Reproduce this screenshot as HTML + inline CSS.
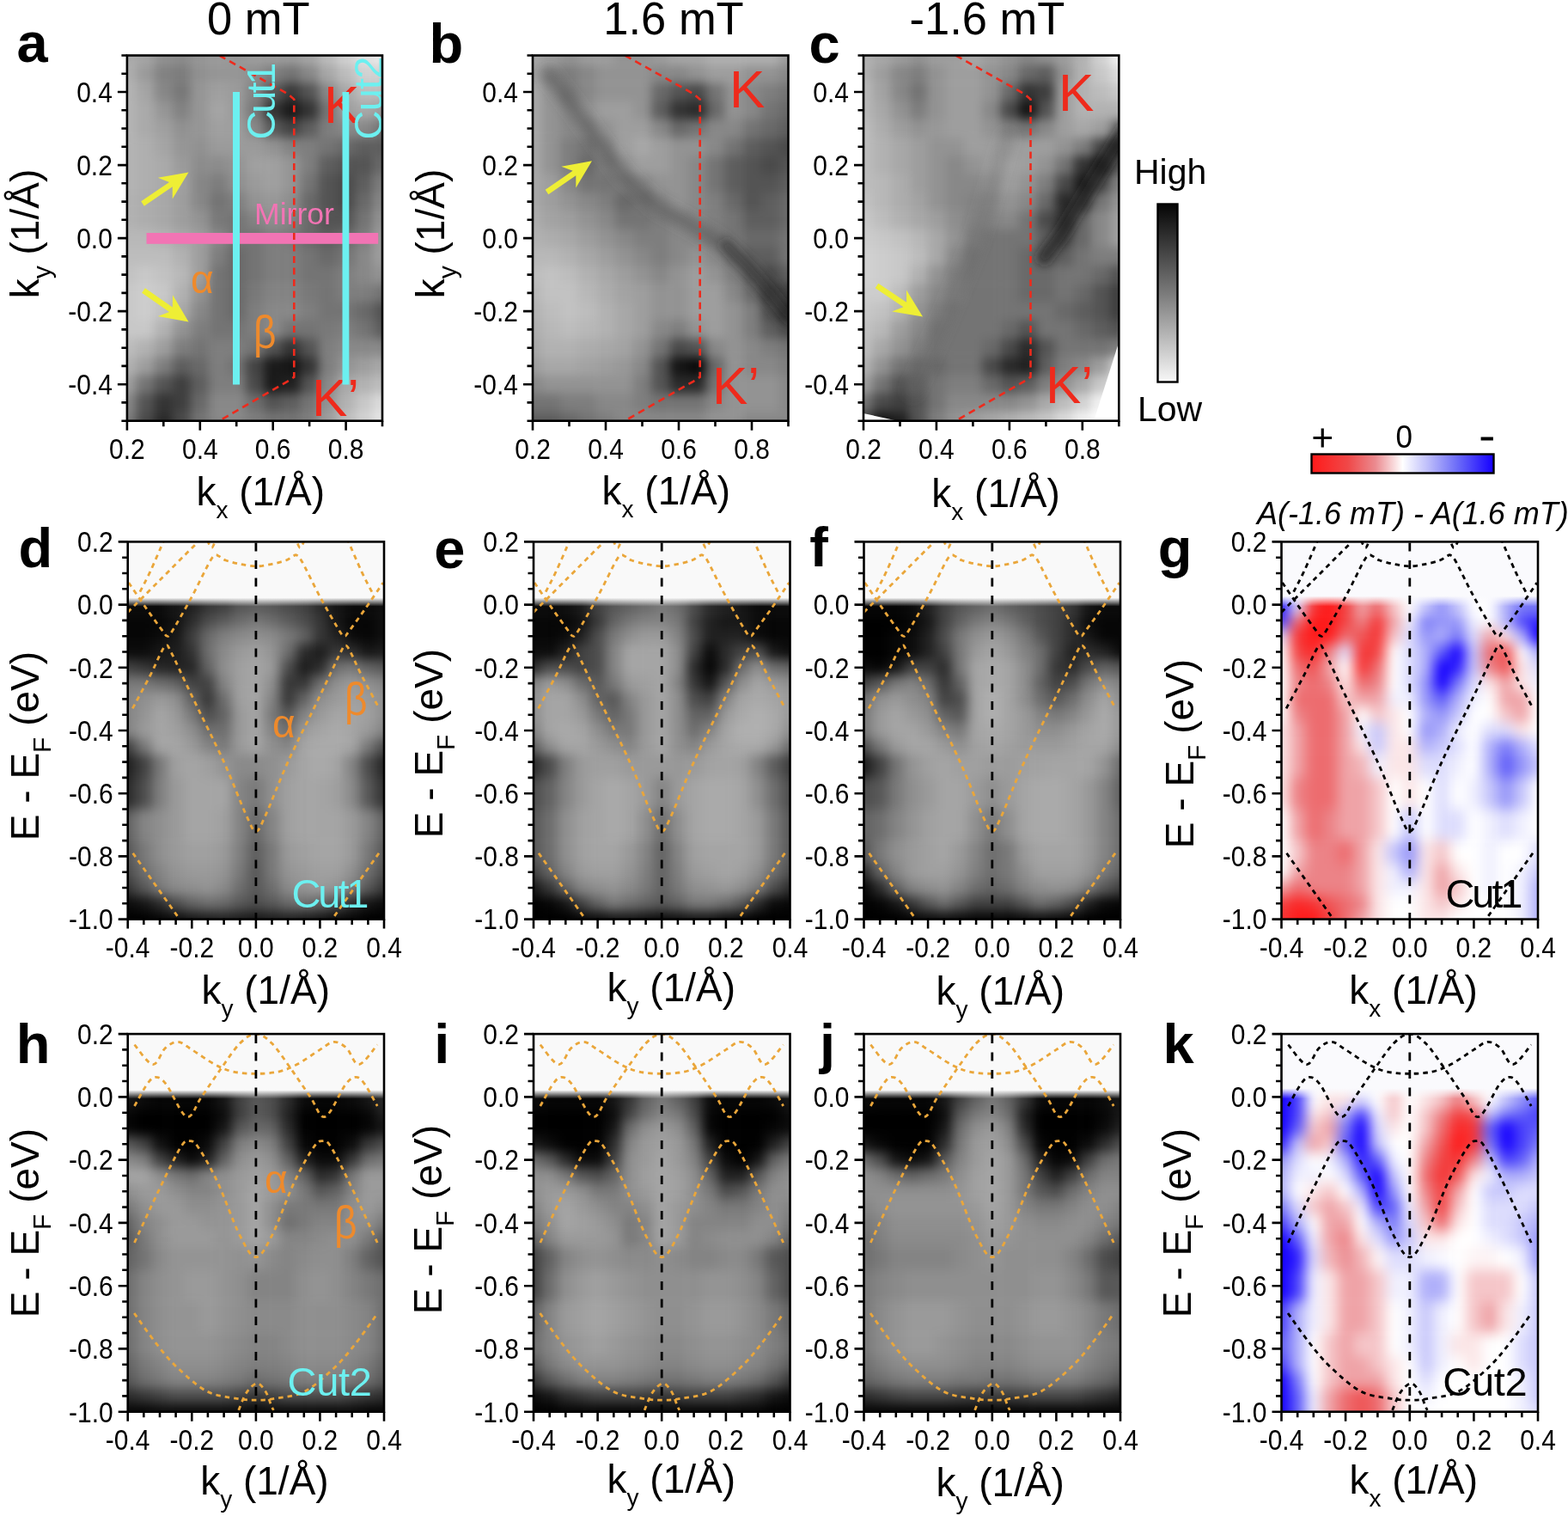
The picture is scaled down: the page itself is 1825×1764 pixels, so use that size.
<!DOCTYPE html>
<html><head><meta charset="utf-8"><style>
html,body{margin:0;padding:0;background:#fff;}
svg{display:block;}
text{font-family:'Liberation Sans', Arial, Helvetica, sans-serif;}
</style></head><body>
<svg width="1825" height="1764" viewBox="0 0 1825 1764">
<defs><clipPath id="c1"><rect x="148.7" y="630.4" width="298.3" height="439.2"/></clipPath>
<filter id="b1" x="-20%" y="-20%" width="140%" height="140%" color-interpolation-filters="sRGB"><feGaussianBlur stdDeviation="6.5"/></filter>
<linearGradient id="g2" gradientUnits="userSpaceOnUse" x1="0" y1="695.6" x2="0" y2="705.6"><stop offset="0" stop-color="#f9f9f9"/><stop offset="1" stop-color="#f9f9f9" stop-opacity="0"/></linearGradient>
<clipPath id="c3"><rect x="621" y="630.4" width="298.5" height="439.2"/></clipPath>
<filter id="b3" x="-20%" y="-20%" width="140%" height="140%" color-interpolation-filters="sRGB"><feGaussianBlur stdDeviation="6.5"/></filter>
<linearGradient id="g4" gradientUnits="userSpaceOnUse" x1="0" y1="695.6" x2="0" y2="705.6"><stop offset="0" stop-color="#f9f9f9"/><stop offset="1" stop-color="#f9f9f9" stop-opacity="0"/></linearGradient>
<clipPath id="c5"><rect x="1005.5" y="630.4" width="298.5" height="439.2"/></clipPath>
<filter id="b5" x="-20%" y="-20%" width="140%" height="140%" color-interpolation-filters="sRGB"><feGaussianBlur stdDeviation="6.5"/></filter>
<linearGradient id="g6" gradientUnits="userSpaceOnUse" x1="0" y1="695.6" x2="0" y2="705.6"><stop offset="0" stop-color="#f9f9f9"/><stop offset="1" stop-color="#f9f9f9" stop-opacity="0"/></linearGradient>
<clipPath id="c7"><rect x="148.7" y="1203.1" width="298.3" height="439.6"/></clipPath>
<filter id="b7" x="-20%" y="-20%" width="140%" height="140%" color-interpolation-filters="sRGB"><feGaussianBlur stdDeviation="6.5"/></filter>
<linearGradient id="g8" gradientUnits="userSpaceOnUse" x1="0" y1="1268.4" x2="0" y2="1278.4"><stop offset="0" stop-color="#f9f9f9"/><stop offset="1" stop-color="#f9f9f9" stop-opacity="0"/></linearGradient>
<clipPath id="c9"><rect x="621" y="1203.1" width="298.5" height="439.6"/></clipPath>
<filter id="b9" x="-20%" y="-20%" width="140%" height="140%" color-interpolation-filters="sRGB"><feGaussianBlur stdDeviation="6.5"/></filter>
<linearGradient id="g10" gradientUnits="userSpaceOnUse" x1="0" y1="1268.4" x2="0" y2="1278.4"><stop offset="0" stop-color="#f9f9f9"/><stop offset="1" stop-color="#f9f9f9" stop-opacity="0"/></linearGradient>
<clipPath id="c11"><rect x="1005.5" y="1203.1" width="298.5" height="439.6"/></clipPath>
<filter id="b11" x="-20%" y="-20%" width="140%" height="140%" color-interpolation-filters="sRGB"><feGaussianBlur stdDeviation="6.5"/></filter>
<linearGradient id="g12" gradientUnits="userSpaceOnUse" x1="0" y1="1268.4" x2="0" y2="1278.4"><stop offset="0" stop-color="#f9f9f9"/><stop offset="1" stop-color="#f9f9f9" stop-opacity="0"/></linearGradient>
<clipPath id="c13"><rect x="147.9" y="64.5" width="297.1" height="425.2"/></clipPath>
<filter id="b13" x="-20%" y="-20%" width="140%" height="140%" color-interpolation-filters="sRGB"><feGaussianBlur stdDeviation="6"/></filter>
<clipPath id="c14"><rect x="620" y="64.5" width="297.5" height="425.2"/></clipPath>
<filter id="b14" x="-20%" y="-20%" width="140%" height="140%" color-interpolation-filters="sRGB"><feGaussianBlur stdDeviation="6"/></filter>
<clipPath id="c15"><rect x="1005" y="64.5" width="297.3" height="425.2"/></clipPath>
<filter id="b15" x="-20%" y="-20%" width="140%" height="140%" color-interpolation-filters="sRGB"><feGaussianBlur stdDeviation="6"/></filter>
<filter id="bb16" x="-30%" y="-30%" width="160%" height="160%"><feGaussianBlur stdDeviation="6"/></filter>
<filter id="bb17" x="-30%" y="-30%" width="160%" height="160%"><feGaussianBlur stdDeviation="6.5"/></filter>
<filter id="bb18" x="-30%" y="-30%" width="160%" height="160%"><feGaussianBlur stdDeviation="5.5"/></filter>
<filter id="bb19" x="-30%" y="-30%" width="160%" height="160%"><feGaussianBlur stdDeviation="7"/></filter>
<clipPath id="c20"><rect x="1491.5" y="630.4" width="298.5" height="439.2"/></clipPath>
<filter id="b20" x="-20%" y="-20%" width="140%" height="140%" color-interpolation-filters="sRGB"><feGaussianBlur stdDeviation="7.5"/></filter>
<linearGradient id="g21" gradientUnits="userSpaceOnUse" x1="0" y1="693.6" x2="0" y2="705.6"><stop offset="0" stop-color="#fafafd"/><stop offset="1" stop-color="#fafafd" stop-opacity="0"/></linearGradient>
<clipPath id="c22"><rect x="1491.5" y="1203.1" width="298.5" height="439.6"/></clipPath>
<filter id="b22" x="-20%" y="-20%" width="140%" height="140%" color-interpolation-filters="sRGB"><feGaussianBlur stdDeviation="7.5"/></filter>
<linearGradient id="g23" gradientUnits="userSpaceOnUse" x1="0" y1="1266.4" x2="0" y2="1278.4"><stop offset="0" stop-color="#fafafd"/><stop offset="1" stop-color="#fafafd" stop-opacity="0"/></linearGradient>
<clipPath id="frd"><rect x="148.7" y="630.4" width="298.3" height="439.2"/></clipPath>
<clipPath id="fre"><rect x="621" y="630.4" width="298.5" height="439.2"/></clipPath>
<clipPath id="frf"><rect x="1005.5" y="630.4" width="298.5" height="439.2"/></clipPath>
<clipPath id="frg"><rect x="1491.5" y="630.4" width="298.5" height="439.2"/></clipPath>
<clipPath id="frh"><rect x="148.7" y="1203.1" width="298.3" height="439.6"/></clipPath>
<clipPath id="fri"><rect x="621" y="1203.1" width="298.5" height="439.6"/></clipPath>
<clipPath id="frj"><rect x="1005.5" y="1203.1" width="298.5" height="439.6"/></clipPath>
<clipPath id="frk"><rect x="1491.5" y="1203.1" width="298.5" height="439.6"/></clipPath>
<clipPath id="fra"><rect x="147.9" y="64.5" width="297.1" height="425.2"/></clipPath>
<clipPath id="frb"><rect x="620" y="64.5" width="297.5" height="425.2"/></clipPath>
<clipPath id="frc"><rect x="1005" y="64.5" width="297.3" height="425.2"/></clipPath>
<linearGradient id="cbg" x1="0" y1="0" x2="0" y2="1"><stop offset="0" stop-color="#050505"/><stop offset="0.5" stop-color="#7a7a7a"/><stop offset="1" stop-color="#f8f8f8"/></linearGradient>
<linearGradient id="cbrb" x1="0" y1="0" x2="1" y2="0"><stop offset="0" stop-color="#ff1a1a"/><stop offset="0.2" stop-color="#f04848"/><stop offset="0.35" stop-color="#eb8a8f"/><stop offset="0.5" stop-color="#ffffff"/><stop offset="0.65" stop-color="#b8b8fa"/><stop offset="0.8" stop-color="#6c6cf8"/><stop offset="1" stop-color="#1500ff"/></linearGradient></defs>
<rect width="1825" height="1764" fill="#fff"/>
<g clip-path="url(#c1)"><g filter="url(#b1)"><rect x="118.7" y="600.4" width="39.8" height="116.5" fill="#0b0b0b"/><rect x="158" y="600.4" width="19.1" height="116.5" fill="#0b0b0b"/><rect x="176.7" y="600.4" width="19.1" height="116.5" fill="#0b0b0b"/><rect x="195.3" y="600.4" width="19.1" height="116.5" fill="#161616"/><rect x="214" y="600.4" width="19.1" height="116.5" fill="#212121"/><rect x="232.6" y="600.4" width="19.1" height="116.5" fill="#373737"/><rect x="251.2" y="600.4" width="19.1" height="116.5" fill="#424242"/><rect x="269.9" y="600.4" width="19.1" height="116.5" fill="#585858"/><rect x="288.5" y="600.4" width="19.1" height="116.5" fill="#5e5e5e"/><rect x="307.2" y="600.4" width="19.1" height="116.5" fill="#585858"/><rect x="325.8" y="600.4" width="19.1" height="116.5" fill="#4d4d4d"/><rect x="344.5" y="600.4" width="19.1" height="116.5" fill="#424242"/><rect x="363.1" y="600.4" width="19.1" height="116.5" fill="#2c2c2c"/><rect x="381.7" y="600.4" width="19.1" height="116.5" fill="#161616"/><rect x="400.4" y="600.4" width="19.1" height="116.5" fill="#0b0b0b"/><rect x="419" y="600.4" width="19.1" height="116.5" fill="#0b0b0b"/><rect x="437.7" y="600.4" width="39.8" height="116.5" fill="#101010"/><rect x="118.7" y="716.4" width="39.8" height="15.1" fill="#060606"/><rect x="158" y="716.4" width="19.1" height="15.1" fill="#060606"/><rect x="176.7" y="716.4" width="19.1" height="15.1" fill="#060606"/><rect x="195.3" y="716.4" width="19.1" height="15.1" fill="#101010"/><rect x="214" y="716.4" width="19.1" height="15.1" fill="#2c2c2c"/><rect x="232.6" y="716.4" width="19.1" height="15.1" fill="#4d4d4d"/><rect x="251.2" y="716.4" width="19.1" height="15.1" fill="#5e5e5e"/><rect x="269.9" y="716.4" width="19.1" height="15.1" fill="#6e6e6e"/><rect x="288.5" y="716.4" width="19.1" height="15.1" fill="#797979"/><rect x="307.2" y="716.4" width="19.1" height="15.1" fill="#6e6e6e"/><rect x="325.8" y="716.4" width="19.1" height="15.1" fill="#5e5e5e"/><rect x="344.5" y="716.4" width="19.1" height="15.1" fill="#4d4d4d"/><rect x="363.1" y="716.4" width="19.1" height="15.1" fill="#373737"/><rect x="381.7" y="716.4" width="19.1" height="15.1" fill="#161616"/><rect x="400.4" y="716.4" width="19.1" height="15.1" fill="#060606"/><rect x="419" y="716.4" width="19.1" height="15.1" fill="#060606"/><rect x="437.7" y="716.4" width="39.8" height="15.1" fill="#101010"/><rect x="118.7" y="731" width="39.8" height="18.8" fill="#060606"/><rect x="158" y="731" width="19.1" height="18.8" fill="#060606"/><rect x="176.7" y="731" width="19.1" height="18.8" fill="#0b0b0b"/><rect x="195.3" y="731" width="19.1" height="18.8" fill="#161616"/><rect x="214" y="731" width="19.1" height="18.8" fill="#3d3d3d"/><rect x="232.6" y="731" width="19.1" height="18.8" fill="#696969"/><rect x="251.2" y="731" width="19.1" height="18.8" fill="#7f7f7f"/><rect x="269.9" y="731" width="19.1" height="18.8" fill="#8a8a8a"/><rect x="288.5" y="731" width="19.1" height="18.8" fill="#8f8f8f"/><rect x="307.2" y="731" width="19.1" height="18.8" fill="#8a8a8a"/><rect x="325.8" y="731" width="19.1" height="18.8" fill="#797979"/><rect x="344.5" y="731" width="19.1" height="18.8" fill="#636363"/><rect x="363.1" y="731" width="19.1" height="18.8" fill="#373737"/><rect x="381.7" y="731" width="19.1" height="18.8" fill="#212121"/><rect x="400.4" y="731" width="19.1" height="18.8" fill="#0b0b0b"/><rect x="419" y="731" width="19.1" height="18.8" fill="#060606"/><rect x="437.7" y="731" width="39.8" height="18.8" fill="#101010"/><rect x="118.7" y="749.4" width="39.8" height="18.8" fill="#0b0b0b"/><rect x="158" y="749.4" width="19.1" height="18.8" fill="#0b0b0b"/><rect x="176.7" y="749.4" width="19.1" height="18.8" fill="#161616"/><rect x="195.3" y="749.4" width="19.1" height="18.8" fill="#1c1c1c"/><rect x="214" y="749.4" width="19.1" height="18.8" fill="#323232"/><rect x="232.6" y="749.4" width="19.1" height="18.8" fill="#6e6e6e"/><rect x="251.2" y="749.4" width="19.1" height="18.8" fill="#8a8a8a"/><rect x="269.9" y="749.4" width="19.1" height="18.8" fill="#9a9a9a"/><rect x="288.5" y="749.4" width="19.1" height="18.8" fill="#a0a0a0"/><rect x="307.2" y="749.4" width="19.1" height="18.8" fill="#949494"/><rect x="325.8" y="749.4" width="19.1" height="18.8" fill="#6e6e6e"/><rect x="344.5" y="749.4" width="19.1" height="18.8" fill="#2c2c2c"/><rect x="363.1" y="749.4" width="19.1" height="18.8" fill="#1c1c1c"/><rect x="381.7" y="749.4" width="19.1" height="18.8" fill="#373737"/><rect x="400.4" y="749.4" width="19.1" height="18.8" fill="#2c2c2c"/><rect x="419" y="749.4" width="19.1" height="18.8" fill="#161616"/><rect x="437.7" y="749.4" width="39.8" height="18.8" fill="#1c1c1c"/><rect x="118.7" y="767.6" width="39.8" height="18.8" fill="#424242"/><rect x="158" y="767.6" width="19.1" height="18.8" fill="#373737"/><rect x="176.7" y="767.6" width="19.1" height="18.8" fill="#262626"/><rect x="195.3" y="767.6" width="19.1" height="18.8" fill="#212121"/><rect x="214" y="767.6" width="19.1" height="18.8" fill="#262626"/><rect x="232.6" y="767.6" width="19.1" height="18.8" fill="#636363"/><rect x="251.2" y="767.6" width="19.1" height="18.8" fill="#8f8f8f"/><rect x="269.9" y="767.6" width="19.1" height="18.8" fill="#a0a0a0"/><rect x="288.5" y="767.6" width="19.1" height="18.8" fill="#a5a5a5"/><rect x="307.2" y="767.6" width="19.1" height="18.8" fill="#9a9a9a"/><rect x="325.8" y="767.6" width="19.1" height="18.8" fill="#4d4d4d"/><rect x="344.5" y="767.6" width="19.1" height="18.8" fill="#1c1c1c"/><rect x="363.1" y="767.6" width="19.1" height="18.8" fill="#2c2c2c"/><rect x="381.7" y="767.6" width="19.1" height="18.8" fill="#6e6e6e"/><rect x="400.4" y="767.6" width="19.1" height="18.8" fill="#797979"/><rect x="419" y="767.6" width="19.1" height="18.8" fill="#636363"/><rect x="437.7" y="767.6" width="39.8" height="18.8" fill="#585858"/><rect x="118.7" y="785.9" width="39.8" height="18.8" fill="#797979"/><rect x="158" y="785.9" width="19.1" height="18.8" fill="#797979"/><rect x="176.7" y="785.9" width="19.1" height="18.8" fill="#6e6e6e"/><rect x="195.3" y="785.9" width="19.1" height="18.8" fill="#636363"/><rect x="214" y="785.9" width="19.1" height="18.8" fill="#424242"/><rect x="232.6" y="785.9" width="19.1" height="18.8" fill="#424242"/><rect x="251.2" y="785.9" width="19.1" height="18.8" fill="#848484"/><rect x="269.9" y="785.9" width="19.1" height="18.8" fill="#a0a0a0"/><rect x="288.5" y="785.9" width="19.1" height="18.8" fill="#a5a5a5"/><rect x="307.2" y="785.9" width="19.1" height="18.8" fill="#8f8f8f"/><rect x="325.8" y="785.9" width="19.1" height="18.8" fill="#373737"/><rect x="344.5" y="785.9" width="19.1" height="18.8" fill="#373737"/><rect x="363.1" y="785.9" width="19.1" height="18.8" fill="#6e6e6e"/><rect x="381.7" y="785.9" width="19.1" height="18.8" fill="#8f8f8f"/><rect x="400.4" y="785.9" width="19.1" height="18.8" fill="#9a9a9a"/><rect x="419" y="785.9" width="19.1" height="18.8" fill="#8f8f8f"/><rect x="437.7" y="785.9" width="39.8" height="18.8" fill="#848484"/><rect x="118.7" y="804.2" width="39.8" height="18.8" fill="#848484"/><rect x="158" y="804.2" width="19.1" height="18.8" fill="#8f8f8f"/><rect x="176.7" y="804.2" width="19.1" height="18.8" fill="#9a9a9a"/><rect x="195.3" y="804.2" width="19.1" height="18.8" fill="#8f8f8f"/><rect x="214" y="804.2" width="19.1" height="18.8" fill="#636363"/><rect x="232.6" y="804.2" width="19.1" height="18.8" fill="#373737"/><rect x="251.2" y="804.2" width="19.1" height="18.8" fill="#6e6e6e"/><rect x="269.9" y="804.2" width="19.1" height="18.8" fill="#a0a0a0"/><rect x="288.5" y="804.2" width="19.1" height="18.8" fill="#a5a5a5"/><rect x="307.2" y="804.2" width="19.1" height="18.8" fill="#848484"/><rect x="325.8" y="804.2" width="19.1" height="18.8" fill="#373737"/><rect x="344.5" y="804.2" width="19.1" height="18.8" fill="#636363"/><rect x="363.1" y="804.2" width="19.1" height="18.8" fill="#8f8f8f"/><rect x="381.7" y="804.2" width="19.1" height="18.8" fill="#9a9a9a"/><rect x="400.4" y="804.2" width="19.1" height="18.8" fill="#a0a0a0"/><rect x="419" y="804.2" width="19.1" height="18.8" fill="#9a9a9a"/><rect x="437.7" y="804.2" width="39.8" height="18.8" fill="#8f8f8f"/><rect x="118.7" y="822.5" width="39.8" height="18.8" fill="#848484"/><rect x="158" y="822.5" width="19.1" height="18.8" fill="#949494"/><rect x="176.7" y="822.5" width="19.1" height="18.8" fill="#a5a5a5"/><rect x="195.3" y="822.5" width="19.1" height="18.8" fill="#9a9a9a"/><rect x="214" y="822.5" width="19.1" height="18.8" fill="#797979"/><rect x="232.6" y="822.5" width="19.1" height="18.8" fill="#4d4d4d"/><rect x="251.2" y="822.5" width="19.1" height="18.8" fill="#636363"/><rect x="269.9" y="822.5" width="19.1" height="18.8" fill="#9a9a9a"/><rect x="288.5" y="822.5" width="19.1" height="18.8" fill="#a5a5a5"/><rect x="307.2" y="822.5" width="19.1" height="18.8" fill="#797979"/><rect x="325.8" y="822.5" width="19.1" height="18.8" fill="#585858"/><rect x="344.5" y="822.5" width="19.1" height="18.8" fill="#848484"/><rect x="363.1" y="822.5" width="19.1" height="18.8" fill="#9a9a9a"/><rect x="381.7" y="822.5" width="19.1" height="18.8" fill="#a5a5a5"/><rect x="400.4" y="822.5" width="19.1" height="18.8" fill="#a5a5a5"/><rect x="419" y="822.5" width="19.1" height="18.8" fill="#a0a0a0"/><rect x="437.7" y="822.5" width="39.8" height="18.8" fill="#8f8f8f"/><rect x="118.7" y="840.8" width="39.8" height="18.8" fill="#848484"/><rect x="158" y="840.8" width="19.1" height="18.8" fill="#9a9a9a"/><rect x="176.7" y="840.8" width="19.1" height="18.8" fill="#a5a5a5"/><rect x="195.3" y="840.8" width="19.1" height="18.8" fill="#a0a0a0"/><rect x="214" y="840.8" width="19.1" height="18.8" fill="#8f8f8f"/><rect x="232.6" y="840.8" width="19.1" height="18.8" fill="#6e6e6e"/><rect x="251.2" y="840.8" width="19.1" height="18.8" fill="#6e6e6e"/><rect x="269.9" y="840.8" width="19.1" height="18.8" fill="#9a9a9a"/><rect x="288.5" y="840.8" width="19.1" height="18.8" fill="#a5a5a5"/><rect x="307.2" y="840.8" width="19.1" height="18.8" fill="#848484"/><rect x="325.8" y="840.8" width="19.1" height="18.8" fill="#6e6e6e"/><rect x="344.5" y="840.8" width="19.1" height="18.8" fill="#9a9a9a"/><rect x="363.1" y="840.8" width="19.1" height="18.8" fill="#a5a5a5"/><rect x="381.7" y="840.8" width="19.1" height="18.8" fill="#aaaaaa"/><rect x="400.4" y="840.8" width="19.1" height="18.8" fill="#a5a5a5"/><rect x="419" y="840.8" width="19.1" height="18.8" fill="#9a9a9a"/><rect x="437.7" y="840.8" width="39.8" height="18.8" fill="#848484"/><rect x="118.7" y="859.1" width="39.8" height="18.8" fill="#424242"/><rect x="158" y="859.1" width="19.1" height="18.8" fill="#797979"/><rect x="176.7" y="859.1" width="19.1" height="18.8" fill="#a5a5a5"/><rect x="195.3" y="859.1" width="19.1" height="18.8" fill="#a5a5a5"/><rect x="214" y="859.1" width="19.1" height="18.8" fill="#9a9a9a"/><rect x="232.6" y="859.1" width="19.1" height="18.8" fill="#848484"/><rect x="251.2" y="859.1" width="19.1" height="18.8" fill="#797979"/><rect x="269.9" y="859.1" width="19.1" height="18.8" fill="#9a9a9a"/><rect x="288.5" y="859.1" width="19.1" height="18.8" fill="#a5a5a5"/><rect x="307.2" y="859.1" width="19.1" height="18.8" fill="#8f8f8f"/><rect x="325.8" y="859.1" width="19.1" height="18.8" fill="#848484"/><rect x="344.5" y="859.1" width="19.1" height="18.8" fill="#a5a5a5"/><rect x="363.1" y="859.1" width="19.1" height="18.8" fill="#aaaaaa"/><rect x="381.7" y="859.1" width="19.1" height="18.8" fill="#aaaaaa"/><rect x="400.4" y="859.1" width="19.1" height="18.8" fill="#a5a5a5"/><rect x="419" y="859.1" width="19.1" height="18.8" fill="#797979"/><rect x="437.7" y="859.1" width="39.8" height="18.8" fill="#4d4d4d"/><rect x="118.7" y="877.4" width="39.8" height="28" fill="#212121"/><rect x="158" y="877.4" width="19.1" height="28" fill="#424242"/><rect x="176.7" y="877.4" width="19.1" height="28" fill="#797979"/><rect x="195.3" y="877.4" width="19.1" height="28" fill="#a0a0a0"/><rect x="214" y="877.4" width="19.1" height="28" fill="#a5a5a5"/><rect x="232.6" y="877.4" width="19.1" height="28" fill="#a0a0a0"/><rect x="251.2" y="877.4" width="19.1" height="28" fill="#949494"/><rect x="269.9" y="877.4" width="19.1" height="28" fill="#8a8a8a"/><rect x="288.5" y="877.4" width="19.1" height="28" fill="#8a8a8a"/><rect x="307.2" y="877.4" width="19.1" height="28" fill="#8f8f8f"/><rect x="325.8" y="877.4" width="19.1" height="28" fill="#9a9a9a"/><rect x="344.5" y="877.4" width="19.1" height="28" fill="#a5a5a5"/><rect x="363.1" y="877.4" width="19.1" height="28" fill="#aaaaaa"/><rect x="381.7" y="877.4" width="19.1" height="28" fill="#a5a5a5"/><rect x="400.4" y="877.4" width="19.1" height="28" fill="#848484"/><rect x="419" y="877.4" width="19.1" height="28" fill="#4d4d4d"/><rect x="437.7" y="877.4" width="39.8" height="28" fill="#262626"/><rect x="118.7" y="904.9" width="39.8" height="37.1" fill="#2c2c2c"/><rect x="158" y="904.9" width="19.1" height="37.1" fill="#4d4d4d"/><rect x="176.7" y="904.9" width="19.1" height="37.1" fill="#7f7f7f"/><rect x="195.3" y="904.9" width="19.1" height="37.1" fill="#9a9a9a"/><rect x="214" y="904.9" width="19.1" height="37.1" fill="#a5a5a5"/><rect x="232.6" y="904.9" width="19.1" height="37.1" fill="#a5a5a5"/><rect x="251.2" y="904.9" width="19.1" height="37.1" fill="#a5a5a5"/><rect x="269.9" y="904.9" width="19.1" height="37.1" fill="#848484"/><rect x="288.5" y="904.9" width="19.1" height="37.1" fill="#797979"/><rect x="307.2" y="904.9" width="19.1" height="37.1" fill="#8f8f8f"/><rect x="325.8" y="904.9" width="19.1" height="37.1" fill="#a0a0a0"/><rect x="344.5" y="904.9" width="19.1" height="37.1" fill="#a5a5a5"/><rect x="363.1" y="904.9" width="19.1" height="37.1" fill="#a5a5a5"/><rect x="381.7" y="904.9" width="19.1" height="37.1" fill="#a0a0a0"/><rect x="400.4" y="904.9" width="19.1" height="37.1" fill="#8a8a8a"/><rect x="419" y="904.9" width="19.1" height="37.1" fill="#585858"/><rect x="437.7" y="904.9" width="39.8" height="37.1" fill="#323232"/><rect x="118.7" y="941.5" width="39.8" height="37.1" fill="#636363"/><rect x="158" y="941.5" width="19.1" height="37.1" fill="#848484"/><rect x="176.7" y="941.5" width="19.1" height="37.1" fill="#8f8f8f"/><rect x="195.3" y="941.5" width="19.1" height="37.1" fill="#9a9a9a"/><rect x="214" y="941.5" width="19.1" height="37.1" fill="#a5a5a5"/><rect x="232.6" y="941.5" width="19.1" height="37.1" fill="#a5a5a5"/><rect x="251.2" y="941.5" width="19.1" height="37.1" fill="#a0a0a0"/><rect x="269.9" y="941.5" width="19.1" height="37.1" fill="#848484"/><rect x="288.5" y="941.5" width="19.1" height="37.1" fill="#696969"/><rect x="307.2" y="941.5" width="19.1" height="37.1" fill="#848484"/><rect x="325.8" y="941.5" width="19.1" height="37.1" fill="#a0a0a0"/><rect x="344.5" y="941.5" width="19.1" height="37.1" fill="#a5a5a5"/><rect x="363.1" y="941.5" width="19.1" height="37.1" fill="#a5a5a5"/><rect x="381.7" y="941.5" width="19.1" height="37.1" fill="#a5a5a5"/><rect x="400.4" y="941.5" width="19.1" height="37.1" fill="#9a9a9a"/><rect x="419" y="941.5" width="19.1" height="37.1" fill="#848484"/><rect x="437.7" y="941.5" width="39.8" height="37.1" fill="#636363"/><rect x="118.7" y="978.1" width="39.8" height="28" fill="#585858"/><rect x="158" y="978.1" width="19.1" height="28" fill="#797979"/><rect x="176.7" y="978.1" width="19.1" height="28" fill="#8f8f8f"/><rect x="195.3" y="978.1" width="19.1" height="28" fill="#9a9a9a"/><rect x="214" y="978.1" width="19.1" height="28" fill="#a0a0a0"/><rect x="232.6" y="978.1" width="19.1" height="28" fill="#a0a0a0"/><rect x="251.2" y="978.1" width="19.1" height="28" fill="#9a9a9a"/><rect x="269.9" y="978.1" width="19.1" height="28" fill="#7f7f7f"/><rect x="288.5" y="978.1" width="19.1" height="28" fill="#5e5e5e"/><rect x="307.2" y="978.1" width="19.1" height="28" fill="#797979"/><rect x="325.8" y="978.1" width="19.1" height="28" fill="#9a9a9a"/><rect x="344.5" y="978.1" width="19.1" height="28" fill="#a0a0a0"/><rect x="363.1" y="978.1" width="19.1" height="28" fill="#a5a5a5"/><rect x="381.7" y="978.1" width="19.1" height="28" fill="#a5a5a5"/><rect x="400.4" y="978.1" width="19.1" height="28" fill="#9a9a9a"/><rect x="419" y="978.1" width="19.1" height="28" fill="#797979"/><rect x="437.7" y="978.1" width="39.8" height="28" fill="#585858"/><rect x="118.7" y="1005.5" width="39.8" height="18.8" fill="#4d4d4d"/><rect x="158" y="1005.5" width="19.1" height="18.8" fill="#6e6e6e"/><rect x="176.7" y="1005.5" width="19.1" height="18.8" fill="#848484"/><rect x="195.3" y="1005.5" width="19.1" height="18.8" fill="#949494"/><rect x="214" y="1005.5" width="19.1" height="18.8" fill="#9a9a9a"/><rect x="232.6" y="1005.5" width="19.1" height="18.8" fill="#9a9a9a"/><rect x="251.2" y="1005.5" width="19.1" height="18.8" fill="#949494"/><rect x="269.9" y="1005.5" width="19.1" height="18.8" fill="#797979"/><rect x="288.5" y="1005.5" width="19.1" height="18.8" fill="#585858"/><rect x="307.2" y="1005.5" width="19.1" height="18.8" fill="#797979"/><rect x="325.8" y="1005.5" width="19.1" height="18.8" fill="#949494"/><rect x="344.5" y="1005.5" width="19.1" height="18.8" fill="#9a9a9a"/><rect x="363.1" y="1005.5" width="19.1" height="18.8" fill="#a0a0a0"/><rect x="381.7" y="1005.5" width="19.1" height="18.8" fill="#a0a0a0"/><rect x="400.4" y="1005.5" width="19.1" height="18.8" fill="#8f8f8f"/><rect x="419" y="1005.5" width="19.1" height="18.8" fill="#6e6e6e"/><rect x="437.7" y="1005.5" width="39.8" height="18.8" fill="#4d4d4d"/><rect x="118.7" y="1023.9" width="39.8" height="18.8" fill="#373737"/><rect x="158" y="1023.9" width="19.1" height="18.8" fill="#585858"/><rect x="176.7" y="1023.9" width="19.1" height="18.8" fill="#797979"/><rect x="195.3" y="1023.9" width="19.1" height="18.8" fill="#8a8a8a"/><rect x="214" y="1023.9" width="19.1" height="18.8" fill="#8f8f8f"/><rect x="232.6" y="1023.9" width="19.1" height="18.8" fill="#949494"/><rect x="251.2" y="1023.9" width="19.1" height="18.8" fill="#8a8a8a"/><rect x="269.9" y="1023.9" width="19.1" height="18.8" fill="#6e6e6e"/><rect x="288.5" y="1023.9" width="19.1" height="18.8" fill="#585858"/><rect x="307.2" y="1023.9" width="19.1" height="18.8" fill="#6e6e6e"/><rect x="325.8" y="1023.9" width="19.1" height="18.8" fill="#8a8a8a"/><rect x="344.5" y="1023.9" width="19.1" height="18.8" fill="#949494"/><rect x="363.1" y="1023.9" width="19.1" height="18.8" fill="#9a9a9a"/><rect x="381.7" y="1023.9" width="19.1" height="18.8" fill="#949494"/><rect x="400.4" y="1023.9" width="19.1" height="18.8" fill="#7f7f7f"/><rect x="419" y="1023.9" width="19.1" height="18.8" fill="#585858"/><rect x="437.7" y="1023.9" width="39.8" height="18.8" fill="#373737"/><rect x="118.7" y="1042.2" width="39.8" height="18.8" fill="#0b0b0b"/><rect x="158" y="1042.2" width="19.1" height="18.8" fill="#161616"/><rect x="176.7" y="1042.2" width="19.1" height="18.8" fill="#2c2c2c"/><rect x="195.3" y="1042.2" width="19.1" height="18.8" fill="#4d4d4d"/><rect x="214" y="1042.2" width="19.1" height="18.8" fill="#636363"/><rect x="232.6" y="1042.2" width="19.1" height="18.8" fill="#6e6e6e"/><rect x="251.2" y="1042.2" width="19.1" height="18.8" fill="#696969"/><rect x="269.9" y="1042.2" width="19.1" height="18.8" fill="#585858"/><rect x="288.5" y="1042.2" width="19.1" height="18.8" fill="#4d4d4d"/><rect x="307.2" y="1042.2" width="19.1" height="18.8" fill="#585858"/><rect x="325.8" y="1042.2" width="19.1" height="18.8" fill="#696969"/><rect x="344.5" y="1042.2" width="19.1" height="18.8" fill="#6e6e6e"/><rect x="363.1" y="1042.2" width="19.1" height="18.8" fill="#636363"/><rect x="381.7" y="1042.2" width="19.1" height="18.8" fill="#4d4d4d"/><rect x="400.4" y="1042.2" width="19.1" height="18.8" fill="#2c2c2c"/><rect x="419" y="1042.2" width="19.1" height="18.8" fill="#161616"/><rect x="437.7" y="1042.2" width="39.8" height="18.8" fill="#0b0b0b"/><rect x="118.7" y="1060.4" width="39.8" height="39.7" fill="#000000"/><rect x="158" y="1060.4" width="19.1" height="39.7" fill="#000000"/><rect x="176.7" y="1060.4" width="19.1" height="39.7" fill="#060606"/><rect x="195.3" y="1060.4" width="19.1" height="39.7" fill="#0b0b0b"/><rect x="214" y="1060.4" width="19.1" height="39.7" fill="#161616"/><rect x="232.6" y="1060.4" width="19.1" height="39.7" fill="#1c1c1c"/><rect x="251.2" y="1060.4" width="19.1" height="39.7" fill="#212121"/><rect x="269.9" y="1060.4" width="19.1" height="39.7" fill="#1c1c1c"/><rect x="288.5" y="1060.4" width="19.1" height="39.7" fill="#161616"/><rect x="307.2" y="1060.4" width="19.1" height="39.7" fill="#1c1c1c"/><rect x="325.8" y="1060.4" width="19.1" height="39.7" fill="#212121"/><rect x="344.5" y="1060.4" width="19.1" height="39.7" fill="#1c1c1c"/><rect x="363.1" y="1060.4" width="19.1" height="39.7" fill="#161616"/><rect x="381.7" y="1060.4" width="19.1" height="39.7" fill="#0b0b0b"/><rect x="400.4" y="1060.4" width="19.1" height="39.7" fill="#060606"/><rect x="419" y="1060.4" width="19.1" height="39.7" fill="#000000"/><rect x="437.7" y="1060.4" width="39.8" height="39.7" fill="#000000"/></g></g>
<rect x="148.7" y="630.4" width="298.3" height="75.2" fill="url(#g2)"/>
<g clip-path="url(#c3)"><g filter="url(#b3)"><rect x="591" y="600.4" width="39.8" height="116.5" fill="#0b0b0b"/><rect x="630.3" y="600.4" width="19.2" height="116.5" fill="#0b0b0b"/><rect x="649" y="600.4" width="19.2" height="116.5" fill="#101010"/><rect x="667.6" y="600.4" width="19.2" height="116.5" fill="#1c1c1c"/><rect x="686.3" y="600.4" width="19.2" height="116.5" fill="#424242"/><rect x="705" y="600.4" width="19.2" height="116.5" fill="#585858"/><rect x="723.6" y="600.4" width="19.2" height="116.5" fill="#636363"/><rect x="742.3" y="600.4" width="19.2" height="116.5" fill="#6e6e6e"/><rect x="760.9" y="600.4" width="19.2" height="116.5" fill="#797979"/><rect x="779.6" y="600.4" width="19.2" height="116.5" fill="#6e6e6e"/><rect x="798.2" y="600.4" width="19.2" height="116.5" fill="#4d4d4d"/><rect x="816.9" y="600.4" width="19.2" height="116.5" fill="#2c2c2c"/><rect x="835.5" y="600.4" width="19.2" height="116.5" fill="#212121"/><rect x="854.2" y="600.4" width="19.2" height="116.5" fill="#161616"/><rect x="872.9" y="600.4" width="19.2" height="116.5" fill="#0b0b0b"/><rect x="891.5" y="600.4" width="19.2" height="116.5" fill="#0b0b0b"/><rect x="910.2" y="600.4" width="39.8" height="116.5" fill="#0b0b0b"/><rect x="591" y="716.4" width="39.8" height="15.1" fill="#060606"/><rect x="630.3" y="716.4" width="19.2" height="15.1" fill="#060606"/><rect x="649" y="716.4" width="19.2" height="15.1" fill="#060606"/><rect x="667.6" y="716.4" width="19.2" height="15.1" fill="#101010"/><rect x="686.3" y="716.4" width="19.2" height="15.1" fill="#373737"/><rect x="705" y="716.4" width="19.2" height="15.1" fill="#636363"/><rect x="723.6" y="716.4" width="19.2" height="15.1" fill="#797979"/><rect x="742.3" y="716.4" width="19.2" height="15.1" fill="#848484"/><rect x="760.9" y="716.4" width="19.2" height="15.1" fill="#848484"/><rect x="779.6" y="716.4" width="19.2" height="15.1" fill="#797979"/><rect x="798.2" y="716.4" width="19.2" height="15.1" fill="#424242"/><rect x="816.9" y="716.4" width="19.2" height="15.1" fill="#212121"/><rect x="835.5" y="716.4" width="19.2" height="15.1" fill="#161616"/><rect x="854.2" y="716.4" width="19.2" height="15.1" fill="#161616"/><rect x="872.9" y="716.4" width="19.2" height="15.1" fill="#0b0b0b"/><rect x="891.5" y="716.4" width="19.2" height="15.1" fill="#060606"/><rect x="910.2" y="716.4" width="39.8" height="15.1" fill="#060606"/><rect x="591" y="731" width="39.8" height="18.8" fill="#060606"/><rect x="630.3" y="731" width="19.2" height="18.8" fill="#060606"/><rect x="649" y="731" width="19.2" height="18.8" fill="#0b0b0b"/><rect x="667.6" y="731" width="19.2" height="18.8" fill="#212121"/><rect x="686.3" y="731" width="19.2" height="18.8" fill="#4d4d4d"/><rect x="705" y="731" width="19.2" height="18.8" fill="#797979"/><rect x="723.6" y="731" width="19.2" height="18.8" fill="#8f8f8f"/><rect x="742.3" y="731" width="19.2" height="18.8" fill="#9a9a9a"/><rect x="760.9" y="731" width="19.2" height="18.8" fill="#9a9a9a"/><rect x="779.6" y="731" width="19.2" height="18.8" fill="#848484"/><rect x="798.2" y="731" width="19.2" height="18.8" fill="#4d4d4d"/><rect x="816.9" y="731" width="19.2" height="18.8" fill="#212121"/><rect x="835.5" y="731" width="19.2" height="18.8" fill="#212121"/><rect x="854.2" y="731" width="19.2" height="18.8" fill="#212121"/><rect x="872.9" y="731" width="19.2" height="18.8" fill="#0b0b0b"/><rect x="891.5" y="731" width="19.2" height="18.8" fill="#060606"/><rect x="910.2" y="731" width="39.8" height="18.8" fill="#060606"/><rect x="591" y="749.4" width="39.8" height="18.8" fill="#0b0b0b"/><rect x="630.3" y="749.4" width="19.2" height="18.8" fill="#0b0b0b"/><rect x="649" y="749.4" width="19.2" height="18.8" fill="#212121"/><rect x="667.6" y="749.4" width="19.2" height="18.8" fill="#424242"/><rect x="686.3" y="749.4" width="19.2" height="18.8" fill="#4d4d4d"/><rect x="705" y="749.4" width="19.2" height="18.8" fill="#848484"/><rect x="723.6" y="749.4" width="19.2" height="18.8" fill="#a5a5a5"/><rect x="742.3" y="749.4" width="19.2" height="18.8" fill="#a5a5a5"/><rect x="760.9" y="749.4" width="19.2" height="18.8" fill="#a5a5a5"/><rect x="779.6" y="749.4" width="19.2" height="18.8" fill="#8f8f8f"/><rect x="798.2" y="749.4" width="19.2" height="18.8" fill="#424242"/><rect x="816.9" y="749.4" width="19.2" height="18.8" fill="#0b0b0b"/><rect x="835.5" y="749.4" width="19.2" height="18.8" fill="#2c2c2c"/><rect x="854.2" y="749.4" width="19.2" height="18.8" fill="#424242"/><rect x="872.9" y="749.4" width="19.2" height="18.8" fill="#4d4d4d"/><rect x="891.5" y="749.4" width="19.2" height="18.8" fill="#161616"/><rect x="910.2" y="749.4" width="39.8" height="18.8" fill="#0b0b0b"/><rect x="591" y="767.6" width="39.8" height="18.8" fill="#2c2c2c"/><rect x="630.3" y="767.6" width="19.2" height="18.8" fill="#4d4d4d"/><rect x="649" y="767.6" width="19.2" height="18.8" fill="#4d4d4d"/><rect x="667.6" y="767.6" width="19.2" height="18.8" fill="#424242"/><rect x="686.3" y="767.6" width="19.2" height="18.8" fill="#4d4d4d"/><rect x="705" y="767.6" width="19.2" height="18.8" fill="#848484"/><rect x="723.6" y="767.6" width="19.2" height="18.8" fill="#a5a5a5"/><rect x="742.3" y="767.6" width="19.2" height="18.8" fill="#a5a5a5"/><rect x="760.9" y="767.6" width="19.2" height="18.8" fill="#a5a5a5"/><rect x="779.6" y="767.6" width="19.2" height="18.8" fill="#8f8f8f"/><rect x="798.2" y="767.6" width="19.2" height="18.8" fill="#2c2c2c"/><rect x="816.9" y="767.6" width="19.2" height="18.8" fill="#060606"/><rect x="835.5" y="767.6" width="19.2" height="18.8" fill="#2c2c2c"/><rect x="854.2" y="767.6" width="19.2" height="18.8" fill="#6e6e6e"/><rect x="872.9" y="767.6" width="19.2" height="18.8" fill="#8f8f8f"/><rect x="891.5" y="767.6" width="19.2" height="18.8" fill="#6e6e6e"/><rect x="910.2" y="767.6" width="39.8" height="18.8" fill="#636363"/><rect x="591" y="785.9" width="39.8" height="18.8" fill="#848484"/><rect x="630.3" y="785.9" width="19.2" height="18.8" fill="#9a9a9a"/><rect x="649" y="785.9" width="19.2" height="18.8" fill="#8f8f8f"/><rect x="667.6" y="785.9" width="19.2" height="18.8" fill="#6e6e6e"/><rect x="686.3" y="785.9" width="19.2" height="18.8" fill="#585858"/><rect x="705" y="785.9" width="19.2" height="18.8" fill="#797979"/><rect x="723.6" y="785.9" width="19.2" height="18.8" fill="#9a9a9a"/><rect x="742.3" y="785.9" width="19.2" height="18.8" fill="#a0a0a0"/><rect x="760.9" y="785.9" width="19.2" height="18.8" fill="#a5a5a5"/><rect x="779.6" y="785.9" width="19.2" height="18.8" fill="#848484"/><rect x="798.2" y="785.9" width="19.2" height="18.8" fill="#373737"/><rect x="816.9" y="785.9" width="19.2" height="18.8" fill="#161616"/><rect x="835.5" y="785.9" width="19.2" height="18.8" fill="#585858"/><rect x="854.2" y="785.9" width="19.2" height="18.8" fill="#8f8f8f"/><rect x="872.9" y="785.9" width="19.2" height="18.8" fill="#a5a5a5"/><rect x="891.5" y="785.9" width="19.2" height="18.8" fill="#9a9a9a"/><rect x="910.2" y="785.9" width="39.8" height="18.8" fill="#8f8f8f"/><rect x="591" y="804.2" width="39.8" height="18.8" fill="#8f8f8f"/><rect x="630.3" y="804.2" width="19.2" height="18.8" fill="#a5a5a5"/><rect x="649" y="804.2" width="19.2" height="18.8" fill="#a5a5a5"/><rect x="667.6" y="804.2" width="19.2" height="18.8" fill="#8f8f8f"/><rect x="686.3" y="804.2" width="19.2" height="18.8" fill="#636363"/><rect x="705" y="804.2" width="19.2" height="18.8" fill="#585858"/><rect x="723.6" y="804.2" width="19.2" height="18.8" fill="#848484"/><rect x="742.3" y="804.2" width="19.2" height="18.8" fill="#9a9a9a"/><rect x="760.9" y="804.2" width="19.2" height="18.8" fill="#a5a5a5"/><rect x="779.6" y="804.2" width="19.2" height="18.8" fill="#8f8f8f"/><rect x="798.2" y="804.2" width="19.2" height="18.8" fill="#4d4d4d"/><rect x="816.9" y="804.2" width="19.2" height="18.8" fill="#424242"/><rect x="835.5" y="804.2" width="19.2" height="18.8" fill="#848484"/><rect x="854.2" y="804.2" width="19.2" height="18.8" fill="#a5a5a5"/><rect x="872.9" y="804.2" width="19.2" height="18.8" fill="#aaaaaa"/><rect x="891.5" y="804.2" width="19.2" height="18.8" fill="#a5a5a5"/><rect x="910.2" y="804.2" width="39.8" height="18.8" fill="#9a9a9a"/><rect x="591" y="822.5" width="39.8" height="18.8" fill="#8f8f8f"/><rect x="630.3" y="822.5" width="19.2" height="18.8" fill="#a5a5a5"/><rect x="649" y="822.5" width="19.2" height="18.8" fill="#a5a5a5"/><rect x="667.6" y="822.5" width="19.2" height="18.8" fill="#9a9a9a"/><rect x="686.3" y="822.5" width="19.2" height="18.8" fill="#797979"/><rect x="705" y="822.5" width="19.2" height="18.8" fill="#636363"/><rect x="723.6" y="822.5" width="19.2" height="18.8" fill="#797979"/><rect x="742.3" y="822.5" width="19.2" height="18.8" fill="#9a9a9a"/><rect x="760.9" y="822.5" width="19.2" height="18.8" fill="#a5a5a5"/><rect x="779.6" y="822.5" width="19.2" height="18.8" fill="#8f8f8f"/><rect x="798.2" y="822.5" width="19.2" height="18.8" fill="#636363"/><rect x="816.9" y="822.5" width="19.2" height="18.8" fill="#636363"/><rect x="835.5" y="822.5" width="19.2" height="18.8" fill="#9a9a9a"/><rect x="854.2" y="822.5" width="19.2" height="18.8" fill="#aaaaaa"/><rect x="872.9" y="822.5" width="19.2" height="18.8" fill="#b0b0b0"/><rect x="891.5" y="822.5" width="19.2" height="18.8" fill="#aaaaaa"/><rect x="910.2" y="822.5" width="39.8" height="18.8" fill="#9a9a9a"/><rect x="591" y="840.8" width="39.8" height="18.8" fill="#848484"/><rect x="630.3" y="840.8" width="19.2" height="18.8" fill="#a5a5a5"/><rect x="649" y="840.8" width="19.2" height="18.8" fill="#aaaaaa"/><rect x="667.6" y="840.8" width="19.2" height="18.8" fill="#a5a5a5"/><rect x="686.3" y="840.8" width="19.2" height="18.8" fill="#8f8f8f"/><rect x="705" y="840.8" width="19.2" height="18.8" fill="#797979"/><rect x="723.6" y="840.8" width="19.2" height="18.8" fill="#797979"/><rect x="742.3" y="840.8" width="19.2" height="18.8" fill="#9a9a9a"/><rect x="760.9" y="840.8" width="19.2" height="18.8" fill="#a5a5a5"/><rect x="779.6" y="840.8" width="19.2" height="18.8" fill="#8f8f8f"/><rect x="798.2" y="840.8" width="19.2" height="18.8" fill="#6e6e6e"/><rect x="816.9" y="840.8" width="19.2" height="18.8" fill="#848484"/><rect x="835.5" y="840.8" width="19.2" height="18.8" fill="#a5a5a5"/><rect x="854.2" y="840.8" width="19.2" height="18.8" fill="#b0b0b0"/><rect x="872.9" y="840.8" width="19.2" height="18.8" fill="#b0b0b0"/><rect x="891.5" y="840.8" width="19.2" height="18.8" fill="#aaaaaa"/><rect x="910.2" y="840.8" width="39.8" height="18.8" fill="#8f8f8f"/><rect x="591" y="859.1" width="39.8" height="18.8" fill="#636363"/><rect x="630.3" y="859.1" width="19.2" height="18.8" fill="#8f8f8f"/><rect x="649" y="859.1" width="19.2" height="18.8" fill="#a5a5a5"/><rect x="667.6" y="859.1" width="19.2" height="18.8" fill="#a5a5a5"/><rect x="686.3" y="859.1" width="19.2" height="18.8" fill="#9a9a9a"/><rect x="705" y="859.1" width="19.2" height="18.8" fill="#8f8f8f"/><rect x="723.6" y="859.1" width="19.2" height="18.8" fill="#848484"/><rect x="742.3" y="859.1" width="19.2" height="18.8" fill="#9a9a9a"/><rect x="760.9" y="859.1" width="19.2" height="18.8" fill="#a5a5a5"/><rect x="779.6" y="859.1" width="19.2" height="18.8" fill="#8f8f8f"/><rect x="798.2" y="859.1" width="19.2" height="18.8" fill="#848484"/><rect x="816.9" y="859.1" width="19.2" height="18.8" fill="#9a9a9a"/><rect x="835.5" y="859.1" width="19.2" height="18.8" fill="#a5a5a5"/><rect x="854.2" y="859.1" width="19.2" height="18.8" fill="#aaaaaa"/><rect x="872.9" y="859.1" width="19.2" height="18.8" fill="#aaaaaa"/><rect x="891.5" y="859.1" width="19.2" height="18.8" fill="#9a9a9a"/><rect x="910.2" y="859.1" width="39.8" height="18.8" fill="#6e6e6e"/><rect x="591" y="877.4" width="39.8" height="28" fill="#2c2c2c"/><rect x="630.3" y="877.4" width="19.2" height="28" fill="#4d4d4d"/><rect x="649" y="877.4" width="19.2" height="28" fill="#7f7f7f"/><rect x="667.6" y="877.4" width="19.2" height="28" fill="#9a9a9a"/><rect x="686.3" y="877.4" width="19.2" height="28" fill="#a0a0a0"/><rect x="705" y="877.4" width="19.2" height="28" fill="#a0a0a0"/><rect x="723.6" y="877.4" width="19.2" height="28" fill="#9a9a9a"/><rect x="742.3" y="877.4" width="19.2" height="28" fill="#9a9a9a"/><rect x="760.9" y="877.4" width="19.2" height="28" fill="#9a9a9a"/><rect x="779.6" y="877.4" width="19.2" height="28" fill="#989898"/><rect x="798.2" y="877.4" width="19.2" height="28" fill="#9a9a9a"/><rect x="816.9" y="877.4" width="19.2" height="28" fill="#a3a3a3"/><rect x="835.5" y="877.4" width="19.2" height="28" fill="#a5a5a5"/><rect x="854.2" y="877.4" width="19.2" height="28" fill="#a0a0a0"/><rect x="872.9" y="877.4" width="19.2" height="28" fill="#848484"/><rect x="891.5" y="877.4" width="19.2" height="28" fill="#5e5e5e"/><rect x="910.2" y="877.4" width="39.8" height="28" fill="#3d3d3d"/><rect x="591" y="904.9" width="39.8" height="37.1" fill="#4d4d4d"/><rect x="630.3" y="904.9" width="19.2" height="37.1" fill="#636363"/><rect x="649" y="904.9" width="19.2" height="37.1" fill="#848484"/><rect x="667.6" y="904.9" width="19.2" height="37.1" fill="#9a9a9a"/><rect x="686.3" y="904.9" width="19.2" height="37.1" fill="#a5a5a5"/><rect x="705" y="904.9" width="19.2" height="37.1" fill="#aaaaaa"/><rect x="723.6" y="904.9" width="19.2" height="37.1" fill="#a5a5a5"/><rect x="742.3" y="904.9" width="19.2" height="37.1" fill="#9a9a9a"/><rect x="760.9" y="904.9" width="19.2" height="37.1" fill="#848484"/><rect x="779.6" y="904.9" width="19.2" height="37.1" fill="#9a9a9a"/><rect x="798.2" y="904.9" width="19.2" height="37.1" fill="#a5a5a5"/><rect x="816.9" y="904.9" width="19.2" height="37.1" fill="#aaaaaa"/><rect x="835.5" y="904.9" width="19.2" height="37.1" fill="#aaaaaa"/><rect x="854.2" y="904.9" width="19.2" height="37.1" fill="#a5a5a5"/><rect x="872.9" y="904.9" width="19.2" height="37.1" fill="#8f8f8f"/><rect x="891.5" y="904.9" width="19.2" height="37.1" fill="#6e6e6e"/><rect x="910.2" y="904.9" width="39.8" height="37.1" fill="#4d4d4d"/><rect x="591" y="941.5" width="39.8" height="37.1" fill="#585858"/><rect x="630.3" y="941.5" width="19.2" height="37.1" fill="#6e6e6e"/><rect x="649" y="941.5" width="19.2" height="37.1" fill="#8f8f8f"/><rect x="667.6" y="941.5" width="19.2" height="37.1" fill="#a0a0a0"/><rect x="686.3" y="941.5" width="19.2" height="37.1" fill="#a5a5a5"/><rect x="705" y="941.5" width="19.2" height="37.1" fill="#aaaaaa"/><rect x="723.6" y="941.5" width="19.2" height="37.1" fill="#a5a5a5"/><rect x="742.3" y="941.5" width="19.2" height="37.1" fill="#8f8f8f"/><rect x="760.9" y="941.5" width="19.2" height="37.1" fill="#6e6e6e"/><rect x="779.6" y="941.5" width="19.2" height="37.1" fill="#8f8f8f"/><rect x="798.2" y="941.5" width="19.2" height="37.1" fill="#a5a5a5"/><rect x="816.9" y="941.5" width="19.2" height="37.1" fill="#aaaaaa"/><rect x="835.5" y="941.5" width="19.2" height="37.1" fill="#aaaaaa"/><rect x="854.2" y="941.5" width="19.2" height="37.1" fill="#a5a5a5"/><rect x="872.9" y="941.5" width="19.2" height="37.1" fill="#9a9a9a"/><rect x="891.5" y="941.5" width="19.2" height="37.1" fill="#797979"/><rect x="910.2" y="941.5" width="39.8" height="37.1" fill="#585858"/><rect x="591" y="978.1" width="39.8" height="28" fill="#585858"/><rect x="630.3" y="978.1" width="19.2" height="28" fill="#6e6e6e"/><rect x="649" y="978.1" width="19.2" height="28" fill="#8f8f8f"/><rect x="667.6" y="978.1" width="19.2" height="28" fill="#a0a0a0"/><rect x="686.3" y="978.1" width="19.2" height="28" fill="#a5a5a5"/><rect x="705" y="978.1" width="19.2" height="28" fill="#a5a5a5"/><rect x="723.6" y="978.1" width="19.2" height="28" fill="#9a9a9a"/><rect x="742.3" y="978.1" width="19.2" height="28" fill="#848484"/><rect x="760.9" y="978.1" width="19.2" height="28" fill="#636363"/><rect x="779.6" y="978.1" width="19.2" height="28" fill="#848484"/><rect x="798.2" y="978.1" width="19.2" height="28" fill="#a0a0a0"/><rect x="816.9" y="978.1" width="19.2" height="28" fill="#a5a5a5"/><rect x="835.5" y="978.1" width="19.2" height="28" fill="#a5a5a5"/><rect x="854.2" y="978.1" width="19.2" height="28" fill="#a5a5a5"/><rect x="872.9" y="978.1" width="19.2" height="28" fill="#9a9a9a"/><rect x="891.5" y="978.1" width="19.2" height="28" fill="#797979"/><rect x="910.2" y="978.1" width="39.8" height="28" fill="#585858"/><rect x="591" y="1005.5" width="39.8" height="18.8" fill="#424242"/><rect x="630.3" y="1005.5" width="19.2" height="18.8" fill="#636363"/><rect x="649" y="1005.5" width="19.2" height="18.8" fill="#848484"/><rect x="667.6" y="1005.5" width="19.2" height="18.8" fill="#9a9a9a"/><rect x="686.3" y="1005.5" width="19.2" height="18.8" fill="#a0a0a0"/><rect x="705" y="1005.5" width="19.2" height="18.8" fill="#a0a0a0"/><rect x="723.6" y="1005.5" width="19.2" height="18.8" fill="#949494"/><rect x="742.3" y="1005.5" width="19.2" height="18.8" fill="#7f7f7f"/><rect x="760.9" y="1005.5" width="19.2" height="18.8" fill="#636363"/><rect x="779.6" y="1005.5" width="19.2" height="18.8" fill="#7f7f7f"/><rect x="798.2" y="1005.5" width="19.2" height="18.8" fill="#9a9a9a"/><rect x="816.9" y="1005.5" width="19.2" height="18.8" fill="#a0a0a0"/><rect x="835.5" y="1005.5" width="19.2" height="18.8" fill="#a5a5a5"/><rect x="854.2" y="1005.5" width="19.2" height="18.8" fill="#a0a0a0"/><rect x="872.9" y="1005.5" width="19.2" height="18.8" fill="#8f8f8f"/><rect x="891.5" y="1005.5" width="19.2" height="18.8" fill="#6e6e6e"/><rect x="910.2" y="1005.5" width="39.8" height="18.8" fill="#4d4d4d"/><rect x="591" y="1023.9" width="39.8" height="18.8" fill="#161616"/><rect x="630.3" y="1023.9" width="19.2" height="18.8" fill="#373737"/><rect x="649" y="1023.9" width="19.2" height="18.8" fill="#636363"/><rect x="667.6" y="1023.9" width="19.2" height="18.8" fill="#848484"/><rect x="686.3" y="1023.9" width="19.2" height="18.8" fill="#8f8f8f"/><rect x="705" y="1023.9" width="19.2" height="18.8" fill="#949494"/><rect x="723.6" y="1023.9" width="19.2" height="18.8" fill="#8a8a8a"/><rect x="742.3" y="1023.9" width="19.2" height="18.8" fill="#797979"/><rect x="760.9" y="1023.9" width="19.2" height="18.8" fill="#636363"/><rect x="779.6" y="1023.9" width="19.2" height="18.8" fill="#797979"/><rect x="798.2" y="1023.9" width="19.2" height="18.8" fill="#8f8f8f"/><rect x="816.9" y="1023.9" width="19.2" height="18.8" fill="#949494"/><rect x="835.5" y="1023.9" width="19.2" height="18.8" fill="#9a9a9a"/><rect x="854.2" y="1023.9" width="19.2" height="18.8" fill="#8f8f8f"/><rect x="872.9" y="1023.9" width="19.2" height="18.8" fill="#797979"/><rect x="891.5" y="1023.9" width="19.2" height="18.8" fill="#4d4d4d"/><rect x="910.2" y="1023.9" width="39.8" height="18.8" fill="#2c2c2c"/><rect x="591" y="1042.2" width="39.8" height="18.8" fill="#000000"/><rect x="630.3" y="1042.2" width="19.2" height="18.8" fill="#060606"/><rect x="649" y="1042.2" width="19.2" height="18.8" fill="#161616"/><rect x="667.6" y="1042.2" width="19.2" height="18.8" fill="#424242"/><rect x="686.3" y="1042.2" width="19.2" height="18.8" fill="#636363"/><rect x="705" y="1042.2" width="19.2" height="18.8" fill="#797979"/><rect x="723.6" y="1042.2" width="19.2" height="18.8" fill="#6e6e6e"/><rect x="742.3" y="1042.2" width="19.2" height="18.8" fill="#636363"/><rect x="760.9" y="1042.2" width="19.2" height="18.8" fill="#585858"/><rect x="779.6" y="1042.2" width="19.2" height="18.8" fill="#636363"/><rect x="798.2" y="1042.2" width="19.2" height="18.8" fill="#797979"/><rect x="816.9" y="1042.2" width="19.2" height="18.8" fill="#797979"/><rect x="835.5" y="1042.2" width="19.2" height="18.8" fill="#6e6e6e"/><rect x="854.2" y="1042.2" width="19.2" height="18.8" fill="#585858"/><rect x="872.9" y="1042.2" width="19.2" height="18.8" fill="#2c2c2c"/><rect x="891.5" y="1042.2" width="19.2" height="18.8" fill="#0b0b0b"/><rect x="910.2" y="1042.2" width="39.8" height="18.8" fill="#060606"/><rect x="591" y="1060.4" width="39.8" height="39.7" fill="#000000"/><rect x="630.3" y="1060.4" width="19.2" height="39.7" fill="#000000"/><rect x="649" y="1060.4" width="19.2" height="39.7" fill="#000000"/><rect x="667.6" y="1060.4" width="19.2" height="39.7" fill="#060606"/><rect x="686.3" y="1060.4" width="19.2" height="39.7" fill="#0b0b0b"/><rect x="705" y="1060.4" width="19.2" height="39.7" fill="#161616"/><rect x="723.6" y="1060.4" width="19.2" height="39.7" fill="#161616"/><rect x="742.3" y="1060.4" width="19.2" height="39.7" fill="#101010"/><rect x="760.9" y="1060.4" width="19.2" height="39.7" fill="#0b0b0b"/><rect x="779.6" y="1060.4" width="19.2" height="39.7" fill="#101010"/><rect x="798.2" y="1060.4" width="19.2" height="39.7" fill="#161616"/><rect x="816.9" y="1060.4" width="19.2" height="39.7" fill="#161616"/><rect x="835.5" y="1060.4" width="19.2" height="39.7" fill="#0b0b0b"/><rect x="854.2" y="1060.4" width="19.2" height="39.7" fill="#060606"/><rect x="872.9" y="1060.4" width="19.2" height="39.7" fill="#000000"/><rect x="891.5" y="1060.4" width="19.2" height="39.7" fill="#000000"/><rect x="910.2" y="1060.4" width="39.8" height="39.7" fill="#000000"/></g></g>
<rect x="621" y="630.4" width="298.5" height="75.2" fill="url(#g4)"/>
<g clip-path="url(#c5)"><g filter="url(#b5)"><rect x="975.5" y="600.4" width="39.8" height="116.5" fill="#060606"/><rect x="1014.8" y="600.4" width="19.2" height="116.5" fill="#060606"/><rect x="1033.5" y="600.4" width="19.2" height="116.5" fill="#060606"/><rect x="1052.1" y="600.4" width="19.2" height="116.5" fill="#0b0b0b"/><rect x="1070.8" y="600.4" width="19.2" height="116.5" fill="#212121"/><rect x="1089.5" y="600.4" width="19.2" height="116.5" fill="#424242"/><rect x="1108.1" y="600.4" width="19.2" height="116.5" fill="#585858"/><rect x="1126.8" y="600.4" width="19.2" height="116.5" fill="#636363"/><rect x="1145.4" y="600.4" width="19.2" height="116.5" fill="#6e6e6e"/><rect x="1164.1" y="600.4" width="19.2" height="116.5" fill="#636363"/><rect x="1182.7" y="600.4" width="19.2" height="116.5" fill="#585858"/><rect x="1201.4" y="600.4" width="19.2" height="116.5" fill="#4d4d4d"/><rect x="1220" y="600.4" width="19.2" height="116.5" fill="#424242"/><rect x="1238.7" y="600.4" width="19.2" height="116.5" fill="#373737"/><rect x="1257.4" y="600.4" width="19.2" height="116.5" fill="#161616"/><rect x="1276" y="600.4" width="19.2" height="116.5" fill="#0b0b0b"/><rect x="1294.7" y="600.4" width="39.8" height="116.5" fill="#0b0b0b"/><rect x="975.5" y="716.4" width="39.8" height="15.1" fill="#000000"/><rect x="1014.8" y="716.4" width="19.2" height="15.1" fill="#000000"/><rect x="1033.5" y="716.4" width="19.2" height="15.1" fill="#000000"/><rect x="1052.1" y="716.4" width="19.2" height="15.1" fill="#060606"/><rect x="1070.8" y="716.4" width="19.2" height="15.1" fill="#161616"/><rect x="1089.5" y="716.4" width="19.2" height="15.1" fill="#424242"/><rect x="1108.1" y="716.4" width="19.2" height="15.1" fill="#636363"/><rect x="1126.8" y="716.4" width="19.2" height="15.1" fill="#797979"/><rect x="1145.4" y="716.4" width="19.2" height="15.1" fill="#848484"/><rect x="1164.1" y="716.4" width="19.2" height="15.1" fill="#797979"/><rect x="1182.7" y="716.4" width="19.2" height="15.1" fill="#636363"/><rect x="1201.4" y="716.4" width="19.2" height="15.1" fill="#4d4d4d"/><rect x="1220" y="716.4" width="19.2" height="15.1" fill="#424242"/><rect x="1238.7" y="716.4" width="19.2" height="15.1" fill="#2c2c2c"/><rect x="1257.4" y="716.4" width="19.2" height="15.1" fill="#0b0b0b"/><rect x="1276" y="716.4" width="19.2" height="15.1" fill="#060606"/><rect x="1294.7" y="716.4" width="39.8" height="15.1" fill="#060606"/><rect x="975.5" y="731" width="39.8" height="18.8" fill="#000000"/><rect x="1014.8" y="731" width="19.2" height="18.8" fill="#000000"/><rect x="1033.5" y="731" width="19.2" height="18.8" fill="#060606"/><rect x="1052.1" y="731" width="19.2" height="18.8" fill="#0b0b0b"/><rect x="1070.8" y="731" width="19.2" height="18.8" fill="#212121"/><rect x="1089.5" y="731" width="19.2" height="18.8" fill="#4d4d4d"/><rect x="1108.1" y="731" width="19.2" height="18.8" fill="#797979"/><rect x="1126.8" y="731" width="19.2" height="18.8" fill="#8f8f8f"/><rect x="1145.4" y="731" width="19.2" height="18.8" fill="#9a9a9a"/><rect x="1164.1" y="731" width="19.2" height="18.8" fill="#8f8f8f"/><rect x="1182.7" y="731" width="19.2" height="18.8" fill="#797979"/><rect x="1201.4" y="731" width="19.2" height="18.8" fill="#585858"/><rect x="1220" y="731" width="19.2" height="18.8" fill="#424242"/><rect x="1238.7" y="731" width="19.2" height="18.8" fill="#2c2c2c"/><rect x="1257.4" y="731" width="19.2" height="18.8" fill="#161616"/><rect x="1276" y="731" width="19.2" height="18.8" fill="#060606"/><rect x="1294.7" y="731" width="39.8" height="18.8" fill="#060606"/><rect x="975.5" y="749.4" width="39.8" height="18.8" fill="#000000"/><rect x="1014.8" y="749.4" width="19.2" height="18.8" fill="#000000"/><rect x="1033.5" y="749.4" width="19.2" height="18.8" fill="#060606"/><rect x="1052.1" y="749.4" width="19.2" height="18.8" fill="#0b0b0b"/><rect x="1070.8" y="749.4" width="19.2" height="18.8" fill="#212121"/><rect x="1089.5" y="749.4" width="19.2" height="18.8" fill="#424242"/><rect x="1108.1" y="749.4" width="19.2" height="18.8" fill="#797979"/><rect x="1126.8" y="749.4" width="19.2" height="18.8" fill="#9a9a9a"/><rect x="1145.4" y="749.4" width="19.2" height="18.8" fill="#a5a5a5"/><rect x="1164.1" y="749.4" width="19.2" height="18.8" fill="#9a9a9a"/><rect x="1182.7" y="749.4" width="19.2" height="18.8" fill="#848484"/><rect x="1201.4" y="749.4" width="19.2" height="18.8" fill="#6e6e6e"/><rect x="1220" y="749.4" width="19.2" height="18.8" fill="#424242"/><rect x="1238.7" y="749.4" width="19.2" height="18.8" fill="#212121"/><rect x="1257.4" y="749.4" width="19.2" height="18.8" fill="#2c2c2c"/><rect x="1276" y="749.4" width="19.2" height="18.8" fill="#212121"/><rect x="1294.7" y="749.4" width="39.8" height="18.8" fill="#0b0b0b"/><rect x="975.5" y="767.6" width="39.8" height="18.8" fill="#0b0b0b"/><rect x="1014.8" y="767.6" width="19.2" height="18.8" fill="#060606"/><rect x="1033.5" y="767.6" width="19.2" height="18.8" fill="#161616"/><rect x="1052.1" y="767.6" width="19.2" height="18.8" fill="#424242"/><rect x="1070.8" y="767.6" width="19.2" height="18.8" fill="#424242"/><rect x="1089.5" y="767.6" width="19.2" height="18.8" fill="#2c2c2c"/><rect x="1108.1" y="767.6" width="19.2" height="18.8" fill="#797979"/><rect x="1126.8" y="767.6" width="19.2" height="18.8" fill="#a5a5a5"/><rect x="1145.4" y="767.6" width="19.2" height="18.8" fill="#aaaaaa"/><rect x="1164.1" y="767.6" width="19.2" height="18.8" fill="#a5a5a5"/><rect x="1182.7" y="767.6" width="19.2" height="18.8" fill="#8f8f8f"/><rect x="1201.4" y="767.6" width="19.2" height="18.8" fill="#6e6e6e"/><rect x="1220" y="767.6" width="19.2" height="18.8" fill="#373737"/><rect x="1238.7" y="767.6" width="19.2" height="18.8" fill="#2c2c2c"/><rect x="1257.4" y="767.6" width="19.2" height="18.8" fill="#4d4d4d"/><rect x="1276" y="767.6" width="19.2" height="18.8" fill="#636363"/><rect x="1294.7" y="767.6" width="39.8" height="18.8" fill="#585858"/><rect x="975.5" y="785.9" width="39.8" height="18.8" fill="#424242"/><rect x="1014.8" y="785.9" width="19.2" height="18.8" fill="#585858"/><rect x="1033.5" y="785.9" width="19.2" height="18.8" fill="#797979"/><rect x="1052.1" y="785.9" width="19.2" height="18.8" fill="#848484"/><rect x="1070.8" y="785.9" width="19.2" height="18.8" fill="#6e6e6e"/><rect x="1089.5" y="785.9" width="19.2" height="18.8" fill="#373737"/><rect x="1108.1" y="785.9" width="19.2" height="18.8" fill="#636363"/><rect x="1126.8" y="785.9" width="19.2" height="18.8" fill="#a5a5a5"/><rect x="1145.4" y="785.9" width="19.2" height="18.8" fill="#aaaaaa"/><rect x="1164.1" y="785.9" width="19.2" height="18.8" fill="#a5a5a5"/><rect x="1182.7" y="785.9" width="19.2" height="18.8" fill="#8f8f8f"/><rect x="1201.4" y="785.9" width="19.2" height="18.8" fill="#636363"/><rect x="1220" y="785.9" width="19.2" height="18.8" fill="#424242"/><rect x="1238.7" y="785.9" width="19.2" height="18.8" fill="#4d4d4d"/><rect x="1257.4" y="785.9" width="19.2" height="18.8" fill="#797979"/><rect x="1276" y="785.9" width="19.2" height="18.8" fill="#8f8f8f"/><rect x="1294.7" y="785.9" width="39.8" height="18.8" fill="#848484"/><rect x="975.5" y="804.2" width="39.8" height="18.8" fill="#6e6e6e"/><rect x="1014.8" y="804.2" width="19.2" height="18.8" fill="#8f8f8f"/><rect x="1033.5" y="804.2" width="19.2" height="18.8" fill="#9a9a9a"/><rect x="1052.1" y="804.2" width="19.2" height="18.8" fill="#8f8f8f"/><rect x="1070.8" y="804.2" width="19.2" height="18.8" fill="#848484"/><rect x="1089.5" y="804.2" width="19.2" height="18.8" fill="#424242"/><rect x="1108.1" y="804.2" width="19.2" height="18.8" fill="#4d4d4d"/><rect x="1126.8" y="804.2" width="19.2" height="18.8" fill="#a5a5a5"/><rect x="1145.4" y="804.2" width="19.2" height="18.8" fill="#b0b0b0"/><rect x="1164.1" y="804.2" width="19.2" height="18.8" fill="#a5a5a5"/><rect x="1182.7" y="804.2" width="19.2" height="18.8" fill="#8f8f8f"/><rect x="1201.4" y="804.2" width="19.2" height="18.8" fill="#6e6e6e"/><rect x="1220" y="804.2" width="19.2" height="18.8" fill="#585858"/><rect x="1238.7" y="804.2" width="19.2" height="18.8" fill="#6e6e6e"/><rect x="1257.4" y="804.2" width="19.2" height="18.8" fill="#8f8f8f"/><rect x="1276" y="804.2" width="19.2" height="18.8" fill="#a5a5a5"/><rect x="1294.7" y="804.2" width="39.8" height="18.8" fill="#8f8f8f"/><rect x="975.5" y="822.5" width="39.8" height="18.8" fill="#797979"/><rect x="1014.8" y="822.5" width="19.2" height="18.8" fill="#9a9a9a"/><rect x="1033.5" y="822.5" width="19.2" height="18.8" fill="#a5a5a5"/><rect x="1052.1" y="822.5" width="19.2" height="18.8" fill="#9a9a9a"/><rect x="1070.8" y="822.5" width="19.2" height="18.8" fill="#8f8f8f"/><rect x="1089.5" y="822.5" width="19.2" height="18.8" fill="#636363"/><rect x="1108.1" y="822.5" width="19.2" height="18.8" fill="#585858"/><rect x="1126.8" y="822.5" width="19.2" height="18.8" fill="#a5a5a5"/><rect x="1145.4" y="822.5" width="19.2" height="18.8" fill="#b0b0b0"/><rect x="1164.1" y="822.5" width="19.2" height="18.8" fill="#a5a5a5"/><rect x="1182.7" y="822.5" width="19.2" height="18.8" fill="#9a9a9a"/><rect x="1201.4" y="822.5" width="19.2" height="18.8" fill="#848484"/><rect x="1220" y="822.5" width="19.2" height="18.8" fill="#797979"/><rect x="1238.7" y="822.5" width="19.2" height="18.8" fill="#848484"/><rect x="1257.4" y="822.5" width="19.2" height="18.8" fill="#9a9a9a"/><rect x="1276" y="822.5" width="19.2" height="18.8" fill="#aaaaaa"/><rect x="1294.7" y="822.5" width="39.8" height="18.8" fill="#9a9a9a"/><rect x="975.5" y="840.8" width="39.8" height="18.8" fill="#797979"/><rect x="1014.8" y="840.8" width="19.2" height="18.8" fill="#9a9a9a"/><rect x="1033.5" y="840.8" width="19.2" height="18.8" fill="#a5a5a5"/><rect x="1052.1" y="840.8" width="19.2" height="18.8" fill="#a5a5a5"/><rect x="1070.8" y="840.8" width="19.2" height="18.8" fill="#9a9a9a"/><rect x="1089.5" y="840.8" width="19.2" height="18.8" fill="#848484"/><rect x="1108.1" y="840.8" width="19.2" height="18.8" fill="#797979"/><rect x="1126.8" y="840.8" width="19.2" height="18.8" fill="#a5a5a5"/><rect x="1145.4" y="840.8" width="19.2" height="18.8" fill="#aaaaaa"/><rect x="1164.1" y="840.8" width="19.2" height="18.8" fill="#a5a5a5"/><rect x="1182.7" y="840.8" width="19.2" height="18.8" fill="#9a9a9a"/><rect x="1201.4" y="840.8" width="19.2" height="18.8" fill="#8f8f8f"/><rect x="1220" y="840.8" width="19.2" height="18.8" fill="#8f8f8f"/><rect x="1238.7" y="840.8" width="19.2" height="18.8" fill="#9a9a9a"/><rect x="1257.4" y="840.8" width="19.2" height="18.8" fill="#a5a5a5"/><rect x="1276" y="840.8" width="19.2" height="18.8" fill="#aaaaaa"/><rect x="1294.7" y="840.8" width="39.8" height="18.8" fill="#9a9a9a"/><rect x="975.5" y="859.1" width="39.8" height="18.8" fill="#4d4d4d"/><rect x="1014.8" y="859.1" width="19.2" height="18.8" fill="#797979"/><rect x="1033.5" y="859.1" width="19.2" height="18.8" fill="#9a9a9a"/><rect x="1052.1" y="859.1" width="19.2" height="18.8" fill="#a5a5a5"/><rect x="1070.8" y="859.1" width="19.2" height="18.8" fill="#a5a5a5"/><rect x="1089.5" y="859.1" width="19.2" height="18.8" fill="#9a9a9a"/><rect x="1108.1" y="859.1" width="19.2" height="18.8" fill="#8f8f8f"/><rect x="1126.8" y="859.1" width="19.2" height="18.8" fill="#a0a0a0"/><rect x="1145.4" y="859.1" width="19.2" height="18.8" fill="#a5a5a5"/><rect x="1164.1" y="859.1" width="19.2" height="18.8" fill="#a0a0a0"/><rect x="1182.7" y="859.1" width="19.2" height="18.8" fill="#9a9a9a"/><rect x="1201.4" y="859.1" width="19.2" height="18.8" fill="#9a9a9a"/><rect x="1220" y="859.1" width="19.2" height="18.8" fill="#9a9a9a"/><rect x="1238.7" y="859.1" width="19.2" height="18.8" fill="#a0a0a0"/><rect x="1257.4" y="859.1" width="19.2" height="18.8" fill="#a5a5a5"/><rect x="1276" y="859.1" width="19.2" height="18.8" fill="#a5a5a5"/><rect x="1294.7" y="859.1" width="39.8" height="18.8" fill="#8f8f8f"/><rect x="975.5" y="877.4" width="39.8" height="28" fill="#1c1c1c"/><rect x="1014.8" y="877.4" width="19.2" height="28" fill="#424242"/><rect x="1033.5" y="877.4" width="19.2" height="28" fill="#747474"/><rect x="1052.1" y="877.4" width="19.2" height="28" fill="#949494"/><rect x="1070.8" y="877.4" width="19.2" height="28" fill="#a0a0a0"/><rect x="1089.5" y="877.4" width="19.2" height="28" fill="#a5a5a5"/><rect x="1108.1" y="877.4" width="19.2" height="28" fill="#a0a0a0"/><rect x="1126.8" y="877.4" width="19.2" height="28" fill="#a0a0a0"/><rect x="1145.4" y="877.4" width="19.2" height="28" fill="#9c9c9c"/><rect x="1164.1" y="877.4" width="19.2" height="28" fill="#9c9c9c"/><rect x="1182.7" y="877.4" width="19.2" height="28" fill="#a0a0a0"/><rect x="1201.4" y="877.4" width="19.2" height="28" fill="#a3a3a3"/><rect x="1220" y="877.4" width="19.2" height="28" fill="#a5a5a5"/><rect x="1238.7" y="877.4" width="19.2" height="28" fill="#a5a5a5"/><rect x="1257.4" y="877.4" width="19.2" height="28" fill="#a5a5a5"/><rect x="1276" y="877.4" width="19.2" height="28" fill="#949494"/><rect x="1294.7" y="877.4" width="39.8" height="28" fill="#6e6e6e"/><rect x="975.5" y="904.9" width="39.8" height="37.1" fill="#4d4d4d"/><rect x="1014.8" y="904.9" width="19.2" height="37.1" fill="#585858"/><rect x="1033.5" y="904.9" width="19.2" height="37.1" fill="#797979"/><rect x="1052.1" y="904.9" width="19.2" height="37.1" fill="#8f8f8f"/><rect x="1070.8" y="904.9" width="19.2" height="37.1" fill="#9a9a9a"/><rect x="1089.5" y="904.9" width="19.2" height="37.1" fill="#a5a5a5"/><rect x="1108.1" y="904.9" width="19.2" height="37.1" fill="#a5a5a5"/><rect x="1126.8" y="904.9" width="19.2" height="37.1" fill="#9a9a9a"/><rect x="1145.4" y="904.9" width="19.2" height="37.1" fill="#8f8f8f"/><rect x="1164.1" y="904.9" width="19.2" height="37.1" fill="#9a9a9a"/><rect x="1182.7" y="904.9" width="19.2" height="37.1" fill="#a5a5a5"/><rect x="1201.4" y="904.9" width="19.2" height="37.1" fill="#aaaaaa"/><rect x="1220" y="904.9" width="19.2" height="37.1" fill="#aaaaaa"/><rect x="1238.7" y="904.9" width="19.2" height="37.1" fill="#a5a5a5"/><rect x="1257.4" y="904.9" width="19.2" height="37.1" fill="#9a9a9a"/><rect x="1276" y="904.9" width="19.2" height="37.1" fill="#848484"/><rect x="1294.7" y="904.9" width="39.8" height="37.1" fill="#636363"/><rect x="975.5" y="941.5" width="39.8" height="37.1" fill="#636363"/><rect x="1014.8" y="941.5" width="19.2" height="37.1" fill="#6e6e6e"/><rect x="1033.5" y="941.5" width="19.2" height="37.1" fill="#848484"/><rect x="1052.1" y="941.5" width="19.2" height="37.1" fill="#949494"/><rect x="1070.8" y="941.5" width="19.2" height="37.1" fill="#a0a0a0"/><rect x="1089.5" y="941.5" width="19.2" height="37.1" fill="#a5a5a5"/><rect x="1108.1" y="941.5" width="19.2" height="37.1" fill="#a5a5a5"/><rect x="1126.8" y="941.5" width="19.2" height="37.1" fill="#8f8f8f"/><rect x="1145.4" y="941.5" width="19.2" height="37.1" fill="#797979"/><rect x="1164.1" y="941.5" width="19.2" height="37.1" fill="#8f8f8f"/><rect x="1182.7" y="941.5" width="19.2" height="37.1" fill="#a5a5a5"/><rect x="1201.4" y="941.5" width="19.2" height="37.1" fill="#aaaaaa"/><rect x="1220" y="941.5" width="19.2" height="37.1" fill="#aaaaaa"/><rect x="1238.7" y="941.5" width="19.2" height="37.1" fill="#a5a5a5"/><rect x="1257.4" y="941.5" width="19.2" height="37.1" fill="#9a9a9a"/><rect x="1276" y="941.5" width="19.2" height="37.1" fill="#848484"/><rect x="1294.7" y="941.5" width="39.8" height="37.1" fill="#6e6e6e"/><rect x="975.5" y="978.1" width="39.8" height="28" fill="#585858"/><rect x="1014.8" y="978.1" width="19.2" height="28" fill="#797979"/><rect x="1033.5" y="978.1" width="19.2" height="28" fill="#8f8f8f"/><rect x="1052.1" y="978.1" width="19.2" height="28" fill="#9a9a9a"/><rect x="1070.8" y="978.1" width="19.2" height="28" fill="#a0a0a0"/><rect x="1089.5" y="978.1" width="19.2" height="28" fill="#a5a5a5"/><rect x="1108.1" y="978.1" width="19.2" height="28" fill="#9a9a9a"/><rect x="1126.8" y="978.1" width="19.2" height="28" fill="#848484"/><rect x="1145.4" y="978.1" width="19.2" height="28" fill="#6e6e6e"/><rect x="1164.1" y="978.1" width="19.2" height="28" fill="#797979"/><rect x="1182.7" y="978.1" width="19.2" height="28" fill="#9a9a9a"/><rect x="1201.4" y="978.1" width="19.2" height="28" fill="#a5a5a5"/><rect x="1220" y="978.1" width="19.2" height="28" fill="#a5a5a5"/><rect x="1238.7" y="978.1" width="19.2" height="28" fill="#a5a5a5"/><rect x="1257.4" y="978.1" width="19.2" height="28" fill="#9a9a9a"/><rect x="1276" y="978.1" width="19.2" height="28" fill="#848484"/><rect x="1294.7" y="978.1" width="39.8" height="28" fill="#6e6e6e"/><rect x="975.5" y="1005.5" width="39.8" height="18.8" fill="#2c2c2c"/><rect x="1014.8" y="1005.5" width="19.2" height="18.8" fill="#636363"/><rect x="1033.5" y="1005.5" width="19.2" height="18.8" fill="#848484"/><rect x="1052.1" y="1005.5" width="19.2" height="18.8" fill="#9a9a9a"/><rect x="1070.8" y="1005.5" width="19.2" height="18.8" fill="#a0a0a0"/><rect x="1089.5" y="1005.5" width="19.2" height="18.8" fill="#a0a0a0"/><rect x="1108.1" y="1005.5" width="19.2" height="18.8" fill="#949494"/><rect x="1126.8" y="1005.5" width="19.2" height="18.8" fill="#7f7f7f"/><rect x="1145.4" y="1005.5" width="19.2" height="18.8" fill="#6e6e6e"/><rect x="1164.1" y="1005.5" width="19.2" height="18.8" fill="#797979"/><rect x="1182.7" y="1005.5" width="19.2" height="18.8" fill="#8f8f8f"/><rect x="1201.4" y="1005.5" width="19.2" height="18.8" fill="#a0a0a0"/><rect x="1220" y="1005.5" width="19.2" height="18.8" fill="#a0a0a0"/><rect x="1238.7" y="1005.5" width="19.2" height="18.8" fill="#a0a0a0"/><rect x="1257.4" y="1005.5" width="19.2" height="18.8" fill="#949494"/><rect x="1276" y="1005.5" width="19.2" height="18.8" fill="#797979"/><rect x="1294.7" y="1005.5" width="39.8" height="18.8" fill="#636363"/><rect x="975.5" y="1023.9" width="39.8" height="18.8" fill="#060606"/><rect x="1014.8" y="1023.9" width="19.2" height="18.8" fill="#2c2c2c"/><rect x="1033.5" y="1023.9" width="19.2" height="18.8" fill="#636363"/><rect x="1052.1" y="1023.9" width="19.2" height="18.8" fill="#848484"/><rect x="1070.8" y="1023.9" width="19.2" height="18.8" fill="#8f8f8f"/><rect x="1089.5" y="1023.9" width="19.2" height="18.8" fill="#949494"/><rect x="1108.1" y="1023.9" width="19.2" height="18.8" fill="#848484"/><rect x="1126.8" y="1023.9" width="19.2" height="18.8" fill="#6e6e6e"/><rect x="1145.4" y="1023.9" width="19.2" height="18.8" fill="#636363"/><rect x="1164.1" y="1023.9" width="19.2" height="18.8" fill="#6e6e6e"/><rect x="1182.7" y="1023.9" width="19.2" height="18.8" fill="#848484"/><rect x="1201.4" y="1023.9" width="19.2" height="18.8" fill="#8f8f8f"/><rect x="1220" y="1023.9" width="19.2" height="18.8" fill="#949494"/><rect x="1238.7" y="1023.9" width="19.2" height="18.8" fill="#8f8f8f"/><rect x="1257.4" y="1023.9" width="19.2" height="18.8" fill="#797979"/><rect x="1276" y="1023.9" width="19.2" height="18.8" fill="#585858"/><rect x="1294.7" y="1023.9" width="39.8" height="18.8" fill="#424242"/><rect x="975.5" y="1042.2" width="39.8" height="18.8" fill="#000000"/><rect x="1014.8" y="1042.2" width="19.2" height="18.8" fill="#060606"/><rect x="1033.5" y="1042.2" width="19.2" height="18.8" fill="#161616"/><rect x="1052.1" y="1042.2" width="19.2" height="18.8" fill="#373737"/><rect x="1070.8" y="1042.2" width="19.2" height="18.8" fill="#585858"/><rect x="1089.5" y="1042.2" width="19.2" height="18.8" fill="#6e6e6e"/><rect x="1108.1" y="1042.2" width="19.2" height="18.8" fill="#585858"/><rect x="1126.8" y="1042.2" width="19.2" height="18.8" fill="#424242"/><rect x="1145.4" y="1042.2" width="19.2" height="18.8" fill="#424242"/><rect x="1164.1" y="1042.2" width="19.2" height="18.8" fill="#424242"/><rect x="1182.7" y="1042.2" width="19.2" height="18.8" fill="#585858"/><rect x="1201.4" y="1042.2" width="19.2" height="18.8" fill="#6e6e6e"/><rect x="1220" y="1042.2" width="19.2" height="18.8" fill="#636363"/><rect x="1238.7" y="1042.2" width="19.2" height="18.8" fill="#4d4d4d"/><rect x="1257.4" y="1042.2" width="19.2" height="18.8" fill="#212121"/><rect x="1276" y="1042.2" width="19.2" height="18.8" fill="#0b0b0b"/><rect x="1294.7" y="1042.2" width="39.8" height="18.8" fill="#060606"/><rect x="975.5" y="1060.4" width="39.8" height="39.7" fill="#000000"/><rect x="1014.8" y="1060.4" width="19.2" height="39.7" fill="#000000"/><rect x="1033.5" y="1060.4" width="19.2" height="39.7" fill="#000000"/><rect x="1052.1" y="1060.4" width="19.2" height="39.7" fill="#060606"/><rect x="1070.8" y="1060.4" width="19.2" height="39.7" fill="#0b0b0b"/><rect x="1089.5" y="1060.4" width="19.2" height="39.7" fill="#101010"/><rect x="1108.1" y="1060.4" width="19.2" height="39.7" fill="#0b0b0b"/><rect x="1126.8" y="1060.4" width="19.2" height="39.7" fill="#060606"/><rect x="1145.4" y="1060.4" width="19.2" height="39.7" fill="#060606"/><rect x="1164.1" y="1060.4" width="19.2" height="39.7" fill="#060606"/><rect x="1182.7" y="1060.4" width="19.2" height="39.7" fill="#0b0b0b"/><rect x="1201.4" y="1060.4" width="19.2" height="39.7" fill="#101010"/><rect x="1220" y="1060.4" width="19.2" height="39.7" fill="#0b0b0b"/><rect x="1238.7" y="1060.4" width="19.2" height="39.7" fill="#060606"/><rect x="1257.4" y="1060.4" width="19.2" height="39.7" fill="#000000"/><rect x="1276" y="1060.4" width="19.2" height="39.7" fill="#000000"/><rect x="1294.7" y="1060.4" width="39.8" height="39.7" fill="#000000"/></g></g>
<rect x="1005.5" y="630.4" width="298.5" height="75.2" fill="url(#g6)"/>
<g clip-path="url(#c7)"><g filter="url(#b7)"><rect x="118.7" y="1173.1" width="39.8" height="116.6" fill="#161616"/><rect x="158" y="1173.1" width="19.1" height="116.6" fill="#0b0b0b"/><rect x="176.7" y="1173.1" width="19.1" height="116.6" fill="#060606"/><rect x="195.3" y="1173.1" width="19.1" height="116.6" fill="#060606"/><rect x="214" y="1173.1" width="19.1" height="116.6" fill="#060606"/><rect x="232.6" y="1173.1" width="19.1" height="116.6" fill="#060606"/><rect x="251.2" y="1173.1" width="19.1" height="116.6" fill="#161616"/><rect x="269.9" y="1173.1" width="19.1" height="116.6" fill="#424242"/><rect x="288.5" y="1173.1" width="19.1" height="116.6" fill="#585858"/><rect x="307.2" y="1173.1" width="19.1" height="116.6" fill="#4d4d4d"/><rect x="325.8" y="1173.1" width="19.1" height="116.6" fill="#2c2c2c"/><rect x="344.5" y="1173.1" width="19.1" height="116.6" fill="#0b0b0b"/><rect x="363.1" y="1173.1" width="19.1" height="116.6" fill="#060606"/><rect x="381.7" y="1173.1" width="19.1" height="116.6" fill="#060606"/><rect x="400.4" y="1173.1" width="19.1" height="116.6" fill="#0b0b0b"/><rect x="419" y="1173.1" width="19.1" height="116.6" fill="#161616"/><rect x="437.7" y="1173.1" width="39.8" height="116.6" fill="#2c2c2c"/><rect x="118.7" y="1289.2" width="39.8" height="15.2" fill="#060606"/><rect x="158" y="1289.2" width="19.1" height="15.2" fill="#000000"/><rect x="176.7" y="1289.2" width="19.1" height="15.2" fill="#000000"/><rect x="195.3" y="1289.2" width="19.1" height="15.2" fill="#000000"/><rect x="214" y="1289.2" width="19.1" height="15.2" fill="#000000"/><rect x="232.6" y="1289.2" width="19.1" height="15.2" fill="#000000"/><rect x="251.2" y="1289.2" width="19.1" height="15.2" fill="#0b0b0b"/><rect x="269.9" y="1289.2" width="19.1" height="15.2" fill="#3d3d3d"/><rect x="288.5" y="1289.2" width="19.1" height="15.2" fill="#585858"/><rect x="307.2" y="1289.2" width="19.1" height="15.2" fill="#4d4d4d"/><rect x="325.8" y="1289.2" width="19.1" height="15.2" fill="#212121"/><rect x="344.5" y="1289.2" width="19.1" height="15.2" fill="#000000"/><rect x="363.1" y="1289.2" width="19.1" height="15.2" fill="#000000"/><rect x="381.7" y="1289.2" width="19.1" height="15.2" fill="#000000"/><rect x="400.4" y="1289.2" width="19.1" height="15.2" fill="#000000"/><rect x="419" y="1289.2" width="19.1" height="15.2" fill="#060606"/><rect x="437.7" y="1289.2" width="39.8" height="15.2" fill="#212121"/><rect x="118.7" y="1303.8" width="39.8" height="18.8" fill="#060606"/><rect x="158" y="1303.8" width="19.1" height="18.8" fill="#000000"/><rect x="176.7" y="1303.8" width="19.1" height="18.8" fill="#000000"/><rect x="195.3" y="1303.8" width="19.1" height="18.8" fill="#000000"/><rect x="214" y="1303.8" width="19.1" height="18.8" fill="#000000"/><rect x="232.6" y="1303.8" width="19.1" height="18.8" fill="#000000"/><rect x="251.2" y="1303.8" width="19.1" height="18.8" fill="#161616"/><rect x="269.9" y="1303.8" width="19.1" height="18.8" fill="#585858"/><rect x="288.5" y="1303.8" width="19.1" height="18.8" fill="#696969"/><rect x="307.2" y="1303.8" width="19.1" height="18.8" fill="#636363"/><rect x="325.8" y="1303.8" width="19.1" height="18.8" fill="#2c2c2c"/><rect x="344.5" y="1303.8" width="19.1" height="18.8" fill="#000000"/><rect x="363.1" y="1303.8" width="19.1" height="18.8" fill="#000000"/><rect x="381.7" y="1303.8" width="19.1" height="18.8" fill="#000000"/><rect x="400.4" y="1303.8" width="19.1" height="18.8" fill="#000000"/><rect x="419" y="1303.8" width="19.1" height="18.8" fill="#060606"/><rect x="437.7" y="1303.8" width="39.8" height="18.8" fill="#161616"/><rect x="118.7" y="1322.2" width="39.8" height="18.8" fill="#585858"/><rect x="158" y="1322.2" width="19.1" height="18.8" fill="#424242"/><rect x="176.7" y="1322.2" width="19.1" height="18.8" fill="#101010"/><rect x="195.3" y="1322.2" width="19.1" height="18.8" fill="#000000"/><rect x="214" y="1322.2" width="19.1" height="18.8" fill="#000000"/><rect x="232.6" y="1322.2" width="19.1" height="18.8" fill="#0b0b0b"/><rect x="251.2" y="1322.2" width="19.1" height="18.8" fill="#424242"/><rect x="269.9" y="1322.2" width="19.1" height="18.8" fill="#7f7f7f"/><rect x="288.5" y="1322.2" width="19.1" height="18.8" fill="#8a8a8a"/><rect x="307.2" y="1322.2" width="19.1" height="18.8" fill="#7f7f7f"/><rect x="325.8" y="1322.2" width="19.1" height="18.8" fill="#424242"/><rect x="344.5" y="1322.2" width="19.1" height="18.8" fill="#060606"/><rect x="363.1" y="1322.2" width="19.1" height="18.8" fill="#000000"/><rect x="381.7" y="1322.2" width="19.1" height="18.8" fill="#000000"/><rect x="400.4" y="1322.2" width="19.1" height="18.8" fill="#0b0b0b"/><rect x="419" y="1322.2" width="19.1" height="18.8" fill="#373737"/><rect x="437.7" y="1322.2" width="39.8" height="18.8" fill="#4d4d4d"/><rect x="118.7" y="1340.5" width="39.8" height="18.8" fill="#8a8a8a"/><rect x="158" y="1340.5" width="19.1" height="18.8" fill="#7f7f7f"/><rect x="176.7" y="1340.5" width="19.1" height="18.8" fill="#424242"/><rect x="195.3" y="1340.5" width="19.1" height="18.8" fill="#212121"/><rect x="214" y="1340.5" width="19.1" height="18.8" fill="#0b0b0b"/><rect x="232.6" y="1340.5" width="19.1" height="18.8" fill="#212121"/><rect x="251.2" y="1340.5" width="19.1" height="18.8" fill="#636363"/><rect x="269.9" y="1340.5" width="19.1" height="18.8" fill="#8f8f8f"/><rect x="288.5" y="1340.5" width="19.1" height="18.8" fill="#9a9a9a"/><rect x="307.2" y="1340.5" width="19.1" height="18.8" fill="#8f8f8f"/><rect x="325.8" y="1340.5" width="19.1" height="18.8" fill="#636363"/><rect x="344.5" y="1340.5" width="19.1" height="18.8" fill="#212121"/><rect x="363.1" y="1340.5" width="19.1" height="18.8" fill="#0b0b0b"/><rect x="381.7" y="1340.5" width="19.1" height="18.8" fill="#0b0b0b"/><rect x="400.4" y="1340.5" width="19.1" height="18.8" fill="#373737"/><rect x="419" y="1340.5" width="19.1" height="18.8" fill="#6e6e6e"/><rect x="437.7" y="1340.5" width="39.8" height="18.8" fill="#797979"/><rect x="118.7" y="1358.8" width="39.8" height="18.8" fill="#a5a5a5"/><rect x="158" y="1358.8" width="19.1" height="18.8" fill="#a5a5a5"/><rect x="176.7" y="1358.8" width="19.1" height="18.8" fill="#8f8f8f"/><rect x="195.3" y="1358.8" width="19.1" height="18.8" fill="#797979"/><rect x="214" y="1358.8" width="19.1" height="18.8" fill="#6e6e6e"/><rect x="232.6" y="1358.8" width="19.1" height="18.8" fill="#848484"/><rect x="251.2" y="1358.8" width="19.1" height="18.8" fill="#8f8f8f"/><rect x="269.9" y="1358.8" width="19.1" height="18.8" fill="#9a9a9a"/><rect x="288.5" y="1358.8" width="19.1" height="18.8" fill="#a0a0a0"/><rect x="307.2" y="1358.8" width="19.1" height="18.8" fill="#9a9a9a"/><rect x="325.8" y="1358.8" width="19.1" height="18.8" fill="#848484"/><rect x="344.5" y="1358.8" width="19.1" height="18.8" fill="#636363"/><rect x="363.1" y="1358.8" width="19.1" height="18.8" fill="#2c2c2c"/><rect x="381.7" y="1358.8" width="19.1" height="18.8" fill="#373737"/><rect x="400.4" y="1358.8" width="19.1" height="18.8" fill="#797979"/><rect x="419" y="1358.8" width="19.1" height="18.8" fill="#9a9a9a"/><rect x="437.7" y="1358.8" width="39.8" height="18.8" fill="#9a9a9a"/><rect x="118.7" y="1377.1" width="39.8" height="18.8" fill="#8f8f8f"/><rect x="158" y="1377.1" width="19.1" height="18.8" fill="#9a9a9a"/><rect x="176.7" y="1377.1" width="19.1" height="18.8" fill="#9a9a9a"/><rect x="195.3" y="1377.1" width="19.1" height="18.8" fill="#8f8f8f"/><rect x="214" y="1377.1" width="19.1" height="18.8" fill="#848484"/><rect x="232.6" y="1377.1" width="19.1" height="18.8" fill="#848484"/><rect x="251.2" y="1377.1" width="19.1" height="18.8" fill="#8f8f8f"/><rect x="269.9" y="1377.1" width="19.1" height="18.8" fill="#9a9a9a"/><rect x="288.5" y="1377.1" width="19.1" height="18.8" fill="#a5a5a5"/><rect x="307.2" y="1377.1" width="19.1" height="18.8" fill="#9a9a9a"/><rect x="325.8" y="1377.1" width="19.1" height="18.8" fill="#8f8f8f"/><rect x="344.5" y="1377.1" width="19.1" height="18.8" fill="#797979"/><rect x="363.1" y="1377.1" width="19.1" height="18.8" fill="#585858"/><rect x="381.7" y="1377.1" width="19.1" height="18.8" fill="#636363"/><rect x="400.4" y="1377.1" width="19.1" height="18.8" fill="#848484"/><rect x="419" y="1377.1" width="19.1" height="18.8" fill="#9a9a9a"/><rect x="437.7" y="1377.1" width="39.8" height="18.8" fill="#9a9a9a"/><rect x="118.7" y="1395.4" width="39.8" height="18.8" fill="#797979"/><rect x="158" y="1395.4" width="19.1" height="18.8" fill="#8f8f8f"/><rect x="176.7" y="1395.4" width="19.1" height="18.8" fill="#9a9a9a"/><rect x="195.3" y="1395.4" width="19.1" height="18.8" fill="#9a9a9a"/><rect x="214" y="1395.4" width="19.1" height="18.8" fill="#8f8f8f"/><rect x="232.6" y="1395.4" width="19.1" height="18.8" fill="#8f8f8f"/><rect x="251.2" y="1395.4" width="19.1" height="18.8" fill="#949494"/><rect x="269.9" y="1395.4" width="19.1" height="18.8" fill="#9a9a9a"/><rect x="288.5" y="1395.4" width="19.1" height="18.8" fill="#a5a5a5"/><rect x="307.2" y="1395.4" width="19.1" height="18.8" fill="#8f8f8f"/><rect x="325.8" y="1395.4" width="19.1" height="18.8" fill="#797979"/><rect x="344.5" y="1395.4" width="19.1" height="18.8" fill="#797979"/><rect x="363.1" y="1395.4" width="19.1" height="18.8" fill="#797979"/><rect x="381.7" y="1395.4" width="19.1" height="18.8" fill="#797979"/><rect x="400.4" y="1395.4" width="19.1" height="18.8" fill="#8f8f8f"/><rect x="419" y="1395.4" width="19.1" height="18.8" fill="#9a9a9a"/><rect x="437.7" y="1395.4" width="39.8" height="18.8" fill="#8f8f8f"/><rect x="118.7" y="1413.7" width="39.8" height="18.8" fill="#636363"/><rect x="158" y="1413.7" width="19.1" height="18.8" fill="#848484"/><rect x="176.7" y="1413.7" width="19.1" height="18.8" fill="#8f8f8f"/><rect x="195.3" y="1413.7" width="19.1" height="18.8" fill="#9a9a9a"/><rect x="214" y="1413.7" width="19.1" height="18.8" fill="#9a9a9a"/><rect x="232.6" y="1413.7" width="19.1" height="18.8" fill="#949494"/><rect x="251.2" y="1413.7" width="19.1" height="18.8" fill="#949494"/><rect x="269.9" y="1413.7" width="19.1" height="18.8" fill="#9a9a9a"/><rect x="288.5" y="1413.7" width="19.1" height="18.8" fill="#a5a5a5"/><rect x="307.2" y="1413.7" width="19.1" height="18.8" fill="#8f8f8f"/><rect x="325.8" y="1413.7" width="19.1" height="18.8" fill="#6e6e6e"/><rect x="344.5" y="1413.7" width="19.1" height="18.8" fill="#797979"/><rect x="363.1" y="1413.7" width="19.1" height="18.8" fill="#848484"/><rect x="381.7" y="1413.7" width="19.1" height="18.8" fill="#848484"/><rect x="400.4" y="1413.7" width="19.1" height="18.8" fill="#8f8f8f"/><rect x="419" y="1413.7" width="19.1" height="18.8" fill="#8f8f8f"/><rect x="437.7" y="1413.7" width="39.8" height="18.8" fill="#797979"/><rect x="118.7" y="1432.1" width="39.8" height="18.8" fill="#585858"/><rect x="158" y="1432.1" width="19.1" height="18.8" fill="#797979"/><rect x="176.7" y="1432.1" width="19.1" height="18.8" fill="#8f8f8f"/><rect x="195.3" y="1432.1" width="19.1" height="18.8" fill="#9a9a9a"/><rect x="214" y="1432.1" width="19.1" height="18.8" fill="#9a9a9a"/><rect x="232.6" y="1432.1" width="19.1" height="18.8" fill="#9a9a9a"/><rect x="251.2" y="1432.1" width="19.1" height="18.8" fill="#949494"/><rect x="269.9" y="1432.1" width="19.1" height="18.8" fill="#9a9a9a"/><rect x="288.5" y="1432.1" width="19.1" height="18.8" fill="#a5a5a5"/><rect x="307.2" y="1432.1" width="19.1" height="18.8" fill="#9a9a9a"/><rect x="325.8" y="1432.1" width="19.1" height="18.8" fill="#848484"/><rect x="344.5" y="1432.1" width="19.1" height="18.8" fill="#848484"/><rect x="363.1" y="1432.1" width="19.1" height="18.8" fill="#8a8a8a"/><rect x="381.7" y="1432.1" width="19.1" height="18.8" fill="#8f8f8f"/><rect x="400.4" y="1432.1" width="19.1" height="18.8" fill="#8f8f8f"/><rect x="419" y="1432.1" width="19.1" height="18.8" fill="#797979"/><rect x="437.7" y="1432.1" width="39.8" height="18.8" fill="#585858"/><rect x="118.7" y="1450.4" width="39.8" height="28" fill="#636363"/><rect x="158" y="1450.4" width="19.1" height="28" fill="#747474"/><rect x="176.7" y="1450.4" width="19.1" height="28" fill="#8a8a8a"/><rect x="195.3" y="1450.4" width="19.1" height="28" fill="#949494"/><rect x="214" y="1450.4" width="19.1" height="28" fill="#949494"/><rect x="232.6" y="1450.4" width="19.1" height="28" fill="#949494"/><rect x="251.2" y="1450.4" width="19.1" height="28" fill="#949494"/><rect x="269.9" y="1450.4" width="19.1" height="28" fill="#919191"/><rect x="288.5" y="1450.4" width="19.1" height="28" fill="#949494"/><rect x="307.2" y="1450.4" width="19.1" height="28" fill="#8a8a8a"/><rect x="325.8" y="1450.4" width="19.1" height="28" fill="#848484"/><rect x="344.5" y="1450.4" width="19.1" height="28" fill="#8a8a8a"/><rect x="363.1" y="1450.4" width="19.1" height="28" fill="#8f8f8f"/><rect x="381.7" y="1450.4" width="19.1" height="28" fill="#8f8f8f"/><rect x="400.4" y="1450.4" width="19.1" height="28" fill="#7f7f7f"/><rect x="419" y="1450.4" width="19.1" height="28" fill="#636363"/><rect x="437.7" y="1450.4" width="39.8" height="28" fill="#525252"/><rect x="118.7" y="1477.8" width="39.8" height="37.1" fill="#6e6e6e"/><rect x="158" y="1477.8" width="19.1" height="37.1" fill="#848484"/><rect x="176.7" y="1477.8" width="19.1" height="37.1" fill="#8f8f8f"/><rect x="195.3" y="1477.8" width="19.1" height="37.1" fill="#949494"/><rect x="214" y="1477.8" width="19.1" height="37.1" fill="#9a9a9a"/><rect x="232.6" y="1477.8" width="19.1" height="37.1" fill="#9a9a9a"/><rect x="251.2" y="1477.8" width="19.1" height="37.1" fill="#949494"/><rect x="269.9" y="1477.8" width="19.1" height="37.1" fill="#8f8f8f"/><rect x="288.5" y="1477.8" width="19.1" height="37.1" fill="#848484"/><rect x="307.2" y="1477.8" width="19.1" height="37.1" fill="#848484"/><rect x="325.8" y="1477.8" width="19.1" height="37.1" fill="#848484"/><rect x="344.5" y="1477.8" width="19.1" height="37.1" fill="#8f8f8f"/><rect x="363.1" y="1477.8" width="19.1" height="37.1" fill="#949494"/><rect x="381.7" y="1477.8" width="19.1" height="37.1" fill="#8f8f8f"/><rect x="400.4" y="1477.8" width="19.1" height="37.1" fill="#848484"/><rect x="419" y="1477.8" width="19.1" height="37.1" fill="#797979"/><rect x="437.7" y="1477.8" width="39.8" height="37.1" fill="#6e6e6e"/><rect x="118.7" y="1514.5" width="39.8" height="37.1" fill="#6e6e6e"/><rect x="158" y="1514.5" width="19.1" height="37.1" fill="#848484"/><rect x="176.7" y="1514.5" width="19.1" height="37.1" fill="#8f8f8f"/><rect x="195.3" y="1514.5" width="19.1" height="37.1" fill="#949494"/><rect x="214" y="1514.5" width="19.1" height="37.1" fill="#949494"/><rect x="232.6" y="1514.5" width="19.1" height="37.1" fill="#9a9a9a"/><rect x="251.2" y="1514.5" width="19.1" height="37.1" fill="#949494"/><rect x="269.9" y="1514.5" width="19.1" height="37.1" fill="#8f8f8f"/><rect x="288.5" y="1514.5" width="19.1" height="37.1" fill="#8a8a8a"/><rect x="307.2" y="1514.5" width="19.1" height="37.1" fill="#8a8a8a"/><rect x="325.8" y="1514.5" width="19.1" height="37.1" fill="#8a8a8a"/><rect x="344.5" y="1514.5" width="19.1" height="37.1" fill="#8f8f8f"/><rect x="363.1" y="1514.5" width="19.1" height="37.1" fill="#8f8f8f"/><rect x="381.7" y="1514.5" width="19.1" height="37.1" fill="#8f8f8f"/><rect x="400.4" y="1514.5" width="19.1" height="37.1" fill="#8a8a8a"/><rect x="419" y="1514.5" width="19.1" height="37.1" fill="#848484"/><rect x="437.7" y="1514.5" width="39.8" height="37.1" fill="#6e6e6e"/><rect x="118.7" y="1551.1" width="39.8" height="28" fill="#6e6e6e"/><rect x="158" y="1551.1" width="19.1" height="28" fill="#848484"/><rect x="176.7" y="1551.1" width="19.1" height="28" fill="#8f8f8f"/><rect x="195.3" y="1551.1" width="19.1" height="28" fill="#949494"/><rect x="214" y="1551.1" width="19.1" height="28" fill="#949494"/><rect x="232.6" y="1551.1" width="19.1" height="28" fill="#949494"/><rect x="251.2" y="1551.1" width="19.1" height="28" fill="#8f8f8f"/><rect x="269.9" y="1551.1" width="19.1" height="28" fill="#8a8a8a"/><rect x="288.5" y="1551.1" width="19.1" height="28" fill="#848484"/><rect x="307.2" y="1551.1" width="19.1" height="28" fill="#848484"/><rect x="325.8" y="1551.1" width="19.1" height="28" fill="#8a8a8a"/><rect x="344.5" y="1551.1" width="19.1" height="28" fill="#8f8f8f"/><rect x="363.1" y="1551.1" width="19.1" height="28" fill="#8f8f8f"/><rect x="381.7" y="1551.1" width="19.1" height="28" fill="#8f8f8f"/><rect x="400.4" y="1551.1" width="19.1" height="28" fill="#8a8a8a"/><rect x="419" y="1551.1" width="19.1" height="28" fill="#848484"/><rect x="437.7" y="1551.1" width="39.8" height="28" fill="#6e6e6e"/><rect x="118.7" y="1578.6" width="39.8" height="18.8" fill="#636363"/><rect x="158" y="1578.6" width="19.1" height="18.8" fill="#797979"/><rect x="176.7" y="1578.6" width="19.1" height="18.8" fill="#848484"/><rect x="195.3" y="1578.6" width="19.1" height="18.8" fill="#8f8f8f"/><rect x="214" y="1578.6" width="19.1" height="18.8" fill="#8f8f8f"/><rect x="232.6" y="1578.6" width="19.1" height="18.8" fill="#8f8f8f"/><rect x="251.2" y="1578.6" width="19.1" height="18.8" fill="#8a8a8a"/><rect x="269.9" y="1578.6" width="19.1" height="18.8" fill="#848484"/><rect x="288.5" y="1578.6" width="19.1" height="18.8" fill="#7f7f7f"/><rect x="307.2" y="1578.6" width="19.1" height="18.8" fill="#7f7f7f"/><rect x="325.8" y="1578.6" width="19.1" height="18.8" fill="#848484"/><rect x="344.5" y="1578.6" width="19.1" height="18.8" fill="#8a8a8a"/><rect x="363.1" y="1578.6" width="19.1" height="18.8" fill="#8a8a8a"/><rect x="381.7" y="1578.6" width="19.1" height="18.8" fill="#8a8a8a"/><rect x="400.4" y="1578.6" width="19.1" height="18.8" fill="#848484"/><rect x="419" y="1578.6" width="19.1" height="18.8" fill="#797979"/><rect x="437.7" y="1578.6" width="39.8" height="18.8" fill="#636363"/><rect x="118.7" y="1596.9" width="39.8" height="18.8" fill="#585858"/><rect x="158" y="1596.9" width="19.1" height="18.8" fill="#6e6e6e"/><rect x="176.7" y="1596.9" width="19.1" height="18.8" fill="#797979"/><rect x="195.3" y="1596.9" width="19.1" height="18.8" fill="#848484"/><rect x="214" y="1596.9" width="19.1" height="18.8" fill="#848484"/><rect x="232.6" y="1596.9" width="19.1" height="18.8" fill="#848484"/><rect x="251.2" y="1596.9" width="19.1" height="18.8" fill="#7f7f7f"/><rect x="269.9" y="1596.9" width="19.1" height="18.8" fill="#797979"/><rect x="288.5" y="1596.9" width="19.1" height="18.8" fill="#6e6e6e"/><rect x="307.2" y="1596.9" width="19.1" height="18.8" fill="#747474"/><rect x="325.8" y="1596.9" width="19.1" height="18.8" fill="#797979"/><rect x="344.5" y="1596.9" width="19.1" height="18.8" fill="#7f7f7f"/><rect x="363.1" y="1596.9" width="19.1" height="18.8" fill="#7f7f7f"/><rect x="381.7" y="1596.9" width="19.1" height="18.8" fill="#7f7f7f"/><rect x="400.4" y="1596.9" width="19.1" height="18.8" fill="#797979"/><rect x="419" y="1596.9" width="19.1" height="18.8" fill="#6e6e6e"/><rect x="437.7" y="1596.9" width="39.8" height="18.8" fill="#585858"/><rect x="118.7" y="1615.2" width="39.8" height="18.8" fill="#2c2c2c"/><rect x="158" y="1615.2" width="19.1" height="18.8" fill="#373737"/><rect x="176.7" y="1615.2" width="19.1" height="18.8" fill="#424242"/><rect x="195.3" y="1615.2" width="19.1" height="18.8" fill="#4d4d4d"/><rect x="214" y="1615.2" width="19.1" height="18.8" fill="#4d4d4d"/><rect x="232.6" y="1615.2" width="19.1" height="18.8" fill="#4d4d4d"/><rect x="251.2" y="1615.2" width="19.1" height="18.8" fill="#4d4d4d"/><rect x="269.9" y="1615.2" width="19.1" height="18.8" fill="#424242"/><rect x="288.5" y="1615.2" width="19.1" height="18.8" fill="#373737"/><rect x="307.2" y="1615.2" width="19.1" height="18.8" fill="#424242"/><rect x="325.8" y="1615.2" width="19.1" height="18.8" fill="#4d4d4d"/><rect x="344.5" y="1615.2" width="19.1" height="18.8" fill="#4d4d4d"/><rect x="363.1" y="1615.2" width="19.1" height="18.8" fill="#4d4d4d"/><rect x="381.7" y="1615.2" width="19.1" height="18.8" fill="#4d4d4d"/><rect x="400.4" y="1615.2" width="19.1" height="18.8" fill="#424242"/><rect x="419" y="1615.2" width="19.1" height="18.8" fill="#373737"/><rect x="437.7" y="1615.2" width="39.8" height="18.8" fill="#2c2c2c"/><rect x="118.7" y="1633.5" width="39.8" height="39.7" fill="#060606"/><rect x="158" y="1633.5" width="19.1" height="39.7" fill="#060606"/><rect x="176.7" y="1633.5" width="19.1" height="39.7" fill="#0b0b0b"/><rect x="195.3" y="1633.5" width="19.1" height="39.7" fill="#0b0b0b"/><rect x="214" y="1633.5" width="19.1" height="39.7" fill="#0b0b0b"/><rect x="232.6" y="1633.5" width="19.1" height="39.7" fill="#0b0b0b"/><rect x="251.2" y="1633.5" width="19.1" height="39.7" fill="#0b0b0b"/><rect x="269.9" y="1633.5" width="19.1" height="39.7" fill="#0b0b0b"/><rect x="288.5" y="1633.5" width="19.1" height="39.7" fill="#060606"/><rect x="307.2" y="1633.5" width="19.1" height="39.7" fill="#0b0b0b"/><rect x="325.8" y="1633.5" width="19.1" height="39.7" fill="#0b0b0b"/><rect x="344.5" y="1633.5" width="19.1" height="39.7" fill="#0b0b0b"/><rect x="363.1" y="1633.5" width="19.1" height="39.7" fill="#0b0b0b"/><rect x="381.7" y="1633.5" width="19.1" height="39.7" fill="#0b0b0b"/><rect x="400.4" y="1633.5" width="19.1" height="39.7" fill="#0b0b0b"/><rect x="419" y="1633.5" width="19.1" height="39.7" fill="#060606"/><rect x="437.7" y="1633.5" width="39.8" height="39.7" fill="#060606"/></g></g>
<rect x="148.7" y="1203.1" width="298.3" height="75.3" fill="url(#g8)"/>
<g clip-path="url(#c9)"><g filter="url(#b9)"><rect x="591" y="1173.1" width="39.8" height="116.6" fill="#0b0b0b"/><rect x="630.3" y="1173.1" width="19.2" height="116.6" fill="#060606"/><rect x="649" y="1173.1" width="19.2" height="116.6" fill="#060606"/><rect x="667.6" y="1173.1" width="19.2" height="116.6" fill="#060606"/><rect x="686.3" y="1173.1" width="19.2" height="116.6" fill="#060606"/><rect x="705" y="1173.1" width="19.2" height="116.6" fill="#161616"/><rect x="723.6" y="1173.1" width="19.2" height="116.6" fill="#373737"/><rect x="742.3" y="1173.1" width="19.2" height="116.6" fill="#636363"/><rect x="760.9" y="1173.1" width="19.2" height="116.6" fill="#797979"/><rect x="779.6" y="1173.1" width="19.2" height="116.6" fill="#636363"/><rect x="798.2" y="1173.1" width="19.2" height="116.6" fill="#424242"/><rect x="816.9" y="1173.1" width="19.2" height="116.6" fill="#0b0b0b"/><rect x="835.5" y="1173.1" width="19.2" height="116.6" fill="#060606"/><rect x="854.2" y="1173.1" width="19.2" height="116.6" fill="#060606"/><rect x="872.9" y="1173.1" width="19.2" height="116.6" fill="#060606"/><rect x="891.5" y="1173.1" width="19.2" height="116.6" fill="#0b0b0b"/><rect x="910.2" y="1173.1" width="39.8" height="116.6" fill="#161616"/><rect x="591" y="1289.2" width="39.8" height="15.2" fill="#000000"/><rect x="630.3" y="1289.2" width="19.2" height="15.2" fill="#000000"/><rect x="649" y="1289.2" width="19.2" height="15.2" fill="#000000"/><rect x="667.6" y="1289.2" width="19.2" height="15.2" fill="#000000"/><rect x="686.3" y="1289.2" width="19.2" height="15.2" fill="#000000"/><rect x="705" y="1289.2" width="19.2" height="15.2" fill="#0b0b0b"/><rect x="723.6" y="1289.2" width="19.2" height="15.2" fill="#424242"/><rect x="742.3" y="1289.2" width="19.2" height="15.2" fill="#6e6e6e"/><rect x="760.9" y="1289.2" width="19.2" height="15.2" fill="#848484"/><rect x="779.6" y="1289.2" width="19.2" height="15.2" fill="#797979"/><rect x="798.2" y="1289.2" width="19.2" height="15.2" fill="#4d4d4d"/><rect x="816.9" y="1289.2" width="19.2" height="15.2" fill="#060606"/><rect x="835.5" y="1289.2" width="19.2" height="15.2" fill="#000000"/><rect x="854.2" y="1289.2" width="19.2" height="15.2" fill="#000000"/><rect x="872.9" y="1289.2" width="19.2" height="15.2" fill="#000000"/><rect x="891.5" y="1289.2" width="19.2" height="15.2" fill="#000000"/><rect x="910.2" y="1289.2" width="39.8" height="15.2" fill="#0b0b0b"/><rect x="591" y="1303.8" width="39.8" height="18.8" fill="#000000"/><rect x="630.3" y="1303.8" width="19.2" height="18.8" fill="#000000"/><rect x="649" y="1303.8" width="19.2" height="18.8" fill="#000000"/><rect x="667.6" y="1303.8" width="19.2" height="18.8" fill="#000000"/><rect x="686.3" y="1303.8" width="19.2" height="18.8" fill="#000000"/><rect x="705" y="1303.8" width="19.2" height="18.8" fill="#161616"/><rect x="723.6" y="1303.8" width="19.2" height="18.8" fill="#6e6e6e"/><rect x="742.3" y="1303.8" width="19.2" height="18.8" fill="#8f8f8f"/><rect x="760.9" y="1303.8" width="19.2" height="18.8" fill="#9a9a9a"/><rect x="779.6" y="1303.8" width="19.2" height="18.8" fill="#8f8f8f"/><rect x="798.2" y="1303.8" width="19.2" height="18.8" fill="#636363"/><rect x="816.9" y="1303.8" width="19.2" height="18.8" fill="#060606"/><rect x="835.5" y="1303.8" width="19.2" height="18.8" fill="#000000"/><rect x="854.2" y="1303.8" width="19.2" height="18.8" fill="#000000"/><rect x="872.9" y="1303.8" width="19.2" height="18.8" fill="#000000"/><rect x="891.5" y="1303.8" width="19.2" height="18.8" fill="#060606"/><rect x="910.2" y="1303.8" width="39.8" height="18.8" fill="#0b0b0b"/><rect x="591" y="1322.2" width="39.8" height="18.8" fill="#161616"/><rect x="630.3" y="1322.2" width="19.2" height="18.8" fill="#0b0b0b"/><rect x="649" y="1322.2" width="19.2" height="18.8" fill="#000000"/><rect x="667.6" y="1322.2" width="19.2" height="18.8" fill="#000000"/><rect x="686.3" y="1322.2" width="19.2" height="18.8" fill="#000000"/><rect x="705" y="1322.2" width="19.2" height="18.8" fill="#2c2c2c"/><rect x="723.6" y="1322.2" width="19.2" height="18.8" fill="#848484"/><rect x="742.3" y="1322.2" width="19.2" height="18.8" fill="#9a9a9a"/><rect x="760.9" y="1322.2" width="19.2" height="18.8" fill="#a0a0a0"/><rect x="779.6" y="1322.2" width="19.2" height="18.8" fill="#9a9a9a"/><rect x="798.2" y="1322.2" width="19.2" height="18.8" fill="#797979"/><rect x="816.9" y="1322.2" width="19.2" height="18.8" fill="#212121"/><rect x="835.5" y="1322.2" width="19.2" height="18.8" fill="#000000"/><rect x="854.2" y="1322.2" width="19.2" height="18.8" fill="#000000"/><rect x="872.9" y="1322.2" width="19.2" height="18.8" fill="#000000"/><rect x="891.5" y="1322.2" width="19.2" height="18.8" fill="#212121"/><rect x="910.2" y="1322.2" width="39.8" height="18.8" fill="#424242"/><rect x="591" y="1340.5" width="39.8" height="18.8" fill="#6e6e6e"/><rect x="630.3" y="1340.5" width="19.2" height="18.8" fill="#585858"/><rect x="649" y="1340.5" width="19.2" height="18.8" fill="#2c2c2c"/><rect x="667.6" y="1340.5" width="19.2" height="18.8" fill="#0b0b0b"/><rect x="686.3" y="1340.5" width="19.2" height="18.8" fill="#0b0b0b"/><rect x="705" y="1340.5" width="19.2" height="18.8" fill="#424242"/><rect x="723.6" y="1340.5" width="19.2" height="18.8" fill="#8f8f8f"/><rect x="742.3" y="1340.5" width="19.2" height="18.8" fill="#9a9a9a"/><rect x="760.9" y="1340.5" width="19.2" height="18.8" fill="#a5a5a5"/><rect x="779.6" y="1340.5" width="19.2" height="18.8" fill="#9a9a9a"/><rect x="798.2" y="1340.5" width="19.2" height="18.8" fill="#848484"/><rect x="816.9" y="1340.5" width="19.2" height="18.8" fill="#424242"/><rect x="835.5" y="1340.5" width="19.2" height="18.8" fill="#0b0b0b"/><rect x="854.2" y="1340.5" width="19.2" height="18.8" fill="#000000"/><rect x="872.9" y="1340.5" width="19.2" height="18.8" fill="#161616"/><rect x="891.5" y="1340.5" width="19.2" height="18.8" fill="#636363"/><rect x="910.2" y="1340.5" width="39.8" height="18.8" fill="#797979"/><rect x="591" y="1358.8" width="39.8" height="18.8" fill="#8f8f8f"/><rect x="630.3" y="1358.8" width="19.2" height="18.8" fill="#8f8f8f"/><rect x="649" y="1358.8" width="19.2" height="18.8" fill="#797979"/><rect x="667.6" y="1358.8" width="19.2" height="18.8" fill="#585858"/><rect x="686.3" y="1358.8" width="19.2" height="18.8" fill="#4d4d4d"/><rect x="705" y="1358.8" width="19.2" height="18.8" fill="#636363"/><rect x="723.6" y="1358.8" width="19.2" height="18.8" fill="#8f8f8f"/><rect x="742.3" y="1358.8" width="19.2" height="18.8" fill="#a0a0a0"/><rect x="760.9" y="1358.8" width="19.2" height="18.8" fill="#a5a5a5"/><rect x="779.6" y="1358.8" width="19.2" height="18.8" fill="#a0a0a0"/><rect x="798.2" y="1358.8" width="19.2" height="18.8" fill="#8f8f8f"/><rect x="816.9" y="1358.8" width="19.2" height="18.8" fill="#636363"/><rect x="835.5" y="1358.8" width="19.2" height="18.8" fill="#212121"/><rect x="854.2" y="1358.8" width="19.2" height="18.8" fill="#212121"/><rect x="872.9" y="1358.8" width="19.2" height="18.8" fill="#585858"/><rect x="891.5" y="1358.8" width="19.2" height="18.8" fill="#848484"/><rect x="910.2" y="1358.8" width="39.8" height="18.8" fill="#8f8f8f"/><rect x="591" y="1377.1" width="39.8" height="18.8" fill="#8f8f8f"/><rect x="630.3" y="1377.1" width="19.2" height="18.8" fill="#9a9a9a"/><rect x="649" y="1377.1" width="19.2" height="18.8" fill="#9a9a9a"/><rect x="667.6" y="1377.1" width="19.2" height="18.8" fill="#8f8f8f"/><rect x="686.3" y="1377.1" width="19.2" height="18.8" fill="#797979"/><rect x="705" y="1377.1" width="19.2" height="18.8" fill="#797979"/><rect x="723.6" y="1377.1" width="19.2" height="18.8" fill="#8f8f8f"/><rect x="742.3" y="1377.1" width="19.2" height="18.8" fill="#9a9a9a"/><rect x="760.9" y="1377.1" width="19.2" height="18.8" fill="#a5a5a5"/><rect x="779.6" y="1377.1" width="19.2" height="18.8" fill="#a0a0a0"/><rect x="798.2" y="1377.1" width="19.2" height="18.8" fill="#8f8f8f"/><rect x="816.9" y="1377.1" width="19.2" height="18.8" fill="#797979"/><rect x="835.5" y="1377.1" width="19.2" height="18.8" fill="#4d4d4d"/><rect x="854.2" y="1377.1" width="19.2" height="18.8" fill="#585858"/><rect x="872.9" y="1377.1" width="19.2" height="18.8" fill="#797979"/><rect x="891.5" y="1377.1" width="19.2" height="18.8" fill="#8f8f8f"/><rect x="910.2" y="1377.1" width="39.8" height="18.8" fill="#8f8f8f"/><rect x="591" y="1395.4" width="39.8" height="18.8" fill="#848484"/><rect x="630.3" y="1395.4" width="19.2" height="18.8" fill="#9a9a9a"/><rect x="649" y="1395.4" width="19.2" height="18.8" fill="#a5a5a5"/><rect x="667.6" y="1395.4" width="19.2" height="18.8" fill="#9a9a9a"/><rect x="686.3" y="1395.4" width="19.2" height="18.8" fill="#8f8f8f"/><rect x="705" y="1395.4" width="19.2" height="18.8" fill="#848484"/><rect x="723.6" y="1395.4" width="19.2" height="18.8" fill="#848484"/><rect x="742.3" y="1395.4" width="19.2" height="18.8" fill="#8f8f8f"/><rect x="760.9" y="1395.4" width="19.2" height="18.8" fill="#a5a5a5"/><rect x="779.6" y="1395.4" width="19.2" height="18.8" fill="#9a9a9a"/><rect x="798.2" y="1395.4" width="19.2" height="18.8" fill="#8f8f8f"/><rect x="816.9" y="1395.4" width="19.2" height="18.8" fill="#848484"/><rect x="835.5" y="1395.4" width="19.2" height="18.8" fill="#797979"/><rect x="854.2" y="1395.4" width="19.2" height="18.8" fill="#797979"/><rect x="872.9" y="1395.4" width="19.2" height="18.8" fill="#848484"/><rect x="891.5" y="1395.4" width="19.2" height="18.8" fill="#8f8f8f"/><rect x="910.2" y="1395.4" width="39.8" height="18.8" fill="#848484"/><rect x="591" y="1413.7" width="39.8" height="18.8" fill="#797979"/><rect x="630.3" y="1413.7" width="19.2" height="18.8" fill="#8f8f8f"/><rect x="649" y="1413.7" width="19.2" height="18.8" fill="#a5a5a5"/><rect x="667.6" y="1413.7" width="19.2" height="18.8" fill="#a0a0a0"/><rect x="686.3" y="1413.7" width="19.2" height="18.8" fill="#9a9a9a"/><rect x="705" y="1413.7" width="19.2" height="18.8" fill="#8f8f8f"/><rect x="723.6" y="1413.7" width="19.2" height="18.8" fill="#797979"/><rect x="742.3" y="1413.7" width="19.2" height="18.8" fill="#848484"/><rect x="760.9" y="1413.7" width="19.2" height="18.8" fill="#a5a5a5"/><rect x="779.6" y="1413.7" width="19.2" height="18.8" fill="#9a9a9a"/><rect x="798.2" y="1413.7" width="19.2" height="18.8" fill="#848484"/><rect x="816.9" y="1413.7" width="19.2" height="18.8" fill="#848484"/><rect x="835.5" y="1413.7" width="19.2" height="18.8" fill="#848484"/><rect x="854.2" y="1413.7" width="19.2" height="18.8" fill="#848484"/><rect x="872.9" y="1413.7" width="19.2" height="18.8" fill="#8f8f8f"/><rect x="891.5" y="1413.7" width="19.2" height="18.8" fill="#8f8f8f"/><rect x="910.2" y="1413.7" width="39.8" height="18.8" fill="#797979"/><rect x="591" y="1432.1" width="39.8" height="18.8" fill="#636363"/><rect x="630.3" y="1432.1" width="19.2" height="18.8" fill="#848484"/><rect x="649" y="1432.1" width="19.2" height="18.8" fill="#9a9a9a"/><rect x="667.6" y="1432.1" width="19.2" height="18.8" fill="#9a9a9a"/><rect x="686.3" y="1432.1" width="19.2" height="18.8" fill="#9a9a9a"/><rect x="705" y="1432.1" width="19.2" height="18.8" fill="#949494"/><rect x="723.6" y="1432.1" width="19.2" height="18.8" fill="#797979"/><rect x="742.3" y="1432.1" width="19.2" height="18.8" fill="#848484"/><rect x="760.9" y="1432.1" width="19.2" height="18.8" fill="#a5a5a5"/><rect x="779.6" y="1432.1" width="19.2" height="18.8" fill="#9a9a9a"/><rect x="798.2" y="1432.1" width="19.2" height="18.8" fill="#848484"/><rect x="816.9" y="1432.1" width="19.2" height="18.8" fill="#8a8a8a"/><rect x="835.5" y="1432.1" width="19.2" height="18.8" fill="#8f8f8f"/><rect x="854.2" y="1432.1" width="19.2" height="18.8" fill="#8f8f8f"/><rect x="872.9" y="1432.1" width="19.2" height="18.8" fill="#8f8f8f"/><rect x="891.5" y="1432.1" width="19.2" height="18.8" fill="#848484"/><rect x="910.2" y="1432.1" width="39.8" height="18.8" fill="#636363"/><rect x="591" y="1450.4" width="39.8" height="28" fill="#424242"/><rect x="630.3" y="1450.4" width="19.2" height="28" fill="#636363"/><rect x="649" y="1450.4" width="19.2" height="28" fill="#848484"/><rect x="667.6" y="1450.4" width="19.2" height="28" fill="#8f8f8f"/><rect x="686.3" y="1450.4" width="19.2" height="28" fill="#949494"/><rect x="705" y="1450.4" width="19.2" height="28" fill="#8f8f8f"/><rect x="723.6" y="1450.4" width="19.2" height="28" fill="#8a8a8a"/><rect x="742.3" y="1450.4" width="19.2" height="28" fill="#8a8a8a"/><rect x="760.9" y="1450.4" width="19.2" height="28" fill="#8f8f8f"/><rect x="779.6" y="1450.4" width="19.2" height="28" fill="#8a8a8a"/><rect x="798.2" y="1450.4" width="19.2" height="28" fill="#848484"/><rect x="816.9" y="1450.4" width="19.2" height="28" fill="#848484"/><rect x="835.5" y="1450.4" width="19.2" height="28" fill="#8a8a8a"/><rect x="854.2" y="1450.4" width="19.2" height="28" fill="#8a8a8a"/><rect x="872.9" y="1450.4" width="19.2" height="28" fill="#797979"/><rect x="891.5" y="1450.4" width="19.2" height="28" fill="#585858"/><rect x="910.2" y="1450.4" width="39.8" height="28" fill="#4d4d4d"/><rect x="591" y="1477.8" width="39.8" height="37.1" fill="#424242"/><rect x="630.3" y="1477.8" width="19.2" height="37.1" fill="#6e6e6e"/><rect x="649" y="1477.8" width="19.2" height="37.1" fill="#8f8f8f"/><rect x="667.6" y="1477.8" width="19.2" height="37.1" fill="#9a9a9a"/><rect x="686.3" y="1477.8" width="19.2" height="37.1" fill="#a0a0a0"/><rect x="705" y="1477.8" width="19.2" height="37.1" fill="#9a9a9a"/><rect x="723.6" y="1477.8" width="19.2" height="37.1" fill="#949494"/><rect x="742.3" y="1477.8" width="19.2" height="37.1" fill="#8f8f8f"/><rect x="760.9" y="1477.8" width="19.2" height="37.1" fill="#8f8f8f"/><rect x="779.6" y="1477.8" width="19.2" height="37.1" fill="#8f8f8f"/><rect x="798.2" y="1477.8" width="19.2" height="37.1" fill="#8f8f8f"/><rect x="816.9" y="1477.8" width="19.2" height="37.1" fill="#949494"/><rect x="835.5" y="1477.8" width="19.2" height="37.1" fill="#949494"/><rect x="854.2" y="1477.8" width="19.2" height="37.1" fill="#8f8f8f"/><rect x="872.9" y="1477.8" width="19.2" height="37.1" fill="#848484"/><rect x="891.5" y="1477.8" width="19.2" height="37.1" fill="#636363"/><rect x="910.2" y="1477.8" width="39.8" height="37.1" fill="#4d4d4d"/><rect x="591" y="1514.5" width="39.8" height="37.1" fill="#636363"/><rect x="630.3" y="1514.5" width="19.2" height="37.1" fill="#848484"/><rect x="649" y="1514.5" width="19.2" height="37.1" fill="#9a9a9a"/><rect x="667.6" y="1514.5" width="19.2" height="37.1" fill="#a0a0a0"/><rect x="686.3" y="1514.5" width="19.2" height="37.1" fill="#a5a5a5"/><rect x="705" y="1514.5" width="19.2" height="37.1" fill="#a0a0a0"/><rect x="723.6" y="1514.5" width="19.2" height="37.1" fill="#9a9a9a"/><rect x="742.3" y="1514.5" width="19.2" height="37.1" fill="#949494"/><rect x="760.9" y="1514.5" width="19.2" height="37.1" fill="#8f8f8f"/><rect x="779.6" y="1514.5" width="19.2" height="37.1" fill="#8f8f8f"/><rect x="798.2" y="1514.5" width="19.2" height="37.1" fill="#949494"/><rect x="816.9" y="1514.5" width="19.2" height="37.1" fill="#9a9a9a"/><rect x="835.5" y="1514.5" width="19.2" height="37.1" fill="#9a9a9a"/><rect x="854.2" y="1514.5" width="19.2" height="37.1" fill="#949494"/><rect x="872.9" y="1514.5" width="19.2" height="37.1" fill="#8a8a8a"/><rect x="891.5" y="1514.5" width="19.2" height="37.1" fill="#797979"/><rect x="910.2" y="1514.5" width="39.8" height="37.1" fill="#636363"/><rect x="591" y="1551.1" width="39.8" height="28" fill="#6e6e6e"/><rect x="630.3" y="1551.1" width="19.2" height="28" fill="#848484"/><rect x="649" y="1551.1" width="19.2" height="28" fill="#949494"/><rect x="667.6" y="1551.1" width="19.2" height="28" fill="#9a9a9a"/><rect x="686.3" y="1551.1" width="19.2" height="28" fill="#a0a0a0"/><rect x="705" y="1551.1" width="19.2" height="28" fill="#9a9a9a"/><rect x="723.6" y="1551.1" width="19.2" height="28" fill="#949494"/><rect x="742.3" y="1551.1" width="19.2" height="28" fill="#8f8f8f"/><rect x="760.9" y="1551.1" width="19.2" height="28" fill="#8a8a8a"/><rect x="779.6" y="1551.1" width="19.2" height="28" fill="#8a8a8a"/><rect x="798.2" y="1551.1" width="19.2" height="28" fill="#8f8f8f"/><rect x="816.9" y="1551.1" width="19.2" height="28" fill="#949494"/><rect x="835.5" y="1551.1" width="19.2" height="28" fill="#949494"/><rect x="854.2" y="1551.1" width="19.2" height="28" fill="#8f8f8f"/><rect x="872.9" y="1551.1" width="19.2" height="28" fill="#8a8a8a"/><rect x="891.5" y="1551.1" width="19.2" height="28" fill="#7f7f7f"/><rect x="910.2" y="1551.1" width="39.8" height="28" fill="#6e6e6e"/><rect x="591" y="1578.6" width="39.8" height="18.8" fill="#585858"/><rect x="630.3" y="1578.6" width="19.2" height="18.8" fill="#797979"/><rect x="649" y="1578.6" width="19.2" height="18.8" fill="#8a8a8a"/><rect x="667.6" y="1578.6" width="19.2" height="18.8" fill="#949494"/><rect x="686.3" y="1578.6" width="19.2" height="18.8" fill="#949494"/><rect x="705" y="1578.6" width="19.2" height="18.8" fill="#949494"/><rect x="723.6" y="1578.6" width="19.2" height="18.8" fill="#8f8f8f"/><rect x="742.3" y="1578.6" width="19.2" height="18.8" fill="#8a8a8a"/><rect x="760.9" y="1578.6" width="19.2" height="18.8" fill="#848484"/><rect x="779.6" y="1578.6" width="19.2" height="18.8" fill="#848484"/><rect x="798.2" y="1578.6" width="19.2" height="18.8" fill="#8a8a8a"/><rect x="816.9" y="1578.6" width="19.2" height="18.8" fill="#8f8f8f"/><rect x="835.5" y="1578.6" width="19.2" height="18.8" fill="#8f8f8f"/><rect x="854.2" y="1578.6" width="19.2" height="18.8" fill="#8a8a8a"/><rect x="872.9" y="1578.6" width="19.2" height="18.8" fill="#848484"/><rect x="891.5" y="1578.6" width="19.2" height="18.8" fill="#747474"/><rect x="910.2" y="1578.6" width="39.8" height="18.8" fill="#5e5e5e"/><rect x="591" y="1596.9" width="39.8" height="18.8" fill="#373737"/><rect x="630.3" y="1596.9" width="19.2" height="18.8" fill="#585858"/><rect x="649" y="1596.9" width="19.2" height="18.8" fill="#6e6e6e"/><rect x="667.6" y="1596.9" width="19.2" height="18.8" fill="#7f7f7f"/><rect x="686.3" y="1596.9" width="19.2" height="18.8" fill="#848484"/><rect x="705" y="1596.9" width="19.2" height="18.8" fill="#848484"/><rect x="723.6" y="1596.9" width="19.2" height="18.8" fill="#7f7f7f"/><rect x="742.3" y="1596.9" width="19.2" height="18.8" fill="#797979"/><rect x="760.9" y="1596.9" width="19.2" height="18.8" fill="#747474"/><rect x="779.6" y="1596.9" width="19.2" height="18.8" fill="#747474"/><rect x="798.2" y="1596.9" width="19.2" height="18.8" fill="#797979"/><rect x="816.9" y="1596.9" width="19.2" height="18.8" fill="#7f7f7f"/><rect x="835.5" y="1596.9" width="19.2" height="18.8" fill="#7f7f7f"/><rect x="854.2" y="1596.9" width="19.2" height="18.8" fill="#797979"/><rect x="872.9" y="1596.9" width="19.2" height="18.8" fill="#6e6e6e"/><rect x="891.5" y="1596.9" width="19.2" height="18.8" fill="#585858"/><rect x="910.2" y="1596.9" width="39.8" height="18.8" fill="#373737"/><rect x="591" y="1615.2" width="39.8" height="18.8" fill="#0b0b0b"/><rect x="630.3" y="1615.2" width="19.2" height="18.8" fill="#161616"/><rect x="649" y="1615.2" width="19.2" height="18.8" fill="#2c2c2c"/><rect x="667.6" y="1615.2" width="19.2" height="18.8" fill="#373737"/><rect x="686.3" y="1615.2" width="19.2" height="18.8" fill="#424242"/><rect x="705" y="1615.2" width="19.2" height="18.8" fill="#424242"/><rect x="723.6" y="1615.2" width="19.2" height="18.8" fill="#424242"/><rect x="742.3" y="1615.2" width="19.2" height="18.8" fill="#3d3d3d"/><rect x="760.9" y="1615.2" width="19.2" height="18.8" fill="#373737"/><rect x="779.6" y="1615.2" width="19.2" height="18.8" fill="#3d3d3d"/><rect x="798.2" y="1615.2" width="19.2" height="18.8" fill="#424242"/><rect x="816.9" y="1615.2" width="19.2" height="18.8" fill="#424242"/><rect x="835.5" y="1615.2" width="19.2" height="18.8" fill="#424242"/><rect x="854.2" y="1615.2" width="19.2" height="18.8" fill="#373737"/><rect x="872.9" y="1615.2" width="19.2" height="18.8" fill="#2c2c2c"/><rect x="891.5" y="1615.2" width="19.2" height="18.8" fill="#161616"/><rect x="910.2" y="1615.2" width="39.8" height="18.8" fill="#0b0b0b"/><rect x="591" y="1633.5" width="39.8" height="39.7" fill="#000000"/><rect x="630.3" y="1633.5" width="19.2" height="39.7" fill="#000000"/><rect x="649" y="1633.5" width="19.2" height="39.7" fill="#060606"/><rect x="667.6" y="1633.5" width="19.2" height="39.7" fill="#060606"/><rect x="686.3" y="1633.5" width="19.2" height="39.7" fill="#060606"/><rect x="705" y="1633.5" width="19.2" height="39.7" fill="#060606"/><rect x="723.6" y="1633.5" width="19.2" height="39.7" fill="#060606"/><rect x="742.3" y="1633.5" width="19.2" height="39.7" fill="#060606"/><rect x="760.9" y="1633.5" width="19.2" height="39.7" fill="#060606"/><rect x="779.6" y="1633.5" width="19.2" height="39.7" fill="#060606"/><rect x="798.2" y="1633.5" width="19.2" height="39.7" fill="#060606"/><rect x="816.9" y="1633.5" width="19.2" height="39.7" fill="#060606"/><rect x="835.5" y="1633.5" width="19.2" height="39.7" fill="#060606"/><rect x="854.2" y="1633.5" width="19.2" height="39.7" fill="#060606"/><rect x="872.9" y="1633.5" width="19.2" height="39.7" fill="#060606"/><rect x="891.5" y="1633.5" width="19.2" height="39.7" fill="#000000"/><rect x="910.2" y="1633.5" width="39.8" height="39.7" fill="#000000"/></g></g>
<rect x="621" y="1203.1" width="298.5" height="75.3" fill="url(#g10)"/>
<g clip-path="url(#c11)"><g filter="url(#b11)"><rect x="975.5" y="1173.1" width="39.8" height="116.6" fill="#0b0b0b"/><rect x="1014.8" y="1173.1" width="19.2" height="116.6" fill="#060606"/><rect x="1033.5" y="1173.1" width="19.2" height="116.6" fill="#060606"/><rect x="1052.1" y="1173.1" width="19.2" height="116.6" fill="#060606"/><rect x="1070.8" y="1173.1" width="19.2" height="116.6" fill="#060606"/><rect x="1089.5" y="1173.1" width="19.2" height="116.6" fill="#161616"/><rect x="1108.1" y="1173.1" width="19.2" height="116.6" fill="#424242"/><rect x="1126.8" y="1173.1" width="19.2" height="116.6" fill="#636363"/><rect x="1145.4" y="1173.1" width="19.2" height="116.6" fill="#797979"/><rect x="1164.1" y="1173.1" width="19.2" height="116.6" fill="#636363"/><rect x="1182.7" y="1173.1" width="19.2" height="116.6" fill="#373737"/><rect x="1201.4" y="1173.1" width="19.2" height="116.6" fill="#0b0b0b"/><rect x="1220" y="1173.1" width="19.2" height="116.6" fill="#060606"/><rect x="1238.7" y="1173.1" width="19.2" height="116.6" fill="#060606"/><rect x="1257.4" y="1173.1" width="19.2" height="116.6" fill="#060606"/><rect x="1276" y="1173.1" width="19.2" height="116.6" fill="#0b0b0b"/><rect x="1294.7" y="1173.1" width="39.8" height="116.6" fill="#161616"/><rect x="975.5" y="1289.2" width="39.8" height="15.2" fill="#000000"/><rect x="1014.8" y="1289.2" width="19.2" height="15.2" fill="#000000"/><rect x="1033.5" y="1289.2" width="19.2" height="15.2" fill="#000000"/><rect x="1052.1" y="1289.2" width="19.2" height="15.2" fill="#000000"/><rect x="1070.8" y="1289.2" width="19.2" height="15.2" fill="#000000"/><rect x="1089.5" y="1289.2" width="19.2" height="15.2" fill="#0b0b0b"/><rect x="1108.1" y="1289.2" width="19.2" height="15.2" fill="#585858"/><rect x="1126.8" y="1289.2" width="19.2" height="15.2" fill="#797979"/><rect x="1145.4" y="1289.2" width="19.2" height="15.2" fill="#848484"/><rect x="1164.1" y="1289.2" width="19.2" height="15.2" fill="#6e6e6e"/><rect x="1182.7" y="1289.2" width="19.2" height="15.2" fill="#212121"/><rect x="1201.4" y="1289.2" width="19.2" height="15.2" fill="#000000"/><rect x="1220" y="1289.2" width="19.2" height="15.2" fill="#000000"/><rect x="1238.7" y="1289.2" width="19.2" height="15.2" fill="#000000"/><rect x="1257.4" y="1289.2" width="19.2" height="15.2" fill="#000000"/><rect x="1276" y="1289.2" width="19.2" height="15.2" fill="#060606"/><rect x="1294.7" y="1289.2" width="39.8" height="15.2" fill="#161616"/><rect x="975.5" y="1303.8" width="39.8" height="18.8" fill="#000000"/><rect x="1014.8" y="1303.8" width="19.2" height="18.8" fill="#000000"/><rect x="1033.5" y="1303.8" width="19.2" height="18.8" fill="#000000"/><rect x="1052.1" y="1303.8" width="19.2" height="18.8" fill="#000000"/><rect x="1070.8" y="1303.8" width="19.2" height="18.8" fill="#000000"/><rect x="1089.5" y="1303.8" width="19.2" height="18.8" fill="#161616"/><rect x="1108.1" y="1303.8" width="19.2" height="18.8" fill="#6e6e6e"/><rect x="1126.8" y="1303.8" width="19.2" height="18.8" fill="#8f8f8f"/><rect x="1145.4" y="1303.8" width="19.2" height="18.8" fill="#9a9a9a"/><rect x="1164.1" y="1303.8" width="19.2" height="18.8" fill="#848484"/><rect x="1182.7" y="1303.8" width="19.2" height="18.8" fill="#2c2c2c"/><rect x="1201.4" y="1303.8" width="19.2" height="18.8" fill="#000000"/><rect x="1220" y="1303.8" width="19.2" height="18.8" fill="#000000"/><rect x="1238.7" y="1303.8" width="19.2" height="18.8" fill="#000000"/><rect x="1257.4" y="1303.8" width="19.2" height="18.8" fill="#000000"/><rect x="1276" y="1303.8" width="19.2" height="18.8" fill="#0b0b0b"/><rect x="1294.7" y="1303.8" width="39.8" height="18.8" fill="#212121"/><rect x="975.5" y="1322.2" width="39.8" height="18.8" fill="#161616"/><rect x="1014.8" y="1322.2" width="19.2" height="18.8" fill="#060606"/><rect x="1033.5" y="1322.2" width="19.2" height="18.8" fill="#000000"/><rect x="1052.1" y="1322.2" width="19.2" height="18.8" fill="#000000"/><rect x="1070.8" y="1322.2" width="19.2" height="18.8" fill="#000000"/><rect x="1089.5" y="1322.2" width="19.2" height="18.8" fill="#2c2c2c"/><rect x="1108.1" y="1322.2" width="19.2" height="18.8" fill="#797979"/><rect x="1126.8" y="1322.2" width="19.2" height="18.8" fill="#9a9a9a"/><rect x="1145.4" y="1322.2" width="19.2" height="18.8" fill="#a0a0a0"/><rect x="1164.1" y="1322.2" width="19.2" height="18.8" fill="#8f8f8f"/><rect x="1182.7" y="1322.2" width="19.2" height="18.8" fill="#4d4d4d"/><rect x="1201.4" y="1322.2" width="19.2" height="18.8" fill="#060606"/><rect x="1220" y="1322.2" width="19.2" height="18.8" fill="#000000"/><rect x="1238.7" y="1322.2" width="19.2" height="18.8" fill="#000000"/><rect x="1257.4" y="1322.2" width="19.2" height="18.8" fill="#0b0b0b"/><rect x="1276" y="1322.2" width="19.2" height="18.8" fill="#2c2c2c"/><rect x="1294.7" y="1322.2" width="39.8" height="18.8" fill="#4d4d4d"/><rect x="975.5" y="1340.5" width="39.8" height="18.8" fill="#6e6e6e"/><rect x="1014.8" y="1340.5" width="19.2" height="18.8" fill="#4d4d4d"/><rect x="1033.5" y="1340.5" width="19.2" height="18.8" fill="#161616"/><rect x="1052.1" y="1340.5" width="19.2" height="18.8" fill="#0b0b0b"/><rect x="1070.8" y="1340.5" width="19.2" height="18.8" fill="#161616"/><rect x="1089.5" y="1340.5" width="19.2" height="18.8" fill="#585858"/><rect x="1108.1" y="1340.5" width="19.2" height="18.8" fill="#848484"/><rect x="1126.8" y="1340.5" width="19.2" height="18.8" fill="#9a9a9a"/><rect x="1145.4" y="1340.5" width="19.2" height="18.8" fill="#a5a5a5"/><rect x="1164.1" y="1340.5" width="19.2" height="18.8" fill="#9a9a9a"/><rect x="1182.7" y="1340.5" width="19.2" height="18.8" fill="#6e6e6e"/><rect x="1201.4" y="1340.5" width="19.2" height="18.8" fill="#212121"/><rect x="1220" y="1340.5" width="19.2" height="18.8" fill="#060606"/><rect x="1238.7" y="1340.5" width="19.2" height="18.8" fill="#0b0b0b"/><rect x="1257.4" y="1340.5" width="19.2" height="18.8" fill="#424242"/><rect x="1276" y="1340.5" width="19.2" height="18.8" fill="#6e6e6e"/><rect x="1294.7" y="1340.5" width="39.8" height="18.8" fill="#797979"/><rect x="975.5" y="1358.8" width="39.8" height="18.8" fill="#8f8f8f"/><rect x="1014.8" y="1358.8" width="19.2" height="18.8" fill="#848484"/><rect x="1033.5" y="1358.8" width="19.2" height="18.8" fill="#6e6e6e"/><rect x="1052.1" y="1358.8" width="19.2" height="18.8" fill="#636363"/><rect x="1070.8" y="1358.8" width="19.2" height="18.8" fill="#6e6e6e"/><rect x="1089.5" y="1358.8" width="19.2" height="18.8" fill="#797979"/><rect x="1108.1" y="1358.8" width="19.2" height="18.8" fill="#8f8f8f"/><rect x="1126.8" y="1358.8" width="19.2" height="18.8" fill="#a0a0a0"/><rect x="1145.4" y="1358.8" width="19.2" height="18.8" fill="#a5a5a5"/><rect x="1164.1" y="1358.8" width="19.2" height="18.8" fill="#9a9a9a"/><rect x="1182.7" y="1358.8" width="19.2" height="18.8" fill="#797979"/><rect x="1201.4" y="1358.8" width="19.2" height="18.8" fill="#424242"/><rect x="1220" y="1358.8" width="19.2" height="18.8" fill="#212121"/><rect x="1238.7" y="1358.8" width="19.2" height="18.8" fill="#424242"/><rect x="1257.4" y="1358.8" width="19.2" height="18.8" fill="#6e6e6e"/><rect x="1276" y="1358.8" width="19.2" height="18.8" fill="#848484"/><rect x="1294.7" y="1358.8" width="39.8" height="18.8" fill="#848484"/><rect x="975.5" y="1377.1" width="39.8" height="18.8" fill="#8f8f8f"/><rect x="1014.8" y="1377.1" width="19.2" height="18.8" fill="#8f8f8f"/><rect x="1033.5" y="1377.1" width="19.2" height="18.8" fill="#8f8f8f"/><rect x="1052.1" y="1377.1" width="19.2" height="18.8" fill="#8f8f8f"/><rect x="1070.8" y="1377.1" width="19.2" height="18.8" fill="#8f8f8f"/><rect x="1089.5" y="1377.1" width="19.2" height="18.8" fill="#8f8f8f"/><rect x="1108.1" y="1377.1" width="19.2" height="18.8" fill="#949494"/><rect x="1126.8" y="1377.1" width="19.2" height="18.8" fill="#a0a0a0"/><rect x="1145.4" y="1377.1" width="19.2" height="18.8" fill="#a5a5a5"/><rect x="1164.1" y="1377.1" width="19.2" height="18.8" fill="#9a9a9a"/><rect x="1182.7" y="1377.1" width="19.2" height="18.8" fill="#797979"/><rect x="1201.4" y="1377.1" width="19.2" height="18.8" fill="#585858"/><rect x="1220" y="1377.1" width="19.2" height="18.8" fill="#4d4d4d"/><rect x="1238.7" y="1377.1" width="19.2" height="18.8" fill="#6e6e6e"/><rect x="1257.4" y="1377.1" width="19.2" height="18.8" fill="#848484"/><rect x="1276" y="1377.1" width="19.2" height="18.8" fill="#8f8f8f"/><rect x="1294.7" y="1377.1" width="39.8" height="18.8" fill="#8f8f8f"/><rect x="975.5" y="1395.4" width="39.8" height="18.8" fill="#848484"/><rect x="1014.8" y="1395.4" width="19.2" height="18.8" fill="#8f8f8f"/><rect x="1033.5" y="1395.4" width="19.2" height="18.8" fill="#949494"/><rect x="1052.1" y="1395.4" width="19.2" height="18.8" fill="#949494"/><rect x="1070.8" y="1395.4" width="19.2" height="18.8" fill="#949494"/><rect x="1089.5" y="1395.4" width="19.2" height="18.8" fill="#949494"/><rect x="1108.1" y="1395.4" width="19.2" height="18.8" fill="#949494"/><rect x="1126.8" y="1395.4" width="19.2" height="18.8" fill="#9a9a9a"/><rect x="1145.4" y="1395.4" width="19.2" height="18.8" fill="#a5a5a5"/><rect x="1164.1" y="1395.4" width="19.2" height="18.8" fill="#9a9a9a"/><rect x="1182.7" y="1395.4" width="19.2" height="18.8" fill="#848484"/><rect x="1201.4" y="1395.4" width="19.2" height="18.8" fill="#797979"/><rect x="1220" y="1395.4" width="19.2" height="18.8" fill="#797979"/><rect x="1238.7" y="1395.4" width="19.2" height="18.8" fill="#848484"/><rect x="1257.4" y="1395.4" width="19.2" height="18.8" fill="#8f8f8f"/><rect x="1276" y="1395.4" width="19.2" height="18.8" fill="#8f8f8f"/><rect x="1294.7" y="1395.4" width="39.8" height="18.8" fill="#848484"/><rect x="975.5" y="1413.7" width="39.8" height="18.8" fill="#797979"/><rect x="1014.8" y="1413.7" width="19.2" height="18.8" fill="#848484"/><rect x="1033.5" y="1413.7" width="19.2" height="18.8" fill="#8f8f8f"/><rect x="1052.1" y="1413.7" width="19.2" height="18.8" fill="#8f8f8f"/><rect x="1070.8" y="1413.7" width="19.2" height="18.8" fill="#8f8f8f"/><rect x="1089.5" y="1413.7" width="19.2" height="18.8" fill="#8f8f8f"/><rect x="1108.1" y="1413.7" width="19.2" height="18.8" fill="#8f8f8f"/><rect x="1126.8" y="1413.7" width="19.2" height="18.8" fill="#949494"/><rect x="1145.4" y="1413.7" width="19.2" height="18.8" fill="#a0a0a0"/><rect x="1164.1" y="1413.7" width="19.2" height="18.8" fill="#9a9a9a"/><rect x="1182.7" y="1413.7" width="19.2" height="18.8" fill="#8f8f8f"/><rect x="1201.4" y="1413.7" width="19.2" height="18.8" fill="#8a8a8a"/><rect x="1220" y="1413.7" width="19.2" height="18.8" fill="#8a8a8a"/><rect x="1238.7" y="1413.7" width="19.2" height="18.8" fill="#8f8f8f"/><rect x="1257.4" y="1413.7" width="19.2" height="18.8" fill="#8f8f8f"/><rect x="1276" y="1413.7" width="19.2" height="18.8" fill="#848484"/><rect x="1294.7" y="1413.7" width="39.8" height="18.8" fill="#797979"/><rect x="975.5" y="1432.1" width="39.8" height="18.8" fill="#6e6e6e"/><rect x="1014.8" y="1432.1" width="19.2" height="18.8" fill="#7f7f7f"/><rect x="1033.5" y="1432.1" width="19.2" height="18.8" fill="#8a8a8a"/><rect x="1052.1" y="1432.1" width="19.2" height="18.8" fill="#8a8a8a"/><rect x="1070.8" y="1432.1" width="19.2" height="18.8" fill="#8a8a8a"/><rect x="1089.5" y="1432.1" width="19.2" height="18.8" fill="#8a8a8a"/><rect x="1108.1" y="1432.1" width="19.2" height="18.8" fill="#8a8a8a"/><rect x="1126.8" y="1432.1" width="19.2" height="18.8" fill="#8f8f8f"/><rect x="1145.4" y="1432.1" width="19.2" height="18.8" fill="#9a9a9a"/><rect x="1164.1" y="1432.1" width="19.2" height="18.8" fill="#949494"/><rect x="1182.7" y="1432.1" width="19.2" height="18.8" fill="#8f8f8f"/><rect x="1201.4" y="1432.1" width="19.2" height="18.8" fill="#8f8f8f"/><rect x="1220" y="1432.1" width="19.2" height="18.8" fill="#8f8f8f"/><rect x="1238.7" y="1432.1" width="19.2" height="18.8" fill="#8f8f8f"/><rect x="1257.4" y="1432.1" width="19.2" height="18.8" fill="#848484"/><rect x="1276" y="1432.1" width="19.2" height="18.8" fill="#6e6e6e"/><rect x="1294.7" y="1432.1" width="39.8" height="18.8" fill="#585858"/><rect x="975.5" y="1450.4" width="39.8" height="28" fill="#6e6e6e"/><rect x="1014.8" y="1450.4" width="19.2" height="28" fill="#797979"/><rect x="1033.5" y="1450.4" width="19.2" height="28" fill="#848484"/><rect x="1052.1" y="1450.4" width="19.2" height="28" fill="#848484"/><rect x="1070.8" y="1450.4" width="19.2" height="28" fill="#848484"/><rect x="1089.5" y="1450.4" width="19.2" height="28" fill="#848484"/><rect x="1108.1" y="1450.4" width="19.2" height="28" fill="#8a8a8a"/><rect x="1126.8" y="1450.4" width="19.2" height="28" fill="#8f8f8f"/><rect x="1145.4" y="1450.4" width="19.2" height="28" fill="#949494"/><rect x="1164.1" y="1450.4" width="19.2" height="28" fill="#8f8f8f"/><rect x="1182.7" y="1450.4" width="19.2" height="28" fill="#8f8f8f"/><rect x="1201.4" y="1450.4" width="19.2" height="28" fill="#8f8f8f"/><rect x="1220" y="1450.4" width="19.2" height="28" fill="#8f8f8f"/><rect x="1238.7" y="1450.4" width="19.2" height="28" fill="#848484"/><rect x="1257.4" y="1450.4" width="19.2" height="28" fill="#6e6e6e"/><rect x="1276" y="1450.4" width="19.2" height="28" fill="#4d4d4d"/><rect x="1294.7" y="1450.4" width="39.8" height="28" fill="#424242"/><rect x="975.5" y="1477.8" width="39.8" height="37.1" fill="#797979"/><rect x="1014.8" y="1477.8" width="19.2" height="37.1" fill="#848484"/><rect x="1033.5" y="1477.8" width="19.2" height="37.1" fill="#8a8a8a"/><rect x="1052.1" y="1477.8" width="19.2" height="37.1" fill="#8f8f8f"/><rect x="1070.8" y="1477.8" width="19.2" height="37.1" fill="#8f8f8f"/><rect x="1089.5" y="1477.8" width="19.2" height="37.1" fill="#8f8f8f"/><rect x="1108.1" y="1477.8" width="19.2" height="37.1" fill="#8f8f8f"/><rect x="1126.8" y="1477.8" width="19.2" height="37.1" fill="#8f8f8f"/><rect x="1145.4" y="1477.8" width="19.2" height="37.1" fill="#8f8f8f"/><rect x="1164.1" y="1477.8" width="19.2" height="37.1" fill="#8f8f8f"/><rect x="1182.7" y="1477.8" width="19.2" height="37.1" fill="#8f8f8f"/><rect x="1201.4" y="1477.8" width="19.2" height="37.1" fill="#949494"/><rect x="1220" y="1477.8" width="19.2" height="37.1" fill="#949494"/><rect x="1238.7" y="1477.8" width="19.2" height="37.1" fill="#8a8a8a"/><rect x="1257.4" y="1477.8" width="19.2" height="37.1" fill="#797979"/><rect x="1276" y="1477.8" width="19.2" height="37.1" fill="#585858"/><rect x="1294.7" y="1477.8" width="39.8" height="37.1" fill="#585858"/><rect x="975.5" y="1514.5" width="39.8" height="37.1" fill="#797979"/><rect x="1014.8" y="1514.5" width="19.2" height="37.1" fill="#8a8a8a"/><rect x="1033.5" y="1514.5" width="19.2" height="37.1" fill="#949494"/><rect x="1052.1" y="1514.5" width="19.2" height="37.1" fill="#9a9a9a"/><rect x="1070.8" y="1514.5" width="19.2" height="37.1" fill="#9a9a9a"/><rect x="1089.5" y="1514.5" width="19.2" height="37.1" fill="#9a9a9a"/><rect x="1108.1" y="1514.5" width="19.2" height="37.1" fill="#949494"/><rect x="1126.8" y="1514.5" width="19.2" height="37.1" fill="#8f8f8f"/><rect x="1145.4" y="1514.5" width="19.2" height="37.1" fill="#8f8f8f"/><rect x="1164.1" y="1514.5" width="19.2" height="37.1" fill="#8f8f8f"/><rect x="1182.7" y="1514.5" width="19.2" height="37.1" fill="#949494"/><rect x="1201.4" y="1514.5" width="19.2" height="37.1" fill="#9a9a9a"/><rect x="1220" y="1514.5" width="19.2" height="37.1" fill="#9a9a9a"/><rect x="1238.7" y="1514.5" width="19.2" height="37.1" fill="#949494"/><rect x="1257.4" y="1514.5" width="19.2" height="37.1" fill="#8a8a8a"/><rect x="1276" y="1514.5" width="19.2" height="37.1" fill="#797979"/><rect x="1294.7" y="1514.5" width="39.8" height="37.1" fill="#6e6e6e"/><rect x="975.5" y="1551.1" width="39.8" height="28" fill="#797979"/><rect x="1014.8" y="1551.1" width="19.2" height="28" fill="#8a8a8a"/><rect x="1033.5" y="1551.1" width="19.2" height="28" fill="#949494"/><rect x="1052.1" y="1551.1" width="19.2" height="28" fill="#9a9a9a"/><rect x="1070.8" y="1551.1" width="19.2" height="28" fill="#9a9a9a"/><rect x="1089.5" y="1551.1" width="19.2" height="28" fill="#949494"/><rect x="1108.1" y="1551.1" width="19.2" height="28" fill="#8f8f8f"/><rect x="1126.8" y="1551.1" width="19.2" height="28" fill="#8a8a8a"/><rect x="1145.4" y="1551.1" width="19.2" height="28" fill="#8a8a8a"/><rect x="1164.1" y="1551.1" width="19.2" height="28" fill="#8a8a8a"/><rect x="1182.7" y="1551.1" width="19.2" height="28" fill="#8f8f8f"/><rect x="1201.4" y="1551.1" width="19.2" height="28" fill="#949494"/><rect x="1220" y="1551.1" width="19.2" height="28" fill="#949494"/><rect x="1238.7" y="1551.1" width="19.2" height="28" fill="#949494"/><rect x="1257.4" y="1551.1" width="19.2" height="28" fill="#8a8a8a"/><rect x="1276" y="1551.1" width="19.2" height="28" fill="#7f7f7f"/><rect x="1294.7" y="1551.1" width="39.8" height="28" fill="#797979"/><rect x="975.5" y="1578.6" width="39.8" height="18.8" fill="#6e6e6e"/><rect x="1014.8" y="1578.6" width="19.2" height="18.8" fill="#7f7f7f"/><rect x="1033.5" y="1578.6" width="19.2" height="18.8" fill="#8a8a8a"/><rect x="1052.1" y="1578.6" width="19.2" height="18.8" fill="#8f8f8f"/><rect x="1070.8" y="1578.6" width="19.2" height="18.8" fill="#8f8f8f"/><rect x="1089.5" y="1578.6" width="19.2" height="18.8" fill="#8f8f8f"/><rect x="1108.1" y="1578.6" width="19.2" height="18.8" fill="#8a8a8a"/><rect x="1126.8" y="1578.6" width="19.2" height="18.8" fill="#848484"/><rect x="1145.4" y="1578.6" width="19.2" height="18.8" fill="#848484"/><rect x="1164.1" y="1578.6" width="19.2" height="18.8" fill="#848484"/><rect x="1182.7" y="1578.6" width="19.2" height="18.8" fill="#8a8a8a"/><rect x="1201.4" y="1578.6" width="19.2" height="18.8" fill="#8f8f8f"/><rect x="1220" y="1578.6" width="19.2" height="18.8" fill="#8f8f8f"/><rect x="1238.7" y="1578.6" width="19.2" height="18.8" fill="#8f8f8f"/><rect x="1257.4" y="1578.6" width="19.2" height="18.8" fill="#848484"/><rect x="1276" y="1578.6" width="19.2" height="18.8" fill="#797979"/><rect x="1294.7" y="1578.6" width="39.8" height="18.8" fill="#6e6e6e"/><rect x="975.5" y="1596.9" width="39.8" height="18.8" fill="#636363"/><rect x="1014.8" y="1596.9" width="19.2" height="18.8" fill="#6e6e6e"/><rect x="1033.5" y="1596.9" width="19.2" height="18.8" fill="#797979"/><rect x="1052.1" y="1596.9" width="19.2" height="18.8" fill="#7f7f7f"/><rect x="1070.8" y="1596.9" width="19.2" height="18.8" fill="#7f7f7f"/><rect x="1089.5" y="1596.9" width="19.2" height="18.8" fill="#7f7f7f"/><rect x="1108.1" y="1596.9" width="19.2" height="18.8" fill="#797979"/><rect x="1126.8" y="1596.9" width="19.2" height="18.8" fill="#797979"/><rect x="1145.4" y="1596.9" width="19.2" height="18.8" fill="#747474"/><rect x="1164.1" y="1596.9" width="19.2" height="18.8" fill="#747474"/><rect x="1182.7" y="1596.9" width="19.2" height="18.8" fill="#797979"/><rect x="1201.4" y="1596.9" width="19.2" height="18.8" fill="#7f7f7f"/><rect x="1220" y="1596.9" width="19.2" height="18.8" fill="#7f7f7f"/><rect x="1238.7" y="1596.9" width="19.2" height="18.8" fill="#7f7f7f"/><rect x="1257.4" y="1596.9" width="19.2" height="18.8" fill="#747474"/><rect x="1276" y="1596.9" width="19.2" height="18.8" fill="#696969"/><rect x="1294.7" y="1596.9" width="39.8" height="18.8" fill="#585858"/><rect x="975.5" y="1615.2" width="39.8" height="18.8" fill="#2c2c2c"/><rect x="1014.8" y="1615.2" width="19.2" height="18.8" fill="#373737"/><rect x="1033.5" y="1615.2" width="19.2" height="18.8" fill="#424242"/><rect x="1052.1" y="1615.2" width="19.2" height="18.8" fill="#484848"/><rect x="1070.8" y="1615.2" width="19.2" height="18.8" fill="#484848"/><rect x="1089.5" y="1615.2" width="19.2" height="18.8" fill="#484848"/><rect x="1108.1" y="1615.2" width="19.2" height="18.8" fill="#424242"/><rect x="1126.8" y="1615.2" width="19.2" height="18.8" fill="#3d3d3d"/><rect x="1145.4" y="1615.2" width="19.2" height="18.8" fill="#3d3d3d"/><rect x="1164.1" y="1615.2" width="19.2" height="18.8" fill="#3d3d3d"/><rect x="1182.7" y="1615.2" width="19.2" height="18.8" fill="#424242"/><rect x="1201.4" y="1615.2" width="19.2" height="18.8" fill="#484848"/><rect x="1220" y="1615.2" width="19.2" height="18.8" fill="#484848"/><rect x="1238.7" y="1615.2" width="19.2" height="18.8" fill="#484848"/><rect x="1257.4" y="1615.2" width="19.2" height="18.8" fill="#3d3d3d"/><rect x="1276" y="1615.2" width="19.2" height="18.8" fill="#323232"/><rect x="1294.7" y="1615.2" width="39.8" height="18.8" fill="#262626"/><rect x="975.5" y="1633.5" width="39.8" height="39.7" fill="#060606"/><rect x="1014.8" y="1633.5" width="19.2" height="39.7" fill="#060606"/><rect x="1033.5" y="1633.5" width="19.2" height="39.7" fill="#060606"/><rect x="1052.1" y="1633.5" width="19.2" height="39.7" fill="#060606"/><rect x="1070.8" y="1633.5" width="19.2" height="39.7" fill="#060606"/><rect x="1089.5" y="1633.5" width="19.2" height="39.7" fill="#060606"/><rect x="1108.1" y="1633.5" width="19.2" height="39.7" fill="#060606"/><rect x="1126.8" y="1633.5" width="19.2" height="39.7" fill="#060606"/><rect x="1145.4" y="1633.5" width="19.2" height="39.7" fill="#060606"/><rect x="1164.1" y="1633.5" width="19.2" height="39.7" fill="#060606"/><rect x="1182.7" y="1633.5" width="19.2" height="39.7" fill="#060606"/><rect x="1201.4" y="1633.5" width="19.2" height="39.7" fill="#060606"/><rect x="1220" y="1633.5" width="19.2" height="39.7" fill="#060606"/><rect x="1238.7" y="1633.5" width="19.2" height="39.7" fill="#060606"/><rect x="1257.4" y="1633.5" width="19.2" height="39.7" fill="#060606"/><rect x="1276" y="1633.5" width="19.2" height="39.7" fill="#060606"/><rect x="1294.7" y="1633.5" width="39.8" height="39.7" fill="#060606"/></g></g>
<rect x="1005.5" y="1203.1" width="298.5" height="75.3" fill="url(#g12)"/>
<g clip-path="url(#c13)"><g filter="url(#b13)"><rect x="117.9" y="34.5" width="41.1" height="41.1" fill="#aaaaaa"/><rect x="158.5" y="34.5" width="21.7" height="41.1" fill="#a5a5a5"/><rect x="179.7" y="34.5" width="21.7" height="41.1" fill="#919191"/><rect x="201" y="34.5" width="21.7" height="41.1" fill="#8c8c8c"/><rect x="222.2" y="34.5" width="21.7" height="41.1" fill="#969696"/><rect x="243.4" y="34.5" width="21.7" height="41.1" fill="#9b9b9b"/><rect x="264.6" y="34.5" width="21.7" height="41.1" fill="#969696"/><rect x="285.8" y="34.5" width="21.7" height="41.1" fill="#9e9e9e"/><rect x="307.1" y="34.5" width="21.7" height="41.1" fill="#9e9e9e"/><rect x="328.3" y="34.5" width="21.7" height="41.1" fill="#9e9e9e"/><rect x="349.5" y="34.5" width="21.7" height="41.1" fill="#a8a8a8"/><rect x="370.7" y="34.5" width="21.7" height="41.1" fill="#bdbdbd"/><rect x="391.9" y="34.5" width="21.7" height="41.1" fill="#d2d2d2"/><rect x="413.2" y="34.5" width="21.7" height="41.1" fill="#e2e2e2"/><rect x="434.4" y="34.5" width="41.1" height="41.1" fill="#ececec"/><rect x="117.9" y="75.1" width="41.1" height="21.8" fill="#afafaf"/><rect x="158.5" y="75.1" width="21.7" height="21.8" fill="#9b9b9b"/><rect x="179.7" y="75.1" width="21.7" height="21.8" fill="#828282"/><rect x="201" y="75.1" width="21.7" height="21.8" fill="#7d7d7d"/><rect x="222.2" y="75.1" width="21.7" height="21.8" fill="#919191"/><rect x="243.4" y="75.1" width="21.7" height="21.8" fill="#969696"/><rect x="264.6" y="75.1" width="21.7" height="21.8" fill="#969696"/><rect x="285.8" y="75.1" width="21.7" height="21.8" fill="#8e8e8e"/><rect x="307.1" y="75.1" width="21.7" height="21.8" fill="#7e7e7e"/><rect x="328.3" y="75.1" width="21.7" height="21.8" fill="#747474"/><rect x="349.5" y="75.1" width="21.7" height="21.8" fill="#888888"/><rect x="370.7" y="75.1" width="21.7" height="21.8" fill="#a8a8a8"/><rect x="391.9" y="75.1" width="21.7" height="21.8" fill="#bdbdbd"/><rect x="413.2" y="75.1" width="21.7" height="21.8" fill="#d2d2d2"/><rect x="434.4" y="75.1" width="41.1" height="21.8" fill="#d2d2d2"/><rect x="117.9" y="96.4" width="41.1" height="21.8" fill="#b4b4b4"/><rect x="158.5" y="96.4" width="21.7" height="21.8" fill="#a5a5a5"/><rect x="179.7" y="96.4" width="21.7" height="21.8" fill="#878787"/><rect x="201" y="96.4" width="21.7" height="21.8" fill="#787878"/><rect x="222.2" y="96.4" width="21.7" height="21.8" fill="#969696"/><rect x="243.4" y="96.4" width="21.7" height="21.8" fill="#a0a0a0"/><rect x="264.6" y="96.4" width="21.7" height="21.8" fill="#9b9b9b"/><rect x="285.8" y="96.4" width="21.7" height="21.8" fill="#838383"/><rect x="307.1" y="96.4" width="21.7" height="21.8" fill="#595959"/><rect x="328.3" y="96.4" width="21.7" height="21.8" fill="#3a3a3a"/><rect x="349.5" y="96.4" width="21.7" height="21.8" fill="#545454"/><rect x="370.7" y="96.4" width="21.7" height="21.8" fill="#888888"/><rect x="391.9" y="96.4" width="21.7" height="21.8" fill="#a8a8a8"/><rect x="413.2" y="96.4" width="21.7" height="21.8" fill="#bdbdbd"/><rect x="434.4" y="96.4" width="41.1" height="21.8" fill="#bdbdbd"/><rect x="117.9" y="117.6" width="41.1" height="21.8" fill="#b4b4b4"/><rect x="158.5" y="117.6" width="21.7" height="21.8" fill="#aaaaaa"/><rect x="179.7" y="117.6" width="21.7" height="21.8" fill="#969696"/><rect x="201" y="117.6" width="21.7" height="21.8" fill="#828282"/><rect x="222.2" y="117.6" width="21.7" height="21.8" fill="#969696"/><rect x="243.4" y="117.6" width="21.7" height="21.8" fill="#a5a5a5"/><rect x="264.6" y="117.6" width="21.7" height="21.8" fill="#9b9b9b"/><rect x="285.8" y="117.6" width="21.7" height="21.8" fill="#797979"/><rect x="307.1" y="117.6" width="21.7" height="21.8" fill="#343434"/><rect x="328.3" y="117.6" width="21.7" height="21.8" fill="#1a1a1a"/><rect x="349.5" y="117.6" width="21.7" height="21.8" fill="#343434"/><rect x="370.7" y="117.6" width="21.7" height="21.8" fill="#747474"/><rect x="391.9" y="117.6" width="21.7" height="21.8" fill="#9e9e9e"/><rect x="413.2" y="117.6" width="21.7" height="21.8" fill="#a8a8a8"/><rect x="434.4" y="117.6" width="41.1" height="21.8" fill="#9e9e9e"/><rect x="117.9" y="138.9" width="41.1" height="21.8" fill="#b4b4b4"/><rect x="158.5" y="138.9" width="21.7" height="21.8" fill="#aaaaaa"/><rect x="179.7" y="138.9" width="21.7" height="21.8" fill="#a0a0a0"/><rect x="201" y="138.9" width="21.7" height="21.8" fill="#919191"/><rect x="222.2" y="138.9" width="21.7" height="21.8" fill="#969696"/><rect x="243.4" y="138.9" width="21.7" height="21.8" fill="#a0a0a0"/><rect x="264.6" y="138.9" width="21.7" height="21.8" fill="#9e9e9e"/><rect x="285.8" y="138.9" width="21.7" height="21.8" fill="#888888"/><rect x="307.1" y="138.9" width="21.7" height="21.8" fill="#595959"/><rect x="328.3" y="138.9" width="21.7" height="21.8" fill="#444444"/><rect x="349.5" y="138.9" width="21.7" height="21.8" fill="#5e5e5e"/><rect x="370.7" y="138.9" width="21.7" height="21.8" fill="#7e7e7e"/><rect x="391.9" y="138.9" width="21.7" height="21.8" fill="#888888"/><rect x="413.2" y="138.9" width="21.7" height="21.8" fill="#888888"/><rect x="434.4" y="138.9" width="41.1" height="21.8" fill="#747474"/><rect x="117.9" y="160.2" width="41.1" height="21.8" fill="#b4b4b4"/><rect x="158.5" y="160.2" width="21.7" height="21.8" fill="#afafaf"/><rect x="179.7" y="160.2" width="21.7" height="21.8" fill="#a5a5a5"/><rect x="201" y="160.2" width="21.7" height="21.8" fill="#969696"/><rect x="222.2" y="160.2" width="21.7" height="21.8" fill="#919191"/><rect x="243.4" y="160.2" width="21.7" height="21.8" fill="#9b9b9b"/><rect x="264.6" y="160.2" width="21.7" height="21.8" fill="#9b9b9b"/><rect x="285.8" y="160.2" width="21.7" height="21.8" fill="#9b9b9b"/><rect x="307.1" y="160.2" width="21.7" height="21.8" fill="#939393"/><rect x="328.3" y="160.2" width="21.7" height="21.8" fill="#838383"/><rect x="349.5" y="160.2" width="21.7" height="21.8" fill="#7e7e7e"/><rect x="370.7" y="160.2" width="21.7" height="21.8" fill="#747474"/><rect x="391.9" y="160.2" width="21.7" height="21.8" fill="#696969"/><rect x="413.2" y="160.2" width="21.7" height="21.8" fill="#5e5e5e"/><rect x="434.4" y="160.2" width="41.1" height="21.8" fill="#5e5e5e"/><rect x="117.9" y="181.4" width="41.1" height="21.8" fill="#b4b4b4"/><rect x="158.5" y="181.4" width="21.7" height="21.8" fill="#afafaf"/><rect x="179.7" y="181.4" width="21.7" height="21.8" fill="#aaaaaa"/><rect x="201" y="181.4" width="21.7" height="21.8" fill="#9b9b9b"/><rect x="222.2" y="181.4" width="21.7" height="21.8" fill="#8c8c8c"/><rect x="243.4" y="181.4" width="21.7" height="21.8" fill="#8c8c8c"/><rect x="264.6" y="181.4" width="21.7" height="21.8" fill="#939393"/><rect x="285.8" y="181.4" width="21.7" height="21.8" fill="#a0a0a0"/><rect x="307.1" y="181.4" width="21.7" height="21.8" fill="#a0a0a0"/><rect x="328.3" y="181.4" width="21.7" height="21.8" fill="#959595"/><rect x="349.5" y="181.4" width="21.7" height="21.8" fill="#7e7e7e"/><rect x="370.7" y="181.4" width="21.7" height="21.8" fill="#5e5e5e"/><rect x="391.9" y="181.4" width="21.7" height="21.8" fill="#545454"/><rect x="413.2" y="181.4" width="21.7" height="21.8" fill="#545454"/><rect x="434.4" y="181.4" width="41.1" height="21.8" fill="#696969"/><rect x="117.9" y="202.7" width="41.1" height="21.8" fill="#b4b4b4"/><rect x="158.5" y="202.7" width="21.7" height="21.8" fill="#afafaf"/><rect x="179.7" y="202.7" width="21.7" height="21.8" fill="#aaaaaa"/><rect x="201" y="202.7" width="21.7" height="21.8" fill="#a0a0a0"/><rect x="222.2" y="202.7" width="21.7" height="21.8" fill="#878787"/><rect x="243.4" y="202.7" width="21.7" height="21.8" fill="#7d7d7d"/><rect x="264.6" y="202.7" width="21.7" height="21.8" fill="#8e8e8e"/><rect x="285.8" y="202.7" width="21.7" height="21.8" fill="#9b9b9b"/><rect x="307.1" y="202.7" width="21.7" height="21.8" fill="#a0a0a0"/><rect x="328.3" y="202.7" width="21.7" height="21.8" fill="#959595"/><rect x="349.5" y="202.7" width="21.7" height="21.8" fill="#747474"/><rect x="370.7" y="202.7" width="21.7" height="21.8" fill="#545454"/><rect x="391.9" y="202.7" width="21.7" height="21.8" fill="#4a4a4a"/><rect x="413.2" y="202.7" width="21.7" height="21.8" fill="#5e5e5e"/><rect x="434.4" y="202.7" width="41.1" height="21.8" fill="#7e7e7e"/><rect x="117.9" y="223.9" width="41.1" height="21.8" fill="#b2b2b2"/><rect x="158.5" y="223.9" width="21.7" height="21.8" fill="#adadad"/><rect x="179.7" y="223.9" width="21.7" height="21.8" fill="#a8a8a8"/><rect x="201" y="223.9" width="21.7" height="21.8" fill="#9e9e9e"/><rect x="222.2" y="223.9" width="21.7" height="21.8" fill="#888888"/><rect x="243.4" y="223.9" width="21.7" height="21.8" fill="#747474"/><rect x="264.6" y="223.9" width="21.7" height="21.8" fill="#7e7e7e"/><rect x="285.8" y="223.9" width="21.7" height="21.8" fill="#939393"/><rect x="307.1" y="223.9" width="21.7" height="21.8" fill="#989898"/><rect x="328.3" y="223.9" width="21.7" height="21.8" fill="#8e8e8e"/><rect x="349.5" y="223.9" width="21.7" height="21.8" fill="#696969"/><rect x="370.7" y="223.9" width="21.7" height="21.8" fill="#545454"/><rect x="391.9" y="223.9" width="21.7" height="21.8" fill="#4a4a4a"/><rect x="413.2" y="223.9" width="21.7" height="21.8" fill="#696969"/><rect x="434.4" y="223.9" width="41.1" height="21.8" fill="#888888"/><rect x="117.9" y="245.2" width="41.1" height="21.8" fill="#b2b2b2"/><rect x="158.5" y="245.2" width="21.7" height="21.8" fill="#adadad"/><rect x="179.7" y="245.2" width="21.7" height="21.8" fill="#a8a8a8"/><rect x="201" y="245.2" width="21.7" height="21.8" fill="#9e9e9e"/><rect x="222.2" y="245.2" width="21.7" height="21.8" fill="#939393"/><rect x="243.4" y="245.2" width="21.7" height="21.8" fill="#797979"/><rect x="264.6" y="245.2" width="21.7" height="21.8" fill="#747474"/><rect x="285.8" y="245.2" width="21.7" height="21.8" fill="#838383"/><rect x="307.1" y="245.2" width="21.7" height="21.8" fill="#8e8e8e"/><rect x="328.3" y="245.2" width="21.7" height="21.8" fill="#838383"/><rect x="349.5" y="245.2" width="21.7" height="21.8" fill="#696969"/><rect x="370.7" y="245.2" width="21.7" height="21.8" fill="#545454"/><rect x="391.9" y="245.2" width="21.7" height="21.8" fill="#545454"/><rect x="413.2" y="245.2" width="21.7" height="21.8" fill="#747474"/><rect x="434.4" y="245.2" width="41.1" height="21.8" fill="#939393"/><rect x="117.9" y="266.5" width="41.1" height="21.8" fill="#b8b8b8"/><rect x="158.5" y="266.5" width="21.7" height="21.8" fill="#b8b8b8"/><rect x="179.7" y="266.5" width="21.7" height="21.8" fill="#b2b2b2"/><rect x="201" y="266.5" width="21.7" height="21.8" fill="#a8a8a8"/><rect x="222.2" y="266.5" width="21.7" height="21.8" fill="#9e9e9e"/><rect x="243.4" y="266.5" width="21.7" height="21.8" fill="#888888"/><rect x="264.6" y="266.5" width="21.7" height="21.8" fill="#747474"/><rect x="285.8" y="266.5" width="21.7" height="21.8" fill="#747474"/><rect x="307.1" y="266.5" width="21.7" height="21.8" fill="#7e7e7e"/><rect x="328.3" y="266.5" width="21.7" height="21.8" fill="#797979"/><rect x="349.5" y="266.5" width="21.7" height="21.8" fill="#696969"/><rect x="370.7" y="266.5" width="21.7" height="21.8" fill="#5e5e5e"/><rect x="391.9" y="266.5" width="21.7" height="21.8" fill="#696969"/><rect x="413.2" y="266.5" width="21.7" height="21.8" fill="#7e7e7e"/><rect x="434.4" y="266.5" width="41.1" height="21.8" fill="#9e9e9e"/><rect x="117.9" y="287.7" width="41.1" height="21.8" fill="#bdbdbd"/><rect x="158.5" y="287.7" width="21.7" height="21.8" fill="#bdbdbd"/><rect x="179.7" y="287.7" width="21.7" height="21.8" fill="#bdbdbd"/><rect x="201" y="287.7" width="21.7" height="21.8" fill="#b2b2b2"/><rect x="222.2" y="287.7" width="21.7" height="21.8" fill="#9e9e9e"/><rect x="243.4" y="287.7" width="21.7" height="21.8" fill="#7e7e7e"/><rect x="264.6" y="287.7" width="21.7" height="21.8" fill="#696969"/><rect x="285.8" y="287.7" width="21.7" height="21.8" fill="#747474"/><rect x="307.1" y="287.7" width="21.7" height="21.8" fill="#7e7e7e"/><rect x="328.3" y="287.7" width="21.7" height="21.8" fill="#7e7e7e"/><rect x="349.5" y="287.7" width="21.7" height="21.8" fill="#747474"/><rect x="370.7" y="287.7" width="21.7" height="21.8" fill="#696969"/><rect x="391.9" y="287.7" width="21.7" height="21.8" fill="#747474"/><rect x="413.2" y="287.7" width="21.7" height="21.8" fill="#888888"/><rect x="434.4" y="287.7" width="41.1" height="21.8" fill="#9e9e9e"/><rect x="117.9" y="309" width="41.1" height="21.8" fill="#c2c2c2"/><rect x="158.5" y="309" width="21.7" height="21.8" fill="#c8c8c8"/><rect x="179.7" y="309" width="21.7" height="21.8" fill="#c2c2c2"/><rect x="201" y="309" width="21.7" height="21.8" fill="#b8b8b8"/><rect x="222.2" y="309" width="21.7" height="21.8" fill="#9e9e9e"/><rect x="243.4" y="309" width="21.7" height="21.8" fill="#747474"/><rect x="264.6" y="309" width="21.7" height="21.8" fill="#696969"/><rect x="285.8" y="309" width="21.7" height="21.8" fill="#747474"/><rect x="307.1" y="309" width="21.7" height="21.8" fill="#7e7e7e"/><rect x="328.3" y="309" width="21.7" height="21.8" fill="#7e7e7e"/><rect x="349.5" y="309" width="21.7" height="21.8" fill="#747474"/><rect x="370.7" y="309" width="21.7" height="21.8" fill="#747474"/><rect x="391.9" y="309" width="21.7" height="21.8" fill="#7e7e7e"/><rect x="413.2" y="309" width="21.7" height="21.8" fill="#888888"/><rect x="434.4" y="309" width="41.1" height="21.8" fill="#939393"/><rect x="117.9" y="330.2" width="41.1" height="21.8" fill="#c8c8c8"/><rect x="158.5" y="330.2" width="21.7" height="21.8" fill="#cdcdcd"/><rect x="179.7" y="330.2" width="21.7" height="21.8" fill="#c8c8c8"/><rect x="201" y="330.2" width="21.7" height="21.8" fill="#b2b2b2"/><rect x="222.2" y="330.2" width="21.7" height="21.8" fill="#939393"/><rect x="243.4" y="330.2" width="21.7" height="21.8" fill="#747474"/><rect x="264.6" y="330.2" width="21.7" height="21.8" fill="#696969"/><rect x="285.8" y="330.2" width="21.7" height="21.8" fill="#797979"/><rect x="307.1" y="330.2" width="21.7" height="21.8" fill="#838383"/><rect x="328.3" y="330.2" width="21.7" height="21.8" fill="#838383"/><rect x="349.5" y="330.2" width="21.7" height="21.8" fill="#797979"/><rect x="370.7" y="330.2" width="21.7" height="21.8" fill="#747474"/><rect x="391.9" y="330.2" width="21.7" height="21.8" fill="#7e7e7e"/><rect x="413.2" y="330.2" width="21.7" height="21.8" fill="#7e7e7e"/><rect x="434.4" y="330.2" width="41.1" height="21.8" fill="#747474"/><rect x="117.9" y="351.5" width="41.1" height="21.8" fill="#c8c8c8"/><rect x="158.5" y="351.5" width="21.7" height="21.8" fill="#cdcdcd"/><rect x="179.7" y="351.5" width="21.7" height="21.8" fill="#c2c2c2"/><rect x="201" y="351.5" width="21.7" height="21.8" fill="#a8a8a8"/><rect x="222.2" y="351.5" width="21.7" height="21.8" fill="#888888"/><rect x="243.4" y="351.5" width="21.7" height="21.8" fill="#747474"/><rect x="264.6" y="351.5" width="21.7" height="21.8" fill="#696969"/><rect x="285.8" y="351.5" width="21.7" height="21.8" fill="#7e7e7e"/><rect x="307.1" y="351.5" width="21.7" height="21.8" fill="#888888"/><rect x="328.3" y="351.5" width="21.7" height="21.8" fill="#888888"/><rect x="349.5" y="351.5" width="21.7" height="21.8" fill="#7e7e7e"/><rect x="370.7" y="351.5" width="21.7" height="21.8" fill="#747474"/><rect x="391.9" y="351.5" width="21.7" height="21.8" fill="#747474"/><rect x="413.2" y="351.5" width="21.7" height="21.8" fill="#696969"/><rect x="434.4" y="351.5" width="41.1" height="21.8" fill="#545454"/><rect x="117.9" y="372.8" width="41.1" height="21.8" fill="#c8c8c8"/><rect x="158.5" y="372.8" width="21.7" height="21.8" fill="#c8c8c8"/><rect x="179.7" y="372.8" width="21.7" height="21.8" fill="#b2b2b2"/><rect x="201" y="372.8" width="21.7" height="21.8" fill="#939393"/><rect x="222.2" y="372.8" width="21.7" height="21.8" fill="#7e7e7e"/><rect x="243.4" y="372.8" width="21.7" height="21.8" fill="#747474"/><rect x="264.6" y="372.8" width="21.7" height="21.8" fill="#747474"/><rect x="285.8" y="372.8" width="21.7" height="21.8" fill="#7e7e7e"/><rect x="307.1" y="372.8" width="21.7" height="21.8" fill="#888888"/><rect x="328.3" y="372.8" width="21.7" height="21.8" fill="#747474"/><rect x="349.5" y="372.8" width="21.7" height="21.8" fill="#747474"/><rect x="370.7" y="372.8" width="21.7" height="21.8" fill="#797979"/><rect x="391.9" y="372.8" width="21.7" height="21.8" fill="#7e7e7e"/><rect x="413.2" y="372.8" width="21.7" height="21.8" fill="#747474"/><rect x="434.4" y="372.8" width="41.1" height="21.8" fill="#5e5e5e"/><rect x="117.9" y="394" width="41.1" height="21.8" fill="#bdbdbd"/><rect x="158.5" y="394" width="21.7" height="21.8" fill="#b2b2b2"/><rect x="179.7" y="394" width="21.7" height="21.8" fill="#9e9e9e"/><rect x="201" y="394" width="21.7" height="21.8" fill="#7e7e7e"/><rect x="222.2" y="394" width="21.7" height="21.8" fill="#747474"/><rect x="243.4" y="394" width="21.7" height="21.8" fill="#7e7e7e"/><rect x="264.6" y="394" width="21.7" height="21.8" fill="#7e7e7e"/><rect x="285.8" y="394" width="21.7" height="21.8" fill="#747474"/><rect x="307.1" y="394" width="21.7" height="21.8" fill="#545454"/><rect x="328.3" y="394" width="21.7" height="21.8" fill="#343434"/><rect x="349.5" y="394" width="21.7" height="21.8" fill="#545454"/><rect x="370.7" y="394" width="21.7" height="21.8" fill="#7e7e7e"/><rect x="391.9" y="394" width="21.7" height="21.8" fill="#888888"/><rect x="413.2" y="394" width="21.7" height="21.8" fill="#888888"/><rect x="434.4" y="394" width="41.1" height="21.8" fill="#888888"/><rect x="117.9" y="415.3" width="41.1" height="21.8" fill="#b2b2b2"/><rect x="158.5" y="415.3" width="21.7" height="21.8" fill="#9e9e9e"/><rect x="179.7" y="415.3" width="21.7" height="21.8" fill="#7e7e7e"/><rect x="201" y="415.3" width="21.7" height="21.8" fill="#5e5e5e"/><rect x="222.2" y="415.3" width="21.7" height="21.8" fill="#696969"/><rect x="243.4" y="415.3" width="21.7" height="21.8" fill="#7e7e7e"/><rect x="264.6" y="415.3" width="21.7" height="21.8" fill="#747474"/><rect x="285.8" y="415.3" width="21.7" height="21.8" fill="#444444"/><rect x="307.1" y="415.3" width="21.7" height="21.8" fill="#1a1a1a"/><rect x="328.3" y="415.3" width="21.7" height="21.8" fill="#151515"/><rect x="349.5" y="415.3" width="21.7" height="21.8" fill="#343434"/><rect x="370.7" y="415.3" width="21.7" height="21.8" fill="#7e7e7e"/><rect x="391.9" y="415.3" width="21.7" height="21.8" fill="#939393"/><rect x="413.2" y="415.3" width="21.7" height="21.8" fill="#9e9e9e"/><rect x="434.4" y="415.3" width="41.1" height="21.8" fill="#a8a8a8"/><rect x="117.9" y="436.5" width="41.1" height="21.8" fill="#9e9e9e"/><rect x="158.5" y="436.5" width="21.7" height="21.8" fill="#747474"/><rect x="179.7" y="436.5" width="21.7" height="21.8" fill="#545454"/><rect x="201" y="436.5" width="21.7" height="21.8" fill="#3f3f3f"/><rect x="222.2" y="436.5" width="21.7" height="21.8" fill="#5e5e5e"/><rect x="243.4" y="436.5" width="21.7" height="21.8" fill="#7e7e7e"/><rect x="264.6" y="436.5" width="21.7" height="21.8" fill="#7e7e7e"/><rect x="285.8" y="436.5" width="21.7" height="21.8" fill="#4a4a4a"/><rect x="307.1" y="436.5" width="21.7" height="21.8" fill="#1a1a1a"/><rect x="328.3" y="436.5" width="21.7" height="21.8" fill="#202020"/><rect x="349.5" y="436.5" width="21.7" height="21.8" fill="#545454"/><rect x="370.7" y="436.5" width="21.7" height="21.8" fill="#888888"/><rect x="391.9" y="436.5" width="21.7" height="21.8" fill="#a8a8a8"/><rect x="413.2" y="436.5" width="21.7" height="21.8" fill="#b2b2b2"/><rect x="434.4" y="436.5" width="41.1" height="21.8" fill="#bdbdbd"/><rect x="117.9" y="457.8" width="41.1" height="21.8" fill="#888888"/><rect x="158.5" y="457.8" width="21.7" height="21.8" fill="#545454"/><rect x="179.7" y="457.8" width="21.7" height="21.8" fill="#343434"/><rect x="201" y="457.8" width="21.7" height="21.8" fill="#3f3f3f"/><rect x="222.2" y="457.8" width="21.7" height="21.8" fill="#696969"/><rect x="243.4" y="457.8" width="21.7" height="21.8" fill="#888888"/><rect x="264.6" y="457.8" width="21.7" height="21.8" fill="#888888"/><rect x="285.8" y="457.8" width="21.7" height="21.8" fill="#6e6e6e"/><rect x="307.1" y="457.8" width="21.7" height="21.8" fill="#545454"/><rect x="328.3" y="457.8" width="21.7" height="21.8" fill="#5e5e5e"/><rect x="349.5" y="457.8" width="21.7" height="21.8" fill="#747474"/><rect x="370.7" y="457.8" width="21.7" height="21.8" fill="#939393"/><rect x="391.9" y="457.8" width="21.7" height="21.8" fill="#b2b2b2"/><rect x="413.2" y="457.8" width="21.7" height="21.8" fill="#c8c8c8"/><rect x="434.4" y="457.8" width="41.1" height="21.8" fill="#dcdcdc"/><rect x="117.9" y="479.1" width="41.1" height="41.1" fill="#7e7e7e"/><rect x="158.5" y="479.1" width="21.7" height="41.1" fill="#4a4a4a"/><rect x="179.7" y="479.1" width="21.7" height="41.1" fill="#2a2a2a"/><rect x="201" y="479.1" width="21.7" height="41.1" fill="#4a4a4a"/><rect x="222.2" y="479.1" width="21.7" height="41.1" fill="#747474"/><rect x="243.4" y="479.1" width="21.7" height="41.1" fill="#888888"/><rect x="264.6" y="479.1" width="21.7" height="41.1" fill="#888888"/><rect x="285.8" y="479.1" width="21.7" height="41.1" fill="#7e7e7e"/><rect x="307.1" y="479.1" width="21.7" height="41.1" fill="#747474"/><rect x="328.3" y="479.1" width="21.7" height="41.1" fill="#747474"/><rect x="349.5" y="479.1" width="21.7" height="41.1" fill="#7e7e7e"/><rect x="370.7" y="479.1" width="21.7" height="41.1" fill="#9e9e9e"/><rect x="391.9" y="479.1" width="21.7" height="41.1" fill="#bdbdbd"/><rect x="413.2" y="479.1" width="21.7" height="41.1" fill="#d2d2d2"/><rect x="434.4" y="479.1" width="41.1" height="41.1" fill="#e7e7e7"/></g></g>
<g clip-path="url(#c14)"><g filter="url(#b14)"><rect x="590" y="34.5" width="41.1" height="41.1" fill="#a8a8a8"/><rect x="630.6" y="34.5" width="21.8" height="41.1" fill="#9e9e9e"/><rect x="651.9" y="34.5" width="21.8" height="41.1" fill="#939393"/><rect x="673.1" y="34.5" width="21.8" height="41.1" fill="#9e9e9e"/><rect x="694.4" y="34.5" width="21.8" height="41.1" fill="#9e9e9e"/><rect x="715.6" y="34.5" width="21.8" height="41.1" fill="#939393"/><rect x="736.9" y="34.5" width="21.8" height="41.1" fill="#939393"/><rect x="758.1" y="34.5" width="21.8" height="41.1" fill="#9e9e9e"/><rect x="779.4" y="34.5" width="21.8" height="41.1" fill="#a8a8a8"/><rect x="800.6" y="34.5" width="21.8" height="41.1" fill="#a8a8a8"/><rect x="821.9" y="34.5" width="21.8" height="41.1" fill="#b2b2b2"/><rect x="843.1" y="34.5" width="21.8" height="41.1" fill="#b2b2b2"/><rect x="864.4" y="34.5" width="21.8" height="41.1" fill="#b2b2b2"/><rect x="885.6" y="34.5" width="21.8" height="41.1" fill="#b2b2b2"/><rect x="906.9" y="34.5" width="41.1" height="41.1" fill="#9e9e9e"/><rect x="590" y="75.1" width="41.1" height="21.8" fill="#9e9e9e"/><rect x="630.6" y="75.1" width="21.8" height="21.8" fill="#888888"/><rect x="651.9" y="75.1" width="21.8" height="21.8" fill="#7e7e7e"/><rect x="673.1" y="75.1" width="21.8" height="21.8" fill="#888888"/><rect x="694.4" y="75.1" width="21.8" height="21.8" fill="#939393"/><rect x="715.6" y="75.1" width="21.8" height="21.8" fill="#939393"/><rect x="736.9" y="75.1" width="21.8" height="21.8" fill="#939393"/><rect x="758.1" y="75.1" width="21.8" height="21.8" fill="#888888"/><rect x="779.4" y="75.1" width="21.8" height="21.8" fill="#888888"/><rect x="800.6" y="75.1" width="21.8" height="21.8" fill="#939393"/><rect x="821.9" y="75.1" width="21.8" height="21.8" fill="#9e9e9e"/><rect x="843.1" y="75.1" width="21.8" height="21.8" fill="#9e9e9e"/><rect x="864.4" y="75.1" width="21.8" height="21.8" fill="#939393"/><rect x="885.6" y="75.1" width="21.8" height="21.8" fill="#939393"/><rect x="906.9" y="75.1" width="41.1" height="21.8" fill="#888888"/><rect x="590" y="96.4" width="41.1" height="21.8" fill="#a8a8a8"/><rect x="630.6" y="96.4" width="21.8" height="21.8" fill="#939393"/><rect x="651.9" y="96.4" width="21.8" height="21.8" fill="#7e7e7e"/><rect x="673.1" y="96.4" width="21.8" height="21.8" fill="#888888"/><rect x="694.4" y="96.4" width="21.8" height="21.8" fill="#939393"/><rect x="715.6" y="96.4" width="21.8" height="21.8" fill="#939393"/><rect x="736.9" y="96.4" width="21.8" height="21.8" fill="#939393"/><rect x="758.1" y="96.4" width="21.8" height="21.8" fill="#696969"/><rect x="779.4" y="96.4" width="21.8" height="21.8" fill="#545454"/><rect x="800.6" y="96.4" width="21.8" height="21.8" fill="#4a4a4a"/><rect x="821.9" y="96.4" width="21.8" height="21.8" fill="#747474"/><rect x="843.1" y="96.4" width="21.8" height="21.8" fill="#939393"/><rect x="864.4" y="96.4" width="21.8" height="21.8" fill="#888888"/><rect x="885.6" y="96.4" width="21.8" height="21.8" fill="#7e7e7e"/><rect x="906.9" y="96.4" width="41.1" height="21.8" fill="#747474"/><rect x="590" y="117.6" width="41.1" height="21.8" fill="#a8a8a8"/><rect x="630.6" y="117.6" width="21.8" height="21.8" fill="#939393"/><rect x="651.9" y="117.6" width="21.8" height="21.8" fill="#888888"/><rect x="673.1" y="117.6" width="21.8" height="21.8" fill="#939393"/><rect x="694.4" y="117.6" width="21.8" height="21.8" fill="#9e9e9e"/><rect x="715.6" y="117.6" width="21.8" height="21.8" fill="#9e9e9e"/><rect x="736.9" y="117.6" width="21.8" height="21.8" fill="#939393"/><rect x="758.1" y="117.6" width="21.8" height="21.8" fill="#5e5e5e"/><rect x="779.4" y="117.6" width="21.8" height="21.8" fill="#343434"/><rect x="800.6" y="117.6" width="21.8" height="21.8" fill="#2a2a2a"/><rect x="821.9" y="117.6" width="21.8" height="21.8" fill="#696969"/><rect x="843.1" y="117.6" width="21.8" height="21.8" fill="#939393"/><rect x="864.4" y="117.6" width="21.8" height="21.8" fill="#888888"/><rect x="885.6" y="117.6" width="21.8" height="21.8" fill="#747474"/><rect x="906.9" y="117.6" width="41.1" height="21.8" fill="#696969"/><rect x="590" y="138.9" width="41.1" height="21.8" fill="#a8a8a8"/><rect x="630.6" y="138.9" width="21.8" height="21.8" fill="#939393"/><rect x="651.9" y="138.9" width="21.8" height="21.8" fill="#888888"/><rect x="673.1" y="138.9" width="21.8" height="21.8" fill="#888888"/><rect x="694.4" y="138.9" width="21.8" height="21.8" fill="#939393"/><rect x="715.6" y="138.9" width="21.8" height="21.8" fill="#9e9e9e"/><rect x="736.9" y="138.9" width="21.8" height="21.8" fill="#9e9e9e"/><rect x="758.1" y="138.9" width="21.8" height="21.8" fill="#888888"/><rect x="779.4" y="138.9" width="21.8" height="21.8" fill="#696969"/><rect x="800.6" y="138.9" width="21.8" height="21.8" fill="#747474"/><rect x="821.9" y="138.9" width="21.8" height="21.8" fill="#888888"/><rect x="843.1" y="138.9" width="21.8" height="21.8" fill="#888888"/><rect x="864.4" y="138.9" width="21.8" height="21.8" fill="#747474"/><rect x="885.6" y="138.9" width="21.8" height="21.8" fill="#696969"/><rect x="906.9" y="138.9" width="41.1" height="21.8" fill="#5e5e5e"/><rect x="590" y="160.2" width="41.1" height="21.8" fill="#a8a8a8"/><rect x="630.6" y="160.2" width="21.8" height="21.8" fill="#939393"/><rect x="651.9" y="160.2" width="21.8" height="21.8" fill="#7e7e7e"/><rect x="673.1" y="160.2" width="21.8" height="21.8" fill="#747474"/><rect x="694.4" y="160.2" width="21.8" height="21.8" fill="#888888"/><rect x="715.6" y="160.2" width="21.8" height="21.8" fill="#9e9e9e"/><rect x="736.9" y="160.2" width="21.8" height="21.8" fill="#a8a8a8"/><rect x="758.1" y="160.2" width="21.8" height="21.8" fill="#9e9e9e"/><rect x="779.4" y="160.2" width="21.8" height="21.8" fill="#939393"/><rect x="800.6" y="160.2" width="21.8" height="21.8" fill="#939393"/><rect x="821.9" y="160.2" width="21.8" height="21.8" fill="#888888"/><rect x="843.1" y="160.2" width="21.8" height="21.8" fill="#747474"/><rect x="864.4" y="160.2" width="21.8" height="21.8" fill="#5e5e5e"/><rect x="885.6" y="160.2" width="21.8" height="21.8" fill="#545454"/><rect x="906.9" y="160.2" width="41.1" height="21.8" fill="#4a4a4a"/><rect x="590" y="181.4" width="41.1" height="21.8" fill="#a8a8a8"/><rect x="630.6" y="181.4" width="21.8" height="21.8" fill="#939393"/><rect x="651.9" y="181.4" width="21.8" height="21.8" fill="#7e7e7e"/><rect x="673.1" y="181.4" width="21.8" height="21.8" fill="#696969"/><rect x="694.4" y="181.4" width="21.8" height="21.8" fill="#7e7e7e"/><rect x="715.6" y="181.4" width="21.8" height="21.8" fill="#939393"/><rect x="736.9" y="181.4" width="21.8" height="21.8" fill="#9e9e9e"/><rect x="758.1" y="181.4" width="21.8" height="21.8" fill="#9e9e9e"/><rect x="779.4" y="181.4" width="21.8" height="21.8" fill="#939393"/><rect x="800.6" y="181.4" width="21.8" height="21.8" fill="#888888"/><rect x="821.9" y="181.4" width="21.8" height="21.8" fill="#747474"/><rect x="843.1" y="181.4" width="21.8" height="21.8" fill="#5e5e5e"/><rect x="864.4" y="181.4" width="21.8" height="21.8" fill="#545454"/><rect x="885.6" y="181.4" width="21.8" height="21.8" fill="#4a4a4a"/><rect x="906.9" y="181.4" width="41.1" height="21.8" fill="#545454"/><rect x="590" y="202.7" width="41.1" height="21.8" fill="#a8a8a8"/><rect x="630.6" y="202.7" width="21.8" height="21.8" fill="#9e9e9e"/><rect x="651.9" y="202.7" width="21.8" height="21.8" fill="#888888"/><rect x="673.1" y="202.7" width="21.8" height="21.8" fill="#747474"/><rect x="694.4" y="202.7" width="21.8" height="21.8" fill="#747474"/><rect x="715.6" y="202.7" width="21.8" height="21.8" fill="#7e7e7e"/><rect x="736.9" y="202.7" width="21.8" height="21.8" fill="#888888"/><rect x="758.1" y="202.7" width="21.8" height="21.8" fill="#939393"/><rect x="779.4" y="202.7" width="21.8" height="21.8" fill="#939393"/><rect x="800.6" y="202.7" width="21.8" height="21.8" fill="#888888"/><rect x="821.9" y="202.7" width="21.8" height="21.8" fill="#747474"/><rect x="843.1" y="202.7" width="21.8" height="21.8" fill="#5e5e5e"/><rect x="864.4" y="202.7" width="21.8" height="21.8" fill="#545454"/><rect x="885.6" y="202.7" width="21.8" height="21.8" fill="#545454"/><rect x="906.9" y="202.7" width="41.1" height="21.8" fill="#5e5e5e"/><rect x="590" y="223.9" width="41.1" height="21.8" fill="#a8a8a8"/><rect x="630.6" y="223.9" width="21.8" height="21.8" fill="#9e9e9e"/><rect x="651.9" y="223.9" width="21.8" height="21.8" fill="#939393"/><rect x="673.1" y="223.9" width="21.8" height="21.8" fill="#888888"/><rect x="694.4" y="223.9" width="21.8" height="21.8" fill="#7e7e7e"/><rect x="715.6" y="223.9" width="21.8" height="21.8" fill="#696969"/><rect x="736.9" y="223.9" width="21.8" height="21.8" fill="#747474"/><rect x="758.1" y="223.9" width="21.8" height="21.8" fill="#888888"/><rect x="779.4" y="223.9" width="21.8" height="21.8" fill="#939393"/><rect x="800.6" y="223.9" width="21.8" height="21.8" fill="#888888"/><rect x="821.9" y="223.9" width="21.8" height="21.8" fill="#7e7e7e"/><rect x="843.1" y="223.9" width="21.8" height="21.8" fill="#696969"/><rect x="864.4" y="223.9" width="21.8" height="21.8" fill="#545454"/><rect x="885.6" y="223.9" width="21.8" height="21.8" fill="#5e5e5e"/><rect x="906.9" y="223.9" width="41.1" height="21.8" fill="#696969"/><rect x="590" y="245.2" width="41.1" height="21.8" fill="#adadad"/><rect x="630.6" y="245.2" width="21.8" height="21.8" fill="#a3a3a3"/><rect x="651.9" y="245.2" width="21.8" height="21.8" fill="#9e9e9e"/><rect x="673.1" y="245.2" width="21.8" height="21.8" fill="#939393"/><rect x="694.4" y="245.2" width="21.8" height="21.8" fill="#888888"/><rect x="715.6" y="245.2" width="21.8" height="21.8" fill="#747474"/><rect x="736.9" y="245.2" width="21.8" height="21.8" fill="#747474"/><rect x="758.1" y="245.2" width="21.8" height="21.8" fill="#7e7e7e"/><rect x="779.4" y="245.2" width="21.8" height="21.8" fill="#888888"/><rect x="800.6" y="245.2" width="21.8" height="21.8" fill="#888888"/><rect x="821.9" y="245.2" width="21.8" height="21.8" fill="#7e7e7e"/><rect x="843.1" y="245.2" width="21.8" height="21.8" fill="#747474"/><rect x="864.4" y="245.2" width="21.8" height="21.8" fill="#5e5e5e"/><rect x="885.6" y="245.2" width="21.8" height="21.8" fill="#5e5e5e"/><rect x="906.9" y="245.2" width="41.1" height="21.8" fill="#696969"/><rect x="590" y="266.5" width="41.1" height="21.8" fill="#b2b2b2"/><rect x="630.6" y="266.5" width="21.8" height="21.8" fill="#adadad"/><rect x="651.9" y="266.5" width="21.8" height="21.8" fill="#a8a8a8"/><rect x="673.1" y="266.5" width="21.8" height="21.8" fill="#9e9e9e"/><rect x="694.4" y="266.5" width="21.8" height="21.8" fill="#939393"/><rect x="715.6" y="266.5" width="21.8" height="21.8" fill="#888888"/><rect x="736.9" y="266.5" width="21.8" height="21.8" fill="#7e7e7e"/><rect x="758.1" y="266.5" width="21.8" height="21.8" fill="#7e7e7e"/><rect x="779.4" y="266.5" width="21.8" height="21.8" fill="#888888"/><rect x="800.6" y="266.5" width="21.8" height="21.8" fill="#888888"/><rect x="821.9" y="266.5" width="21.8" height="21.8" fill="#7e7e7e"/><rect x="843.1" y="266.5" width="21.8" height="21.8" fill="#747474"/><rect x="864.4" y="266.5" width="21.8" height="21.8" fill="#696969"/><rect x="885.6" y="266.5" width="21.8" height="21.8" fill="#696969"/><rect x="906.9" y="266.5" width="41.1" height="21.8" fill="#747474"/><rect x="590" y="287.7" width="41.1" height="21.8" fill="#b8b8b8"/><rect x="630.6" y="287.7" width="21.8" height="21.8" fill="#b8b8b8"/><rect x="651.9" y="287.7" width="21.8" height="21.8" fill="#b2b2b2"/><rect x="673.1" y="287.7" width="21.8" height="21.8" fill="#a8a8a8"/><rect x="694.4" y="287.7" width="21.8" height="21.8" fill="#9e9e9e"/><rect x="715.6" y="287.7" width="21.8" height="21.8" fill="#939393"/><rect x="736.9" y="287.7" width="21.8" height="21.8" fill="#888888"/><rect x="758.1" y="287.7" width="21.8" height="21.8" fill="#7e7e7e"/><rect x="779.4" y="287.7" width="21.8" height="21.8" fill="#888888"/><rect x="800.6" y="287.7" width="21.8" height="21.8" fill="#939393"/><rect x="821.9" y="287.7" width="21.8" height="21.8" fill="#888888"/><rect x="843.1" y="287.7" width="21.8" height="21.8" fill="#747474"/><rect x="864.4" y="287.7" width="21.8" height="21.8" fill="#5e5e5e"/><rect x="885.6" y="287.7" width="21.8" height="21.8" fill="#5e5e5e"/><rect x="906.9" y="287.7" width="41.1" height="21.8" fill="#747474"/><rect x="590" y="309" width="41.1" height="21.8" fill="#bdbdbd"/><rect x="630.6" y="309" width="21.8" height="21.8" fill="#c2c2c2"/><rect x="651.9" y="309" width="21.8" height="21.8" fill="#bdbdbd"/><rect x="673.1" y="309" width="21.8" height="21.8" fill="#b2b2b2"/><rect x="694.4" y="309" width="21.8" height="21.8" fill="#a8a8a8"/><rect x="715.6" y="309" width="21.8" height="21.8" fill="#9e9e9e"/><rect x="736.9" y="309" width="21.8" height="21.8" fill="#939393"/><rect x="758.1" y="309" width="21.8" height="21.8" fill="#888888"/><rect x="779.4" y="309" width="21.8" height="21.8" fill="#939393"/><rect x="800.6" y="309" width="21.8" height="21.8" fill="#9e9e9e"/><rect x="821.9" y="309" width="21.8" height="21.8" fill="#939393"/><rect x="843.1" y="309" width="21.8" height="21.8" fill="#7e7e7e"/><rect x="864.4" y="309" width="21.8" height="21.8" fill="#5e5e5e"/><rect x="885.6" y="309" width="21.8" height="21.8" fill="#4a4a4a"/><rect x="906.9" y="309" width="41.1" height="21.8" fill="#5e5e5e"/><rect x="590" y="330.2" width="41.1" height="21.8" fill="#b8b8b8"/><rect x="630.6" y="330.2" width="21.8" height="21.8" fill="#c2c2c2"/><rect x="651.9" y="330.2" width="21.8" height="21.8" fill="#c2c2c2"/><rect x="673.1" y="330.2" width="21.8" height="21.8" fill="#b8b8b8"/><rect x="694.4" y="330.2" width="21.8" height="21.8" fill="#adadad"/><rect x="715.6" y="330.2" width="21.8" height="21.8" fill="#a3a3a3"/><rect x="736.9" y="330.2" width="21.8" height="21.8" fill="#9e9e9e"/><rect x="758.1" y="330.2" width="21.8" height="21.8" fill="#939393"/><rect x="779.4" y="330.2" width="21.8" height="21.8" fill="#939393"/><rect x="800.6" y="330.2" width="21.8" height="21.8" fill="#9e9e9e"/><rect x="821.9" y="330.2" width="21.8" height="21.8" fill="#9e9e9e"/><rect x="843.1" y="330.2" width="21.8" height="21.8" fill="#888888"/><rect x="864.4" y="330.2" width="21.8" height="21.8" fill="#696969"/><rect x="885.6" y="330.2" width="21.8" height="21.8" fill="#343434"/><rect x="906.9" y="330.2" width="41.1" height="21.8" fill="#3f3f3f"/><rect x="590" y="351.5" width="41.1" height="21.8" fill="#b2b2b2"/><rect x="630.6" y="351.5" width="21.8" height="21.8" fill="#bdbdbd"/><rect x="651.9" y="351.5" width="21.8" height="21.8" fill="#c2c2c2"/><rect x="673.1" y="351.5" width="21.8" height="21.8" fill="#bdbdbd"/><rect x="694.4" y="351.5" width="21.8" height="21.8" fill="#b2b2b2"/><rect x="715.6" y="351.5" width="21.8" height="21.8" fill="#a8a8a8"/><rect x="736.9" y="351.5" width="21.8" height="21.8" fill="#9e9e9e"/><rect x="758.1" y="351.5" width="21.8" height="21.8" fill="#939393"/><rect x="779.4" y="351.5" width="21.8" height="21.8" fill="#939393"/><rect x="800.6" y="351.5" width="21.8" height="21.8" fill="#9e9e9e"/><rect x="821.9" y="351.5" width="21.8" height="21.8" fill="#9e9e9e"/><rect x="843.1" y="351.5" width="21.8" height="21.8" fill="#939393"/><rect x="864.4" y="351.5" width="21.8" height="21.8" fill="#7e7e7e"/><rect x="885.6" y="351.5" width="21.8" height="21.8" fill="#4a4a4a"/><rect x="906.9" y="351.5" width="41.1" height="21.8" fill="#151515"/><rect x="590" y="372.8" width="41.1" height="21.8" fill="#adadad"/><rect x="630.6" y="372.8" width="21.8" height="21.8" fill="#b8b8b8"/><rect x="651.9" y="372.8" width="21.8" height="21.8" fill="#bdbdbd"/><rect x="673.1" y="372.8" width="21.8" height="21.8" fill="#b8b8b8"/><rect x="694.4" y="372.8" width="21.8" height="21.8" fill="#b2b2b2"/><rect x="715.6" y="372.8" width="21.8" height="21.8" fill="#a8a8a8"/><rect x="736.9" y="372.8" width="21.8" height="21.8" fill="#9e9e9e"/><rect x="758.1" y="372.8" width="21.8" height="21.8" fill="#888888"/><rect x="779.4" y="372.8" width="21.8" height="21.8" fill="#7e7e7e"/><rect x="800.6" y="372.8" width="21.8" height="21.8" fill="#939393"/><rect x="821.9" y="372.8" width="21.8" height="21.8" fill="#9e9e9e"/><rect x="843.1" y="372.8" width="21.8" height="21.8" fill="#939393"/><rect x="864.4" y="372.8" width="21.8" height="21.8" fill="#7e7e7e"/><rect x="885.6" y="372.8" width="21.8" height="21.8" fill="#5e5e5e"/><rect x="906.9" y="372.8" width="41.1" height="21.8" fill="#4a4a4a"/><rect x="590" y="394" width="41.1" height="21.8" fill="#a8a8a8"/><rect x="630.6" y="394" width="21.8" height="21.8" fill="#b2b2b2"/><rect x="651.9" y="394" width="21.8" height="21.8" fill="#b2b2b2"/><rect x="673.1" y="394" width="21.8" height="21.8" fill="#adadad"/><rect x="694.4" y="394" width="21.8" height="21.8" fill="#a8a8a8"/><rect x="715.6" y="394" width="21.8" height="21.8" fill="#a3a3a3"/><rect x="736.9" y="394" width="21.8" height="21.8" fill="#939393"/><rect x="758.1" y="394" width="21.8" height="21.8" fill="#747474"/><rect x="779.4" y="394" width="21.8" height="21.8" fill="#4a4a4a"/><rect x="800.6" y="394" width="21.8" height="21.8" fill="#545454"/><rect x="821.9" y="394" width="21.8" height="21.8" fill="#888888"/><rect x="843.1" y="394" width="21.8" height="21.8" fill="#939393"/><rect x="864.4" y="394" width="21.8" height="21.8" fill="#888888"/><rect x="885.6" y="394" width="21.8" height="21.8" fill="#7e7e7e"/><rect x="906.9" y="394" width="41.1" height="21.8" fill="#747474"/><rect x="590" y="415.3" width="41.1" height="21.8" fill="#9e9e9e"/><rect x="630.6" y="415.3" width="21.8" height="21.8" fill="#a8a8a8"/><rect x="651.9" y="415.3" width="21.8" height="21.8" fill="#a8a8a8"/><rect x="673.1" y="415.3" width="21.8" height="21.8" fill="#a3a3a3"/><rect x="694.4" y="415.3" width="21.8" height="21.8" fill="#9e9e9e"/><rect x="715.6" y="415.3" width="21.8" height="21.8" fill="#989898"/><rect x="736.9" y="415.3" width="21.8" height="21.8" fill="#888888"/><rect x="758.1" y="415.3" width="21.8" height="21.8" fill="#545454"/><rect x="779.4" y="415.3" width="21.8" height="21.8" fill="#151515"/><rect x="800.6" y="415.3" width="21.8" height="21.8" fill="#0a0a0a"/><rect x="821.9" y="415.3" width="21.8" height="21.8" fill="#696969"/><rect x="843.1" y="415.3" width="21.8" height="21.8" fill="#939393"/><rect x="864.4" y="415.3" width="21.8" height="21.8" fill="#888888"/><rect x="885.6" y="415.3" width="21.8" height="21.8" fill="#888888"/><rect x="906.9" y="415.3" width="41.1" height="21.8" fill="#7e7e7e"/><rect x="590" y="436.5" width="41.1" height="21.8" fill="#888888"/><rect x="630.6" y="436.5" width="21.8" height="21.8" fill="#939393"/><rect x="651.9" y="436.5" width="21.8" height="21.8" fill="#939393"/><rect x="673.1" y="436.5" width="21.8" height="21.8" fill="#939393"/><rect x="694.4" y="436.5" width="21.8" height="21.8" fill="#939393"/><rect x="715.6" y="436.5" width="21.8" height="21.8" fill="#939393"/><rect x="736.9" y="436.5" width="21.8" height="21.8" fill="#7e7e7e"/><rect x="758.1" y="436.5" width="21.8" height="21.8" fill="#545454"/><rect x="779.4" y="436.5" width="21.8" height="21.8" fill="#2a2a2a"/><rect x="800.6" y="436.5" width="21.8" height="21.8" fill="#2a2a2a"/><rect x="821.9" y="436.5" width="21.8" height="21.8" fill="#747474"/><rect x="843.1" y="436.5" width="21.8" height="21.8" fill="#939393"/><rect x="864.4" y="436.5" width="21.8" height="21.8" fill="#939393"/><rect x="885.6" y="436.5" width="21.8" height="21.8" fill="#939393"/><rect x="906.9" y="436.5" width="41.1" height="21.8" fill="#888888"/><rect x="590" y="457.8" width="41.1" height="21.8" fill="#747474"/><rect x="630.6" y="457.8" width="21.8" height="21.8" fill="#747474"/><rect x="651.9" y="457.8" width="21.8" height="21.8" fill="#7e7e7e"/><rect x="673.1" y="457.8" width="21.8" height="21.8" fill="#7e7e7e"/><rect x="694.4" y="457.8" width="21.8" height="21.8" fill="#888888"/><rect x="715.6" y="457.8" width="21.8" height="21.8" fill="#888888"/><rect x="736.9" y="457.8" width="21.8" height="21.8" fill="#7e7e7e"/><rect x="758.1" y="457.8" width="21.8" height="21.8" fill="#747474"/><rect x="779.4" y="457.8" width="21.8" height="21.8" fill="#747474"/><rect x="800.6" y="457.8" width="21.8" height="21.8" fill="#747474"/><rect x="821.9" y="457.8" width="21.8" height="21.8" fill="#888888"/><rect x="843.1" y="457.8" width="21.8" height="21.8" fill="#939393"/><rect x="864.4" y="457.8" width="21.8" height="21.8" fill="#939393"/><rect x="885.6" y="457.8" width="21.8" height="21.8" fill="#939393"/><rect x="906.9" y="457.8" width="41.1" height="21.8" fill="#888888"/><rect x="590" y="479.1" width="41.1" height="41.1" fill="#5e5e5e"/><rect x="630.6" y="479.1" width="21.8" height="41.1" fill="#5e5e5e"/><rect x="651.9" y="479.1" width="21.8" height="41.1" fill="#696969"/><rect x="673.1" y="479.1" width="21.8" height="41.1" fill="#747474"/><rect x="694.4" y="479.1" width="21.8" height="41.1" fill="#7e7e7e"/><rect x="715.6" y="479.1" width="21.8" height="41.1" fill="#888888"/><rect x="736.9" y="479.1" width="21.8" height="41.1" fill="#888888"/><rect x="758.1" y="479.1" width="21.8" height="41.1" fill="#888888"/><rect x="779.4" y="479.1" width="21.8" height="41.1" fill="#888888"/><rect x="800.6" y="479.1" width="21.8" height="41.1" fill="#888888"/><rect x="821.9" y="479.1" width="21.8" height="41.1" fill="#939393"/><rect x="843.1" y="479.1" width="21.8" height="41.1" fill="#939393"/><rect x="864.4" y="479.1" width="21.8" height="41.1" fill="#888888"/><rect x="885.6" y="479.1" width="21.8" height="41.1" fill="#888888"/><rect x="906.9" y="479.1" width="41.1" height="41.1" fill="#888888"/></g></g>
<g clip-path="url(#c15)"><g filter="url(#b15)"><rect x="975" y="34.5" width="41.1" height="41.1" fill="#b2b2b2"/><rect x="1015.6" y="34.5" width="21.7" height="41.1" fill="#a8a8a8"/><rect x="1036.9" y="34.5" width="21.7" height="41.1" fill="#9e9e9e"/><rect x="1058.1" y="34.5" width="21.7" height="41.1" fill="#939393"/><rect x="1079.3" y="34.5" width="21.7" height="41.1" fill="#9e9e9e"/><rect x="1100.6" y="34.5" width="21.7" height="41.1" fill="#9e9e9e"/><rect x="1121.8" y="34.5" width="21.7" height="41.1" fill="#a8a8a8"/><rect x="1143" y="34.5" width="21.7" height="41.1" fill="#9e9e9e"/><rect x="1164.3" y="34.5" width="21.7" height="41.1" fill="#939393"/><rect x="1185.5" y="34.5" width="21.7" height="41.1" fill="#888888"/><rect x="1206.7" y="34.5" width="21.7" height="41.1" fill="#939393"/><rect x="1228" y="34.5" width="21.7" height="41.1" fill="#9e9e9e"/><rect x="1249.2" y="34.5" width="21.7" height="41.1" fill="#b2b2b2"/><rect x="1270.4" y="34.5" width="21.7" height="41.1" fill="#d2d2d2"/><rect x="1291.7" y="34.5" width="41.1" height="41.1" fill="#f2f2f2"/><rect x="975" y="75.1" width="41.1" height="21.8" fill="#b2b2b2"/><rect x="1015.6" y="75.1" width="21.7" height="21.8" fill="#9e9e9e"/><rect x="1036.9" y="75.1" width="21.7" height="21.8" fill="#888888"/><rect x="1058.1" y="75.1" width="21.7" height="21.8" fill="#7e7e7e"/><rect x="1079.3" y="75.1" width="21.7" height="21.8" fill="#939393"/><rect x="1100.6" y="75.1" width="21.7" height="21.8" fill="#9e9e9e"/><rect x="1121.8" y="75.1" width="21.7" height="21.8" fill="#9e9e9e"/><rect x="1143" y="75.1" width="21.7" height="21.8" fill="#939393"/><rect x="1164.3" y="75.1" width="21.7" height="21.8" fill="#888888"/><rect x="1185.5" y="75.1" width="21.7" height="21.8" fill="#696969"/><rect x="1206.7" y="75.1" width="21.7" height="21.8" fill="#5e5e5e"/><rect x="1228" y="75.1" width="21.7" height="21.8" fill="#939393"/><rect x="1249.2" y="75.1" width="21.7" height="21.8" fill="#b2b2b2"/><rect x="1270.4" y="75.1" width="21.7" height="21.8" fill="#c8c8c8"/><rect x="1291.7" y="75.1" width="41.1" height="21.8" fill="#dcdcdc"/><rect x="975" y="96.4" width="41.1" height="21.8" fill="#b8b8b8"/><rect x="1015.6" y="96.4" width="21.7" height="21.8" fill="#a3a3a3"/><rect x="1036.9" y="96.4" width="21.7" height="21.8" fill="#888888"/><rect x="1058.1" y="96.4" width="21.7" height="21.8" fill="#747474"/><rect x="1079.3" y="96.4" width="21.7" height="21.8" fill="#939393"/><rect x="1100.6" y="96.4" width="21.7" height="21.8" fill="#9e9e9e"/><rect x="1121.8" y="96.4" width="21.7" height="21.8" fill="#9e9e9e"/><rect x="1143" y="96.4" width="21.7" height="21.8" fill="#939393"/><rect x="1164.3" y="96.4" width="21.7" height="21.8" fill="#696969"/><rect x="1185.5" y="96.4" width="21.7" height="21.8" fill="#343434"/><rect x="1206.7" y="96.4" width="21.7" height="21.8" fill="#3f3f3f"/><rect x="1228" y="96.4" width="21.7" height="21.8" fill="#9e9e9e"/><rect x="1249.2" y="96.4" width="21.7" height="21.8" fill="#b2b2b2"/><rect x="1270.4" y="96.4" width="21.7" height="21.8" fill="#bdbdbd"/><rect x="1291.7" y="96.4" width="41.1" height="21.8" fill="#c8c8c8"/><rect x="975" y="117.6" width="41.1" height="21.8" fill="#b8b8b8"/><rect x="1015.6" y="117.6" width="21.7" height="21.8" fill="#a8a8a8"/><rect x="1036.9" y="117.6" width="21.7" height="21.8" fill="#939393"/><rect x="1058.1" y="117.6" width="21.7" height="21.8" fill="#7e7e7e"/><rect x="1079.3" y="117.6" width="21.7" height="21.8" fill="#939393"/><rect x="1100.6" y="117.6" width="21.7" height="21.8" fill="#9e9e9e"/><rect x="1121.8" y="117.6" width="21.7" height="21.8" fill="#9e9e9e"/><rect x="1143" y="117.6" width="21.7" height="21.8" fill="#888888"/><rect x="1164.3" y="117.6" width="21.7" height="21.8" fill="#4a4a4a"/><rect x="1185.5" y="117.6" width="21.7" height="21.8" fill="#151515"/><rect x="1206.7" y="117.6" width="21.7" height="21.8" fill="#545454"/><rect x="1228" y="117.6" width="21.7" height="21.8" fill="#9e9e9e"/><rect x="1249.2" y="117.6" width="21.7" height="21.8" fill="#b2b2b2"/><rect x="1270.4" y="117.6" width="21.7" height="21.8" fill="#b2b2b2"/><rect x="1291.7" y="117.6" width="41.1" height="21.8" fill="#b2b2b2"/><rect x="975" y="138.9" width="41.1" height="21.8" fill="#bdbdbd"/><rect x="1015.6" y="138.9" width="21.7" height="21.8" fill="#adadad"/><rect x="1036.9" y="138.9" width="21.7" height="21.8" fill="#9e9e9e"/><rect x="1058.1" y="138.9" width="21.7" height="21.8" fill="#939393"/><rect x="1079.3" y="138.9" width="21.7" height="21.8" fill="#989898"/><rect x="1100.6" y="138.9" width="21.7" height="21.8" fill="#9e9e9e"/><rect x="1121.8" y="138.9" width="21.7" height="21.8" fill="#9e9e9e"/><rect x="1143" y="138.9" width="21.7" height="21.8" fill="#939393"/><rect x="1164.3" y="138.9" width="21.7" height="21.8" fill="#7e7e7e"/><rect x="1185.5" y="138.9" width="21.7" height="21.8" fill="#747474"/><rect x="1206.7" y="138.9" width="21.7" height="21.8" fill="#888888"/><rect x="1228" y="138.9" width="21.7" height="21.8" fill="#9e9e9e"/><rect x="1249.2" y="138.9" width="21.7" height="21.8" fill="#a8a8a8"/><rect x="1270.4" y="138.9" width="21.7" height="21.8" fill="#9e9e9e"/><rect x="1291.7" y="138.9" width="41.1" height="21.8" fill="#747474"/><rect x="975" y="160.2" width="41.1" height="21.8" fill="#bdbdbd"/><rect x="1015.6" y="160.2" width="21.7" height="21.8" fill="#b2b2b2"/><rect x="1036.9" y="160.2" width="21.7" height="21.8" fill="#a8a8a8"/><rect x="1058.1" y="160.2" width="21.7" height="21.8" fill="#9e9e9e"/><rect x="1079.3" y="160.2" width="21.7" height="21.8" fill="#939393"/><rect x="1100.6" y="160.2" width="21.7" height="21.8" fill="#939393"/><rect x="1121.8" y="160.2" width="21.7" height="21.8" fill="#9e9e9e"/><rect x="1143" y="160.2" width="21.7" height="21.8" fill="#9e9e9e"/><rect x="1164.3" y="160.2" width="21.7" height="21.8" fill="#9e9e9e"/><rect x="1185.5" y="160.2" width="21.7" height="21.8" fill="#9e9e9e"/><rect x="1206.7" y="160.2" width="21.7" height="21.8" fill="#9e9e9e"/><rect x="1228" y="160.2" width="21.7" height="21.8" fill="#939393"/><rect x="1249.2" y="160.2" width="21.7" height="21.8" fill="#7e7e7e"/><rect x="1270.4" y="160.2" width="21.7" height="21.8" fill="#4a4a4a"/><rect x="1291.7" y="160.2" width="41.1" height="21.8" fill="#2a2a2a"/><rect x="975" y="181.4" width="41.1" height="21.8" fill="#bdbdbd"/><rect x="1015.6" y="181.4" width="21.7" height="21.8" fill="#b2b2b2"/><rect x="1036.9" y="181.4" width="21.7" height="21.8" fill="#a8a8a8"/><rect x="1058.1" y="181.4" width="21.7" height="21.8" fill="#9e9e9e"/><rect x="1079.3" y="181.4" width="21.7" height="21.8" fill="#939393"/><rect x="1100.6" y="181.4" width="21.7" height="21.8" fill="#888888"/><rect x="1121.8" y="181.4" width="21.7" height="21.8" fill="#939393"/><rect x="1143" y="181.4" width="21.7" height="21.8" fill="#9e9e9e"/><rect x="1164.3" y="181.4" width="21.7" height="21.8" fill="#a3a3a3"/><rect x="1185.5" y="181.4" width="21.7" height="21.8" fill="#9e9e9e"/><rect x="1206.7" y="181.4" width="21.7" height="21.8" fill="#939393"/><rect x="1228" y="181.4" width="21.7" height="21.8" fill="#747474"/><rect x="1249.2" y="181.4" width="21.7" height="21.8" fill="#343434"/><rect x="1270.4" y="181.4" width="21.7" height="21.8" fill="#202020"/><rect x="1291.7" y="181.4" width="41.1" height="21.8" fill="#545454"/><rect x="975" y="202.7" width="41.1" height="21.8" fill="#bdbdbd"/><rect x="1015.6" y="202.7" width="21.7" height="21.8" fill="#b8b8b8"/><rect x="1036.9" y="202.7" width="21.7" height="21.8" fill="#adadad"/><rect x="1058.1" y="202.7" width="21.7" height="21.8" fill="#9e9e9e"/><rect x="1079.3" y="202.7" width="21.7" height="21.8" fill="#939393"/><rect x="1100.6" y="202.7" width="21.7" height="21.8" fill="#888888"/><rect x="1121.8" y="202.7" width="21.7" height="21.8" fill="#888888"/><rect x="1143" y="202.7" width="21.7" height="21.8" fill="#939393"/><rect x="1164.3" y="202.7" width="21.7" height="21.8" fill="#9e9e9e"/><rect x="1185.5" y="202.7" width="21.7" height="21.8" fill="#939393"/><rect x="1206.7" y="202.7" width="21.7" height="21.8" fill="#7e7e7e"/><rect x="1228" y="202.7" width="21.7" height="21.8" fill="#4a4a4a"/><rect x="1249.2" y="202.7" width="21.7" height="21.8" fill="#202020"/><rect x="1270.4" y="202.7" width="21.7" height="21.8" fill="#4a4a4a"/><rect x="1291.7" y="202.7" width="41.1" height="21.8" fill="#7e7e7e"/><rect x="975" y="223.9" width="41.1" height="21.8" fill="#c2c2c2"/><rect x="1015.6" y="223.9" width="21.7" height="21.8" fill="#b8b8b8"/><rect x="1036.9" y="223.9" width="21.7" height="21.8" fill="#adadad"/><rect x="1058.1" y="223.9" width="21.7" height="21.8" fill="#a3a3a3"/><rect x="1079.3" y="223.9" width="21.7" height="21.8" fill="#939393"/><rect x="1100.6" y="223.9" width="21.7" height="21.8" fill="#888888"/><rect x="1121.8" y="223.9" width="21.7" height="21.8" fill="#838383"/><rect x="1143" y="223.9" width="21.7" height="21.8" fill="#888888"/><rect x="1164.3" y="223.9" width="21.7" height="21.8" fill="#939393"/><rect x="1185.5" y="223.9" width="21.7" height="21.8" fill="#888888"/><rect x="1206.7" y="223.9" width="21.7" height="21.8" fill="#696969"/><rect x="1228" y="223.9" width="21.7" height="21.8" fill="#2a2a2a"/><rect x="1249.2" y="223.9" width="21.7" height="21.8" fill="#3f3f3f"/><rect x="1270.4" y="223.9" width="21.7" height="21.8" fill="#747474"/><rect x="1291.7" y="223.9" width="41.1" height="21.8" fill="#939393"/><rect x="975" y="245.2" width="41.1" height="21.8" fill="#c8c8c8"/><rect x="1015.6" y="245.2" width="21.7" height="21.8" fill="#bdbdbd"/><rect x="1036.9" y="245.2" width="21.7" height="21.8" fill="#b2b2b2"/><rect x="1058.1" y="245.2" width="21.7" height="21.8" fill="#a8a8a8"/><rect x="1079.3" y="245.2" width="21.7" height="21.8" fill="#9e9e9e"/><rect x="1100.6" y="245.2" width="21.7" height="21.8" fill="#8e8e8e"/><rect x="1121.8" y="245.2" width="21.7" height="21.8" fill="#838383"/><rect x="1143" y="245.2" width="21.7" height="21.8" fill="#838383"/><rect x="1164.3" y="245.2" width="21.7" height="21.8" fill="#888888"/><rect x="1185.5" y="245.2" width="21.7" height="21.8" fill="#747474"/><rect x="1206.7" y="245.2" width="21.7" height="21.8" fill="#4a4a4a"/><rect x="1228" y="245.2" width="21.7" height="21.8" fill="#343434"/><rect x="1249.2" y="245.2" width="21.7" height="21.8" fill="#696969"/><rect x="1270.4" y="245.2" width="21.7" height="21.8" fill="#888888"/><rect x="1291.7" y="245.2" width="41.1" height="21.8" fill="#9e9e9e"/><rect x="975" y="266.5" width="41.1" height="21.8" fill="#cdcdcd"/><rect x="1015.6" y="266.5" width="21.7" height="21.8" fill="#c8c8c8"/><rect x="1036.9" y="266.5" width="21.7" height="21.8" fill="#c2c2c2"/><rect x="1058.1" y="266.5" width="21.7" height="21.8" fill="#b8b8b8"/><rect x="1079.3" y="266.5" width="21.7" height="21.8" fill="#a8a8a8"/><rect x="1100.6" y="266.5" width="21.7" height="21.8" fill="#939393"/><rect x="1121.8" y="266.5" width="21.7" height="21.8" fill="#7e7e7e"/><rect x="1143" y="266.5" width="21.7" height="21.8" fill="#747474"/><rect x="1164.3" y="266.5" width="21.7" height="21.8" fill="#747474"/><rect x="1185.5" y="266.5" width="21.7" height="21.8" fill="#747474"/><rect x="1206.7" y="266.5" width="21.7" height="21.8" fill="#5e5e5e"/><rect x="1228" y="266.5" width="21.7" height="21.8" fill="#4a4a4a"/><rect x="1249.2" y="266.5" width="21.7" height="21.8" fill="#696969"/><rect x="1270.4" y="266.5" width="21.7" height="21.8" fill="#888888"/><rect x="1291.7" y="266.5" width="41.1" height="21.8" fill="#9e9e9e"/><rect x="975" y="287.7" width="41.1" height="21.8" fill="#d2d2d2"/><rect x="1015.6" y="287.7" width="21.7" height="21.8" fill="#cdcdcd"/><rect x="1036.9" y="287.7" width="21.7" height="21.8" fill="#c8c8c8"/><rect x="1058.1" y="287.7" width="21.7" height="21.8" fill="#bdbdbd"/><rect x="1079.3" y="287.7" width="21.7" height="21.8" fill="#a8a8a8"/><rect x="1100.6" y="287.7" width="21.7" height="21.8" fill="#888888"/><rect x="1121.8" y="287.7" width="21.7" height="21.8" fill="#747474"/><rect x="1143" y="287.7" width="21.7" height="21.8" fill="#747474"/><rect x="1164.3" y="287.7" width="21.7" height="21.8" fill="#747474"/><rect x="1185.5" y="287.7" width="21.7" height="21.8" fill="#696969"/><rect x="1206.7" y="287.7" width="21.7" height="21.8" fill="#5e5e5e"/><rect x="1228" y="287.7" width="21.7" height="21.8" fill="#5e5e5e"/><rect x="1249.2" y="287.7" width="21.7" height="21.8" fill="#747474"/><rect x="1270.4" y="287.7" width="21.7" height="21.8" fill="#7e7e7e"/><rect x="1291.7" y="287.7" width="41.1" height="21.8" fill="#7e7e7e"/><rect x="975" y="309" width="41.1" height="21.8" fill="#d2d2d2"/><rect x="1015.6" y="309" width="21.7" height="21.8" fill="#cdcdcd"/><rect x="1036.9" y="309" width="21.7" height="21.8" fill="#c8c8c8"/><rect x="1058.1" y="309" width="21.7" height="21.8" fill="#b2b2b2"/><rect x="1079.3" y="309" width="21.7" height="21.8" fill="#939393"/><rect x="1100.6" y="309" width="21.7" height="21.8" fill="#7e7e7e"/><rect x="1121.8" y="309" width="21.7" height="21.8" fill="#747474"/><rect x="1143" y="309" width="21.7" height="21.8" fill="#747474"/><rect x="1164.3" y="309" width="21.7" height="21.8" fill="#747474"/><rect x="1185.5" y="309" width="21.7" height="21.8" fill="#696969"/><rect x="1206.7" y="309" width="21.7" height="21.8" fill="#696969"/><rect x="1228" y="309" width="21.7" height="21.8" fill="#747474"/><rect x="1249.2" y="309" width="21.7" height="21.8" fill="#747474"/><rect x="1270.4" y="309" width="21.7" height="21.8" fill="#696969"/><rect x="1291.7" y="309" width="41.1" height="21.8" fill="#545454"/><rect x="975" y="330.2" width="41.1" height="21.8" fill="#cdcdcd"/><rect x="1015.6" y="330.2" width="21.7" height="21.8" fill="#cdcdcd"/><rect x="1036.9" y="330.2" width="21.7" height="21.8" fill="#bdbdbd"/><rect x="1058.1" y="330.2" width="21.7" height="21.8" fill="#9e9e9e"/><rect x="1079.3" y="330.2" width="21.7" height="21.8" fill="#888888"/><rect x="1100.6" y="330.2" width="21.7" height="21.8" fill="#7e7e7e"/><rect x="1121.8" y="330.2" width="21.7" height="21.8" fill="#747474"/><rect x="1143" y="330.2" width="21.7" height="21.8" fill="#747474"/><rect x="1164.3" y="330.2" width="21.7" height="21.8" fill="#747474"/><rect x="1185.5" y="330.2" width="21.7" height="21.8" fill="#696969"/><rect x="1206.7" y="330.2" width="21.7" height="21.8" fill="#696969"/><rect x="1228" y="330.2" width="21.7" height="21.8" fill="#747474"/><rect x="1249.2" y="330.2" width="21.7" height="21.8" fill="#696969"/><rect x="1270.4" y="330.2" width="21.7" height="21.8" fill="#545454"/><rect x="1291.7" y="330.2" width="41.1" height="21.8" fill="#3f3f3f"/><rect x="975" y="351.5" width="41.1" height="21.8" fill="#c8c8c8"/><rect x="1015.6" y="351.5" width="21.7" height="21.8" fill="#c2c2c2"/><rect x="1036.9" y="351.5" width="21.7" height="21.8" fill="#b2b2b2"/><rect x="1058.1" y="351.5" width="21.7" height="21.8" fill="#939393"/><rect x="1079.3" y="351.5" width="21.7" height="21.8" fill="#7e7e7e"/><rect x="1100.6" y="351.5" width="21.7" height="21.8" fill="#747474"/><rect x="1121.8" y="351.5" width="21.7" height="21.8" fill="#747474"/><rect x="1143" y="351.5" width="21.7" height="21.8" fill="#747474"/><rect x="1164.3" y="351.5" width="21.7" height="21.8" fill="#747474"/><rect x="1185.5" y="351.5" width="21.7" height="21.8" fill="#747474"/><rect x="1206.7" y="351.5" width="21.7" height="21.8" fill="#747474"/><rect x="1228" y="351.5" width="21.7" height="21.8" fill="#696969"/><rect x="1249.2" y="351.5" width="21.7" height="21.8" fill="#5e5e5e"/><rect x="1270.4" y="351.5" width="21.7" height="21.8" fill="#545454"/><rect x="1291.7" y="351.5" width="41.1" height="21.8" fill="#3f3f3f"/><rect x="975" y="372.8" width="41.1" height="21.8" fill="#c2c2c2"/><rect x="1015.6" y="372.8" width="21.7" height="21.8" fill="#b8b8b8"/><rect x="1036.9" y="372.8" width="21.7" height="21.8" fill="#9e9e9e"/><rect x="1058.1" y="372.8" width="21.7" height="21.8" fill="#888888"/><rect x="1079.3" y="372.8" width="21.7" height="21.8" fill="#747474"/><rect x="1100.6" y="372.8" width="21.7" height="21.8" fill="#747474"/><rect x="1121.8" y="372.8" width="21.7" height="21.8" fill="#747474"/><rect x="1143" y="372.8" width="21.7" height="21.8" fill="#747474"/><rect x="1164.3" y="372.8" width="21.7" height="21.8" fill="#696969"/><rect x="1185.5" y="372.8" width="21.7" height="21.8" fill="#545454"/><rect x="1206.7" y="372.8" width="21.7" height="21.8" fill="#747474"/><rect x="1228" y="372.8" width="21.7" height="21.8" fill="#747474"/><rect x="1249.2" y="372.8" width="21.7" height="21.8" fill="#696969"/><rect x="1270.4" y="372.8" width="21.7" height="21.8" fill="#5e5e5e"/><rect x="1291.7" y="372.8" width="41.1" height="21.8" fill="#545454"/><rect x="975" y="394" width="41.1" height="21.8" fill="#bdbdbd"/><rect x="1015.6" y="394" width="21.7" height="21.8" fill="#a8a8a8"/><rect x="1036.9" y="394" width="21.7" height="21.8" fill="#939393"/><rect x="1058.1" y="394" width="21.7" height="21.8" fill="#7e7e7e"/><rect x="1079.3" y="394" width="21.7" height="21.8" fill="#747474"/><rect x="1100.6" y="394" width="21.7" height="21.8" fill="#747474"/><rect x="1121.8" y="394" width="21.7" height="21.8" fill="#747474"/><rect x="1143" y="394" width="21.7" height="21.8" fill="#696969"/><rect x="1164.3" y="394" width="21.7" height="21.8" fill="#4a4a4a"/><rect x="1185.5" y="394" width="21.7" height="21.8" fill="#2a2a2a"/><rect x="1206.7" y="394" width="21.7" height="21.8" fill="#545454"/><rect x="1228" y="394" width="21.7" height="21.8" fill="#747474"/><rect x="1249.2" y="394" width="21.7" height="21.8" fill="#747474"/><rect x="1270.4" y="394" width="21.7" height="21.8" fill="#747474"/><rect x="1291.7" y="394" width="41.1" height="21.8" fill="#7e7e7e"/><rect x="975" y="415.3" width="41.1" height="21.8" fill="#b2b2b2"/><rect x="1015.6" y="415.3" width="21.7" height="21.8" fill="#939393"/><rect x="1036.9" y="415.3" width="21.7" height="21.8" fill="#747474"/><rect x="1058.1" y="415.3" width="21.7" height="21.8" fill="#696969"/><rect x="1079.3" y="415.3" width="21.7" height="21.8" fill="#696969"/><rect x="1100.6" y="415.3" width="21.7" height="21.8" fill="#747474"/><rect x="1121.8" y="415.3" width="21.7" height="21.8" fill="#747474"/><rect x="1143" y="415.3" width="21.7" height="21.8" fill="#4a4a4a"/><rect x="1164.3" y="415.3" width="21.7" height="21.8" fill="#2a2a2a"/><rect x="1185.5" y="415.3" width="21.7" height="21.8" fill="#202020"/><rect x="1206.7" y="415.3" width="21.7" height="21.8" fill="#5e5e5e"/><rect x="1228" y="415.3" width="21.7" height="21.8" fill="#7e7e7e"/><rect x="1249.2" y="415.3" width="21.7" height="21.8" fill="#888888"/><rect x="1270.4" y="415.3" width="21.7" height="21.8" fill="#9e9e9e"/><rect x="1291.7" y="415.3" width="41.1" height="21.8" fill="#d2d2d2"/><rect x="975" y="436.5" width="41.1" height="21.8" fill="#9e9e9e"/><rect x="1015.6" y="436.5" width="21.7" height="21.8" fill="#747474"/><rect x="1036.9" y="436.5" width="21.7" height="21.8" fill="#545454"/><rect x="1058.1" y="436.5" width="21.7" height="21.8" fill="#5e5e5e"/><rect x="1079.3" y="436.5" width="21.7" height="21.8" fill="#747474"/><rect x="1100.6" y="436.5" width="21.7" height="21.8" fill="#7e7e7e"/><rect x="1121.8" y="436.5" width="21.7" height="21.8" fill="#7e7e7e"/><rect x="1143" y="436.5" width="21.7" height="21.8" fill="#696969"/><rect x="1164.3" y="436.5" width="21.7" height="21.8" fill="#545454"/><rect x="1185.5" y="436.5" width="21.7" height="21.8" fill="#5e5e5e"/><rect x="1206.7" y="436.5" width="21.7" height="21.8" fill="#7e7e7e"/><rect x="1228" y="436.5" width="21.7" height="21.8" fill="#939393"/><rect x="1249.2" y="436.5" width="21.7" height="21.8" fill="#a8a8a8"/><rect x="1270.4" y="436.5" width="21.7" height="21.8" fill="#c8c8c8"/><rect x="1291.7" y="436.5" width="41.1" height="21.8" fill="#e7e7e7"/><rect x="975" y="457.8" width="41.1" height="21.8" fill="#747474"/><rect x="1015.6" y="457.8" width="21.7" height="21.8" fill="#4a4a4a"/><rect x="1036.9" y="457.8" width="21.7" height="21.8" fill="#3f3f3f"/><rect x="1058.1" y="457.8" width="21.7" height="21.8" fill="#545454"/><rect x="1079.3" y="457.8" width="21.7" height="21.8" fill="#747474"/><rect x="1100.6" y="457.8" width="21.7" height="21.8" fill="#888888"/><rect x="1121.8" y="457.8" width="21.7" height="21.8" fill="#888888"/><rect x="1143" y="457.8" width="21.7" height="21.8" fill="#888888"/><rect x="1164.3" y="457.8" width="21.7" height="21.8" fill="#888888"/><rect x="1185.5" y="457.8" width="21.7" height="21.8" fill="#939393"/><rect x="1206.7" y="457.8" width="21.7" height="21.8" fill="#a8a8a8"/><rect x="1228" y="457.8" width="21.7" height="21.8" fill="#bdbdbd"/><rect x="1249.2" y="457.8" width="21.7" height="21.8" fill="#d2d2d2"/><rect x="1270.4" y="457.8" width="21.7" height="21.8" fill="#f2f2f2"/><rect x="1291.7" y="457.8" width="41.1" height="21.8" fill="#fcfcfc"/><rect x="975" y="479.1" width="41.1" height="41.1" fill="#3f3f3f"/><rect x="1015.6" y="479.1" width="21.7" height="41.1" fill="#151515"/><rect x="1036.9" y="479.1" width="21.7" height="41.1" fill="#202020"/><rect x="1058.1" y="479.1" width="21.7" height="41.1" fill="#545454"/><rect x="1079.3" y="479.1" width="21.7" height="41.1" fill="#7e7e7e"/><rect x="1100.6" y="479.1" width="21.7" height="41.1" fill="#939393"/><rect x="1121.8" y="479.1" width="21.7" height="41.1" fill="#9e9e9e"/><rect x="1143" y="479.1" width="21.7" height="41.1" fill="#a8a8a8"/><rect x="1164.3" y="479.1" width="21.7" height="41.1" fill="#b2b2b2"/><rect x="1185.5" y="479.1" width="21.7" height="41.1" fill="#bdbdbd"/><rect x="1206.7" y="479.1" width="21.7" height="41.1" fill="#c8c8c8"/><rect x="1228" y="479.1" width="21.7" height="41.1" fill="#dcdcdc"/><rect x="1249.2" y="479.1" width="21.7" height="41.1" fill="#f2f2f2"/><rect x="1270.4" y="479.1" width="21.7" height="41.1" fill="#ffffff"/><rect x="1291.7" y="479.1" width="41.1" height="41.1" fill="#ffffff"/></g></g>
<g clip-path="url(#frc)"><path d="M1310 150 L1270 215 L1237 270 L1215 300" fill="none" stroke="#1e1e1e" stroke-opacity="0.7" stroke-width="16" stroke-linecap="round" stroke-linejoin="round" filter="url(#bb16)"/></g>
<g clip-path="url(#frb)"><path d="M640 88 L668 125 L689 154 L726 205 L765 240 L805 262 L840 284 L875 316 L900 345 L920 370" fill="none" stroke="#505050" stroke-opacity="0.5" stroke-width="17" stroke-linecap="round" stroke-linejoin="round" filter="url(#bb17)"/></g>
<g clip-path="url(#frb)"><path d="M845 285 L875 316 L900 345 L920 370" fill="none" stroke="#282828" stroke-opacity="0.45" stroke-width="14" stroke-linecap="round" stroke-linejoin="round" filter="url(#bb18)"/></g>
<g clip-path="url(#frc)"><path d="M1062 455 L1100 370 L1136 282 L1172 160" fill="none" stroke="#646464" stroke-opacity="0.3" stroke-width="16" stroke-linecap="round" stroke-linejoin="round" filter="url(#bb19)"/></g>
<polygon points="1302,399 1302,490 1273,490" fill="#fff"/>
<polygon points="1005,481 1005,490 1046,490" fill="#fff"/>
<g clip-path="url(#c20)"><g filter="url(#b20)"><rect x="1461.5" y="600.4" width="39.8" height="116.5" fill="#2f20fd"/><rect x="1500.8" y="600.4" width="19.2" height="116.5" fill="#ddddfd"/><rect x="1519.5" y="600.4" width="19.2" height="116.5" fill="#f63535"/><rect x="1538.1" y="600.4" width="19.2" height="116.5" fill="#ff1a1a"/><rect x="1556.8" y="600.4" width="19.2" height="116.5" fill="#f24242"/><rect x="1575.5" y="600.4" width="19.2" height="116.5" fill="#efa3a7"/><rect x="1594.1" y="600.4" width="19.2" height="116.5" fill="#ed6c6f"/><rect x="1612.8" y="600.4" width="19.2" height="116.5" fill="#f5c6c9"/><rect x="1631.4" y="600.4" width="19.2" height="116.5" fill="#ffffff"/><rect x="1650.1" y="600.4" width="19.2" height="116.5" fill="#c7c7fb"/><rect x="1668.7" y="600.4" width="19.2" height="116.5" fill="#9696f9"/><rect x="1687.4" y="600.4" width="19.2" height="116.5" fill="#c7c7fb"/><rect x="1706" y="600.4" width="19.2" height="116.5" fill="#ffffff"/><rect x="1724.7" y="600.4" width="19.2" height="116.5" fill="#ffffff"/><rect x="1743.4" y="600.4" width="19.2" height="116.5" fill="#b0b0fa"/><rect x="1762" y="600.4" width="19.2" height="116.5" fill="#7b7bf8"/><rect x="1780.7" y="600.4" width="39.8" height="116.5" fill="#7b7bf8"/><rect x="1461.5" y="716.4" width="39.8" height="15.1" fill="#483ffb"/><rect x="1500.8" y="716.4" width="19.2" height="15.1" fill="#ed6c6f"/><rect x="1519.5" y="716.4" width="19.2" height="15.1" fill="#ff1a1a"/><rect x="1538.1" y="716.4" width="19.2" height="15.1" fill="#ff1a1a"/><rect x="1556.8" y="716.4" width="19.2" height="15.1" fill="#f24242"/><rect x="1575.5" y="716.4" width="19.2" height="15.1" fill="#ec8387"/><rect x="1594.1" y="716.4" width="19.2" height="15.1" fill="#f63535"/><rect x="1612.8" y="716.4" width="19.2" height="15.1" fill="#efa3a7"/><rect x="1631.4" y="716.4" width="19.2" height="15.1" fill="#f0f0fe"/><rect x="1650.1" y="716.4" width="19.2" height="15.1" fill="#7b7bf8"/><rect x="1668.7" y="716.4" width="19.2" height="15.1" fill="#9696f9"/><rect x="1687.4" y="716.4" width="19.2" height="15.1" fill="#9696f9"/><rect x="1706" y="716.4" width="19.2" height="15.1" fill="#f0f0fe"/><rect x="1724.7" y="716.4" width="19.2" height="15.1" fill="#ffffff"/><rect x="1743.4" y="716.4" width="19.2" height="15.1" fill="#b0b0fa"/><rect x="1762" y="716.4" width="19.2" height="15.1" fill="#483ffb"/><rect x="1780.7" y="716.4" width="39.8" height="15.1" fill="#2f20fd"/><rect x="1461.5" y="731" width="39.8" height="18.8" fill="#ddddfd"/><rect x="1500.8" y="731" width="19.2" height="18.8" fill="#f63535"/><rect x="1519.5" y="731" width="19.2" height="18.8" fill="#ff1a1a"/><rect x="1538.1" y="731" width="19.2" height="18.8" fill="#ff1a1a"/><rect x="1556.8" y="731" width="19.2" height="18.8" fill="#ed6c6f"/><rect x="1575.5" y="731" width="19.2" height="18.8" fill="#ef5556"/><rect x="1594.1" y="731" width="19.2" height="18.8" fill="#f63535"/><rect x="1612.8" y="731" width="19.2" height="18.8" fill="#f5c6c9"/><rect x="1631.4" y="731" width="19.2" height="18.8" fill="#ddddfd"/><rect x="1650.1" y="731" width="19.2" height="18.8" fill="#9696f9"/><rect x="1668.7" y="731" width="19.2" height="18.8" fill="#b0b0fa"/><rect x="1687.4" y="731" width="19.2" height="18.8" fill="#7b7bf8"/><rect x="1706" y="731" width="19.2" height="18.8" fill="#ddddfd"/><rect x="1724.7" y="731" width="19.2" height="18.8" fill="#efa3a7"/><rect x="1743.4" y="731" width="19.2" height="18.8" fill="#fbe6e7"/><rect x="1762" y="731" width="19.2" height="18.8" fill="#b0b0fa"/><rect x="1780.7" y="731" width="39.8" height="18.8" fill="#1500ff"/><rect x="1461.5" y="749.4" width="39.8" height="18.8" fill="#ffffff"/><rect x="1500.8" y="749.4" width="19.2" height="18.8" fill="#f24242"/><rect x="1519.5" y="749.4" width="19.2" height="18.8" fill="#fb2828"/><rect x="1538.1" y="749.4" width="19.2" height="18.8" fill="#ec8387"/><rect x="1556.8" y="749.4" width="19.2" height="18.8" fill="#ddddfd"/><rect x="1575.5" y="749.4" width="19.2" height="18.8" fill="#f63535"/><rect x="1594.1" y="749.4" width="19.2" height="18.8" fill="#f24242"/><rect x="1612.8" y="749.4" width="19.2" height="18.8" fill="#ffffff"/><rect x="1631.4" y="749.4" width="19.2" height="18.8" fill="#ddddfd"/><rect x="1650.1" y="749.4" width="19.2" height="18.8" fill="#b0b0fa"/><rect x="1668.7" y="749.4" width="19.2" height="18.8" fill="#615ef9"/><rect x="1687.4" y="749.4" width="19.2" height="18.8" fill="#1500ff"/><rect x="1706" y="749.4" width="19.2" height="18.8" fill="#c7c7fb"/><rect x="1724.7" y="749.4" width="19.2" height="18.8" fill="#ed6c6f"/><rect x="1743.4" y="749.4" width="19.2" height="18.8" fill="#ef5556"/><rect x="1762" y="749.4" width="19.2" height="18.8" fill="#ffffff"/><rect x="1780.7" y="749.4" width="39.8" height="18.8" fill="#b0b0fa"/><rect x="1461.5" y="767.6" width="39.8" height="18.8" fill="#ffffff"/><rect x="1500.8" y="767.6" width="19.2" height="18.8" fill="#ed6c6f"/><rect x="1519.5" y="767.6" width="19.2" height="18.8" fill="#ef5556"/><rect x="1538.1" y="767.6" width="19.2" height="18.8" fill="#efa3a7"/><rect x="1556.8" y="767.6" width="19.2" height="18.8" fill="#ffffff"/><rect x="1575.5" y="767.6" width="19.2" height="18.8" fill="#f63535"/><rect x="1594.1" y="767.6" width="19.2" height="18.8" fill="#ed6c6f"/><rect x="1612.8" y="767.6" width="19.2" height="18.8" fill="#ffffff"/><rect x="1631.4" y="767.6" width="19.2" height="18.8" fill="#ddddfd"/><rect x="1650.1" y="767.6" width="19.2" height="18.8" fill="#b0b0fa"/><rect x="1668.7" y="767.6" width="19.2" height="18.8" fill="#1500ff"/><rect x="1687.4" y="767.6" width="19.2" height="18.8" fill="#2f20fd"/><rect x="1706" y="767.6" width="19.2" height="18.8" fill="#c7c7fb"/><rect x="1724.7" y="767.6" width="19.2" height="18.8" fill="#ec8387"/><rect x="1743.4" y="767.6" width="19.2" height="18.8" fill="#ef5556"/><rect x="1762" y="767.6" width="19.2" height="18.8" fill="#fbe6e7"/><rect x="1780.7" y="767.6" width="39.8" height="18.8" fill="#ddddfd"/><rect x="1461.5" y="785.9" width="39.8" height="18.8" fill="#ffffff"/><rect x="1500.8" y="785.9" width="19.2" height="18.8" fill="#ec8387"/><rect x="1519.5" y="785.9" width="19.2" height="18.8" fill="#ed6c6f"/><rect x="1538.1" y="785.9" width="19.2" height="18.8" fill="#ec8387"/><rect x="1556.8" y="785.9" width="19.2" height="18.8" fill="#fbe6e7"/><rect x="1575.5" y="785.9" width="19.2" height="18.8" fill="#ed6c6f"/><rect x="1594.1" y="785.9" width="19.2" height="18.8" fill="#ec8387"/><rect x="1612.8" y="785.9" width="19.2" height="18.8" fill="#ffffff"/><rect x="1631.4" y="785.9" width="19.2" height="18.8" fill="#ddddfd"/><rect x="1650.1" y="785.9" width="19.2" height="18.8" fill="#9696f9"/><rect x="1668.7" y="785.9" width="19.2" height="18.8" fill="#1500ff"/><rect x="1687.4" y="785.9" width="19.2" height="18.8" fill="#7b7bf8"/><rect x="1706" y="785.9" width="19.2" height="18.8" fill="#ddddfd"/><rect x="1724.7" y="785.9" width="19.2" height="18.8" fill="#fbe6e7"/><rect x="1743.4" y="785.9" width="19.2" height="18.8" fill="#efa3a7"/><rect x="1762" y="785.9" width="19.2" height="18.8" fill="#fbe6e7"/><rect x="1780.7" y="785.9" width="39.8" height="18.8" fill="#f0f0fe"/><rect x="1461.5" y="804.2" width="39.8" height="18.8" fill="#ffffff"/><rect x="1500.8" y="804.2" width="19.2" height="18.8" fill="#ed6c6f"/><rect x="1519.5" y="804.2" width="19.2" height="18.8" fill="#ed6c6f"/><rect x="1538.1" y="804.2" width="19.2" height="18.8" fill="#ed6c6f"/><rect x="1556.8" y="804.2" width="19.2" height="18.8" fill="#f5c6c9"/><rect x="1575.5" y="804.2" width="19.2" height="18.8" fill="#efa3a7"/><rect x="1594.1" y="804.2" width="19.2" height="18.8" fill="#efa3a7"/><rect x="1612.8" y="804.2" width="19.2" height="18.8" fill="#f0f0fe"/><rect x="1631.4" y="804.2" width="19.2" height="18.8" fill="#f0f0fe"/><rect x="1650.1" y="804.2" width="19.2" height="18.8" fill="#9696f9"/><rect x="1668.7" y="804.2" width="19.2" height="18.8" fill="#615ef9"/><rect x="1687.4" y="804.2" width="19.2" height="18.8" fill="#b0b0fa"/><rect x="1706" y="804.2" width="19.2" height="18.8" fill="#f0f0fe"/><rect x="1724.7" y="804.2" width="19.2" height="18.8" fill="#ffffff"/><rect x="1743.4" y="804.2" width="19.2" height="18.8" fill="#efa3a7"/><rect x="1762" y="804.2" width="19.2" height="18.8" fill="#efa3a7"/><rect x="1780.7" y="804.2" width="39.8" height="18.8" fill="#ffffff"/><rect x="1461.5" y="822.5" width="39.8" height="18.8" fill="#ffffff"/><rect x="1500.8" y="822.5" width="19.2" height="18.8" fill="#ec8387"/><rect x="1519.5" y="822.5" width="19.2" height="18.8" fill="#ed6c6f"/><rect x="1538.1" y="822.5" width="19.2" height="18.8" fill="#ed6c6f"/><rect x="1556.8" y="822.5" width="19.2" height="18.8" fill="#efa3a7"/><rect x="1575.5" y="822.5" width="19.2" height="18.8" fill="#ffffff"/><rect x="1594.1" y="822.5" width="19.2" height="18.8" fill="#f5c6c9"/><rect x="1612.8" y="822.5" width="19.2" height="18.8" fill="#fbe6e7"/><rect x="1631.4" y="822.5" width="19.2" height="18.8" fill="#ffffff"/><rect x="1650.1" y="822.5" width="19.2" height="18.8" fill="#b0b0fa"/><rect x="1668.7" y="822.5" width="19.2" height="18.8" fill="#9696f9"/><rect x="1687.4" y="822.5" width="19.2" height="18.8" fill="#c7c7fb"/><rect x="1706" y="822.5" width="19.2" height="18.8" fill="#ffffff"/><rect x="1724.7" y="822.5" width="19.2" height="18.8" fill="#ffffff"/><rect x="1743.4" y="822.5" width="19.2" height="18.8" fill="#f5c6c9"/><rect x="1762" y="822.5" width="19.2" height="18.8" fill="#efa3a7"/><rect x="1780.7" y="822.5" width="39.8" height="18.8" fill="#ffffff"/><rect x="1461.5" y="840.8" width="39.8" height="18.8" fill="#fbe6e7"/><rect x="1500.8" y="840.8" width="19.2" height="18.8" fill="#efa3a7"/><rect x="1519.5" y="840.8" width="19.2" height="18.8" fill="#ed6c6f"/><rect x="1538.1" y="840.8" width="19.2" height="18.8" fill="#ed6c6f"/><rect x="1556.8" y="840.8" width="19.2" height="18.8" fill="#efa3a7"/><rect x="1575.5" y="840.8" width="19.2" height="18.8" fill="#f0f0fe"/><rect x="1594.1" y="840.8" width="19.2" height="18.8" fill="#c7c7fb"/><rect x="1612.8" y="840.8" width="19.2" height="18.8" fill="#fbe6e7"/><rect x="1631.4" y="840.8" width="19.2" height="18.8" fill="#ffffff"/><rect x="1650.1" y="840.8" width="19.2" height="18.8" fill="#9696f9"/><rect x="1668.7" y="840.8" width="19.2" height="18.8" fill="#b0b0fa"/><rect x="1687.4" y="840.8" width="19.2" height="18.8" fill="#f0f0fe"/><rect x="1706" y="840.8" width="19.2" height="18.8" fill="#ffffff"/><rect x="1724.7" y="840.8" width="19.2" height="18.8" fill="#ddddfd"/><rect x="1743.4" y="840.8" width="19.2" height="18.8" fill="#ddddfd"/><rect x="1762" y="840.8" width="19.2" height="18.8" fill="#fbe6e7"/><rect x="1780.7" y="840.8" width="39.8" height="18.8" fill="#ffffff"/><rect x="1461.5" y="859.1" width="39.8" height="18.8" fill="#fbe6e7"/><rect x="1500.8" y="859.1" width="19.2" height="18.8" fill="#efa3a7"/><rect x="1519.5" y="859.1" width="19.2" height="18.8" fill="#ed6c6f"/><rect x="1538.1" y="859.1" width="19.2" height="18.8" fill="#ed6c6f"/><rect x="1556.8" y="859.1" width="19.2" height="18.8" fill="#efa3a7"/><rect x="1575.5" y="859.1" width="19.2" height="18.8" fill="#fbe6e7"/><rect x="1594.1" y="859.1" width="19.2" height="18.8" fill="#c7c7fb"/><rect x="1612.8" y="859.1" width="19.2" height="18.8" fill="#fbe6e7"/><rect x="1631.4" y="859.1" width="19.2" height="18.8" fill="#fbe6e7"/><rect x="1650.1" y="859.1" width="19.2" height="18.8" fill="#b0b0fa"/><rect x="1668.7" y="859.1" width="19.2" height="18.8" fill="#c7c7fb"/><rect x="1687.4" y="859.1" width="19.2" height="18.8" fill="#ddddfd"/><rect x="1706" y="859.1" width="19.2" height="18.8" fill="#ffffff"/><rect x="1724.7" y="859.1" width="19.2" height="18.8" fill="#b0b0fa"/><rect x="1743.4" y="859.1" width="19.2" height="18.8" fill="#7b7bf8"/><rect x="1762" y="859.1" width="19.2" height="18.8" fill="#b0b0fa"/><rect x="1780.7" y="859.1" width="39.8" height="18.8" fill="#ddddfd"/><rect x="1461.5" y="877.4" width="39.8" height="28" fill="#fbe6e7"/><rect x="1500.8" y="877.4" width="19.2" height="28" fill="#efa3a7"/><rect x="1519.5" y="877.4" width="19.2" height="28" fill="#ed6c6f"/><rect x="1538.1" y="877.4" width="19.2" height="28" fill="#ed6c6f"/><rect x="1556.8" y="877.4" width="19.2" height="28" fill="#efa3a7"/><rect x="1575.5" y="877.4" width="19.2" height="28" fill="#f2b5b8"/><rect x="1594.1" y="877.4" width="19.2" height="28" fill="#f0f0fe"/><rect x="1612.8" y="877.4" width="19.2" height="28" fill="#fbe6e7"/><rect x="1631.4" y="877.4" width="19.2" height="28" fill="#fbe6e7"/><rect x="1650.1" y="877.4" width="19.2" height="28" fill="#ddddfd"/><rect x="1668.7" y="877.4" width="19.2" height="28" fill="#ddddfd"/><rect x="1687.4" y="877.4" width="19.2" height="28" fill="#f0f0fe"/><rect x="1706" y="877.4" width="19.2" height="28" fill="#ffffff"/><rect x="1724.7" y="877.4" width="19.2" height="28" fill="#b0b0fa"/><rect x="1743.4" y="877.4" width="19.2" height="28" fill="#615ef9"/><rect x="1762" y="877.4" width="19.2" height="28" fill="#9696f9"/><rect x="1780.7" y="877.4" width="39.8" height="28" fill="#c7c7fb"/><rect x="1461.5" y="904.9" width="39.8" height="37.1" fill="#fbe6e7"/><rect x="1500.8" y="904.9" width="19.2" height="37.1" fill="#ec8387"/><rect x="1519.5" y="904.9" width="19.2" height="37.1" fill="#ed6c6f"/><rect x="1538.1" y="904.9" width="19.2" height="37.1" fill="#ed6c6f"/><rect x="1556.8" y="904.9" width="19.2" height="37.1" fill="#efa3a7"/><rect x="1575.5" y="904.9" width="19.2" height="37.1" fill="#efa3a7"/><rect x="1594.1" y="904.9" width="19.2" height="37.1" fill="#f5c6c9"/><rect x="1612.8" y="904.9" width="19.2" height="37.1" fill="#ffffff"/><rect x="1631.4" y="904.9" width="19.2" height="37.1" fill="#fbe6e7"/><rect x="1650.1" y="904.9" width="19.2" height="37.1" fill="#ffffff"/><rect x="1668.7" y="904.9" width="19.2" height="37.1" fill="#ddddfd"/><rect x="1687.4" y="904.9" width="19.2" height="37.1" fill="#ffffff"/><rect x="1706" y="904.9" width="19.2" height="37.1" fill="#f0f0fe"/><rect x="1724.7" y="904.9" width="19.2" height="37.1" fill="#c7c7fb"/><rect x="1743.4" y="904.9" width="19.2" height="37.1" fill="#9696f9"/><rect x="1762" y="904.9" width="19.2" height="37.1" fill="#c7c7fb"/><rect x="1780.7" y="904.9" width="39.8" height="37.1" fill="#ffffff"/><rect x="1461.5" y="941.5" width="39.8" height="37.1" fill="#ffffff"/><rect x="1500.8" y="941.5" width="19.2" height="37.1" fill="#efa3a7"/><rect x="1519.5" y="941.5" width="19.2" height="37.1" fill="#ed6c6f"/><rect x="1538.1" y="941.5" width="19.2" height="37.1" fill="#ec8387"/><rect x="1556.8" y="941.5" width="19.2" height="37.1" fill="#efa3a7"/><rect x="1575.5" y="941.5" width="19.2" height="37.1" fill="#efa3a7"/><rect x="1594.1" y="941.5" width="19.2" height="37.1" fill="#f5c6c9"/><rect x="1612.8" y="941.5" width="19.2" height="37.1" fill="#ffffff"/><rect x="1631.4" y="941.5" width="19.2" height="37.1" fill="#c7c7fb"/><rect x="1650.1" y="941.5" width="19.2" height="37.1" fill="#ffffff"/><rect x="1668.7" y="941.5" width="19.2" height="37.1" fill="#ddddfd"/><rect x="1687.4" y="941.5" width="19.2" height="37.1" fill="#ddddfd"/><rect x="1706" y="941.5" width="19.2" height="37.1" fill="#ffffff"/><rect x="1724.7" y="941.5" width="19.2" height="37.1" fill="#f0f0fe"/><rect x="1743.4" y="941.5" width="19.2" height="37.1" fill="#ddddfd"/><rect x="1762" y="941.5" width="19.2" height="37.1" fill="#f0f0fe"/><rect x="1780.7" y="941.5" width="39.8" height="37.1" fill="#ffffff"/><rect x="1461.5" y="978.1" width="39.8" height="28" fill="#ffffff"/><rect x="1500.8" y="978.1" width="19.2" height="28" fill="#f5c6c9"/><rect x="1519.5" y="978.1" width="19.2" height="28" fill="#ec8387"/><rect x="1538.1" y="978.1" width="19.2" height="28" fill="#ec8387"/><rect x="1556.8" y="978.1" width="19.2" height="28" fill="#ed6c6f"/><rect x="1575.5" y="978.1" width="19.2" height="28" fill="#efa3a7"/><rect x="1594.1" y="978.1" width="19.2" height="28" fill="#fbe6e7"/><rect x="1612.8" y="978.1" width="19.2" height="28" fill="#c7c7fb"/><rect x="1631.4" y="978.1" width="19.2" height="28" fill="#9696f9"/><rect x="1650.1" y="978.1" width="19.2" height="28" fill="#fbe6e7"/><rect x="1668.7" y="978.1" width="19.2" height="28" fill="#f5c6c9"/><rect x="1687.4" y="978.1" width="19.2" height="28" fill="#ffffff"/><rect x="1706" y="978.1" width="19.2" height="28" fill="#ffffff"/><rect x="1724.7" y="978.1" width="19.2" height="28" fill="#f0f0fe"/><rect x="1743.4" y="978.1" width="19.2" height="28" fill="#ffffff"/><rect x="1762" y="978.1" width="19.2" height="28" fill="#ffffff"/><rect x="1780.7" y="978.1" width="39.8" height="28" fill="#ddddfd"/><rect x="1461.5" y="1005.5" width="39.8" height="18.8" fill="#ffffff"/><rect x="1500.8" y="1005.5" width="19.2" height="18.8" fill="#efa3a7"/><rect x="1519.5" y="1005.5" width="19.2" height="18.8" fill="#ec8387"/><rect x="1538.1" y="1005.5" width="19.2" height="18.8" fill="#ec8387"/><rect x="1556.8" y="1005.5" width="19.2" height="18.8" fill="#ec8387"/><rect x="1575.5" y="1005.5" width="19.2" height="18.8" fill="#efa3a7"/><rect x="1594.1" y="1005.5" width="19.2" height="18.8" fill="#fbe6e7"/><rect x="1612.8" y="1005.5" width="19.2" height="18.8" fill="#f0f0fe"/><rect x="1631.4" y="1005.5" width="19.2" height="18.8" fill="#b0b0fa"/><rect x="1650.1" y="1005.5" width="19.2" height="18.8" fill="#fbe6e7"/><rect x="1668.7" y="1005.5" width="19.2" height="18.8" fill="#efa3a7"/><rect x="1687.4" y="1005.5" width="19.2" height="18.8" fill="#fbe6e7"/><rect x="1706" y="1005.5" width="19.2" height="18.8" fill="#ffffff"/><rect x="1724.7" y="1005.5" width="19.2" height="18.8" fill="#f0f0fe"/><rect x="1743.4" y="1005.5" width="19.2" height="18.8" fill="#ffffff"/><rect x="1762" y="1005.5" width="19.2" height="18.8" fill="#f0f0fe"/><rect x="1780.7" y="1005.5" width="39.8" height="18.8" fill="#c7c7fb"/><rect x="1461.5" y="1023.9" width="39.8" height="18.8" fill="#efa3a7"/><rect x="1500.8" y="1023.9" width="19.2" height="18.8" fill="#ed6c6f"/><rect x="1519.5" y="1023.9" width="19.2" height="18.8" fill="#ec8387"/><rect x="1538.1" y="1023.9" width="19.2" height="18.8" fill="#ec8387"/><rect x="1556.8" y="1023.9" width="19.2" height="18.8" fill="#ec8387"/><rect x="1575.5" y="1023.9" width="19.2" height="18.8" fill="#efa3a7"/><rect x="1594.1" y="1023.9" width="19.2" height="18.8" fill="#fbe6e7"/><rect x="1612.8" y="1023.9" width="19.2" height="18.8" fill="#f0f0fe"/><rect x="1631.4" y="1023.9" width="19.2" height="18.8" fill="#f0f0fe"/><rect x="1650.1" y="1023.9" width="19.2" height="18.8" fill="#fbe6e7"/><rect x="1668.7" y="1023.9" width="19.2" height="18.8" fill="#efa3a7"/><rect x="1687.4" y="1023.9" width="19.2" height="18.8" fill="#f5c6c9"/><rect x="1706" y="1023.9" width="19.2" height="18.8" fill="#ffffff"/><rect x="1724.7" y="1023.9" width="19.2" height="18.8" fill="#f0f0fe"/><rect x="1743.4" y="1023.9" width="19.2" height="18.8" fill="#ffffff"/><rect x="1762" y="1023.9" width="19.2" height="18.8" fill="#f0f0fe"/><rect x="1780.7" y="1023.9" width="39.8" height="18.8" fill="#b0b0fa"/><rect x="1461.5" y="1042.2" width="39.8" height="18.8" fill="#f24242"/><rect x="1500.8" y="1042.2" width="19.2" height="18.8" fill="#fb2828"/><rect x="1519.5" y="1042.2" width="19.2" height="18.8" fill="#f63535"/><rect x="1538.1" y="1042.2" width="19.2" height="18.8" fill="#ef5556"/><rect x="1556.8" y="1042.2" width="19.2" height="18.8" fill="#ed6c6f"/><rect x="1575.5" y="1042.2" width="19.2" height="18.8" fill="#ec8387"/><rect x="1594.1" y="1042.2" width="19.2" height="18.8" fill="#fbe6e7"/><rect x="1612.8" y="1042.2" width="19.2" height="18.8" fill="#ffffff"/><rect x="1631.4" y="1042.2" width="19.2" height="18.8" fill="#ffffff"/><rect x="1650.1" y="1042.2" width="19.2" height="18.8" fill="#fbe6e7"/><rect x="1668.7" y="1042.2" width="19.2" height="18.8" fill="#f5c6c9"/><rect x="1687.4" y="1042.2" width="19.2" height="18.8" fill="#fbe6e7"/><rect x="1706" y="1042.2" width="19.2" height="18.8" fill="#ffffff"/><rect x="1724.7" y="1042.2" width="19.2" height="18.8" fill="#ffffff"/><rect x="1743.4" y="1042.2" width="19.2" height="18.8" fill="#ffffff"/><rect x="1762" y="1042.2" width="19.2" height="18.8" fill="#f0f0fe"/><rect x="1780.7" y="1042.2" width="39.8" height="18.8" fill="#b0b0fa"/><rect x="1461.5" y="1060.4" width="39.8" height="39.7" fill="#f63535"/><rect x="1500.8" y="1060.4" width="19.2" height="39.7" fill="#ff1a1a"/><rect x="1519.5" y="1060.4" width="19.2" height="39.7" fill="#ff1a1a"/><rect x="1538.1" y="1060.4" width="19.2" height="39.7" fill="#f24242"/><rect x="1556.8" y="1060.4" width="19.2" height="39.7" fill="#ed6c6f"/><rect x="1575.5" y="1060.4" width="19.2" height="39.7" fill="#efa3a7"/><rect x="1594.1" y="1060.4" width="19.2" height="39.7" fill="#fbe6e7"/><rect x="1612.8" y="1060.4" width="19.2" height="39.7" fill="#ffffff"/><rect x="1631.4" y="1060.4" width="19.2" height="39.7" fill="#ffffff"/><rect x="1650.1" y="1060.4" width="19.2" height="39.7" fill="#fbe6e7"/><rect x="1668.7" y="1060.4" width="19.2" height="39.7" fill="#fbe6e7"/><rect x="1687.4" y="1060.4" width="19.2" height="39.7" fill="#ffffff"/><rect x="1706" y="1060.4" width="19.2" height="39.7" fill="#ffffff"/><rect x="1724.7" y="1060.4" width="19.2" height="39.7" fill="#ffffff"/><rect x="1743.4" y="1060.4" width="19.2" height="39.7" fill="#ffffff"/><rect x="1762" y="1060.4" width="19.2" height="39.7" fill="#f0f0fe"/><rect x="1780.7" y="1060.4" width="39.8" height="39.7" fill="#b0b0fa"/></g></g>
<rect x="1491.5" y="630.4" width="298.5" height="75.2" fill="url(#g21)"/>
<g clip-path="url(#c22)"><g filter="url(#b22)"><rect x="1461.5" y="1173.1" width="39.8" height="116.6" fill="#1500ff"/><rect x="1500.8" y="1173.1" width="19.2" height="116.6" fill="#483ffb"/><rect x="1519.5" y="1173.1" width="19.2" height="116.6" fill="#ffffff"/><rect x="1538.1" y="1173.1" width="19.2" height="116.6" fill="#fbe6e7"/><rect x="1556.8" y="1173.1" width="19.2" height="116.6" fill="#fbe6e7"/><rect x="1575.5" y="1173.1" width="19.2" height="116.6" fill="#ddddfd"/><rect x="1594.1" y="1173.1" width="19.2" height="116.6" fill="#ffffff"/><rect x="1612.8" y="1173.1" width="19.2" height="116.6" fill="#f5c6c9"/><rect x="1631.4" y="1173.1" width="19.2" height="116.6" fill="#ffffff"/><rect x="1650.1" y="1173.1" width="19.2" height="116.6" fill="#fbe6e7"/><rect x="1668.7" y="1173.1" width="19.2" height="116.6" fill="#f5c6c9"/><rect x="1687.4" y="1173.1" width="19.2" height="116.6" fill="#ec8387"/><rect x="1706" y="1173.1" width="19.2" height="116.6" fill="#f5c6c9"/><rect x="1724.7" y="1173.1" width="19.2" height="116.6" fill="#ffffff"/><rect x="1743.4" y="1173.1" width="19.2" height="116.6" fill="#c7c7fb"/><rect x="1762" y="1173.1" width="19.2" height="116.6" fill="#9696f9"/><rect x="1780.7" y="1173.1" width="39.8" height="116.6" fill="#615ef9"/><rect x="1461.5" y="1289.2" width="39.8" height="15.2" fill="#1500ff"/><rect x="1500.8" y="1289.2" width="19.2" height="15.2" fill="#483ffb"/><rect x="1519.5" y="1289.2" width="19.2" height="15.2" fill="#fbe6e7"/><rect x="1538.1" y="1289.2" width="19.2" height="15.2" fill="#f5c6c9"/><rect x="1556.8" y="1289.2" width="19.2" height="15.2" fill="#b0b0fa"/><rect x="1575.5" y="1289.2" width="19.2" height="15.2" fill="#483ffb"/><rect x="1594.1" y="1289.2" width="19.2" height="15.2" fill="#f0f0fe"/><rect x="1612.8" y="1289.2" width="19.2" height="15.2" fill="#f5c6c9"/><rect x="1631.4" y="1289.2" width="19.2" height="15.2" fill="#ffffff"/><rect x="1650.1" y="1289.2" width="19.2" height="15.2" fill="#f5c6c9"/><rect x="1668.7" y="1289.2" width="19.2" height="15.2" fill="#ec8387"/><rect x="1687.4" y="1289.2" width="19.2" height="15.2" fill="#f24242"/><rect x="1706" y="1289.2" width="19.2" height="15.2" fill="#ef5556"/><rect x="1724.7" y="1289.2" width="19.2" height="15.2" fill="#c7c7fb"/><rect x="1743.4" y="1289.2" width="19.2" height="15.2" fill="#7b7bf8"/><rect x="1762" y="1289.2" width="19.2" height="15.2" fill="#615ef9"/><rect x="1780.7" y="1289.2" width="39.8" height="15.2" fill="#483ffb"/><rect x="1461.5" y="1303.8" width="39.8" height="18.8" fill="#1500ff"/><rect x="1500.8" y="1303.8" width="19.2" height="18.8" fill="#615ef9"/><rect x="1519.5" y="1303.8" width="19.2" height="18.8" fill="#f5c6c9"/><rect x="1538.1" y="1303.8" width="19.2" height="18.8" fill="#efa3a7"/><rect x="1556.8" y="1303.8" width="19.2" height="18.8" fill="#7b7bf8"/><rect x="1575.5" y="1303.8" width="19.2" height="18.8" fill="#1500ff"/><rect x="1594.1" y="1303.8" width="19.2" height="18.8" fill="#ddddfd"/><rect x="1612.8" y="1303.8" width="19.2" height="18.8" fill="#fbe6e7"/><rect x="1631.4" y="1303.8" width="19.2" height="18.8" fill="#ffffff"/><rect x="1650.1" y="1303.8" width="19.2" height="18.8" fill="#f5c6c9"/><rect x="1668.7" y="1303.8" width="19.2" height="18.8" fill="#ed6c6f"/><rect x="1687.4" y="1303.8" width="19.2" height="18.8" fill="#fb2828"/><rect x="1706" y="1303.8" width="19.2" height="18.8" fill="#f63535"/><rect x="1724.7" y="1303.8" width="19.2" height="18.8" fill="#615ef9"/><rect x="1743.4" y="1303.8" width="19.2" height="18.8" fill="#1500ff"/><rect x="1762" y="1303.8" width="19.2" height="18.8" fill="#483ffb"/><rect x="1780.7" y="1303.8" width="39.8" height="18.8" fill="#615ef9"/><rect x="1461.5" y="1322.2" width="39.8" height="18.8" fill="#2f20fd"/><rect x="1500.8" y="1322.2" width="19.2" height="18.8" fill="#c7c7fb"/><rect x="1519.5" y="1322.2" width="19.2" height="18.8" fill="#efa3a7"/><rect x="1538.1" y="1322.2" width="19.2" height="18.8" fill="#f5c6c9"/><rect x="1556.8" y="1322.2" width="19.2" height="18.8" fill="#615ef9"/><rect x="1575.5" y="1322.2" width="19.2" height="18.8" fill="#1500ff"/><rect x="1594.1" y="1322.2" width="19.2" height="18.8" fill="#c7c7fb"/><rect x="1612.8" y="1322.2" width="19.2" height="18.8" fill="#ffffff"/><rect x="1631.4" y="1322.2" width="19.2" height="18.8" fill="#ffffff"/><rect x="1650.1" y="1322.2" width="19.2" height="18.8" fill="#efa3a7"/><rect x="1668.7" y="1322.2" width="19.2" height="18.8" fill="#ef5556"/><rect x="1687.4" y="1322.2" width="19.2" height="18.8" fill="#ff1a1a"/><rect x="1706" y="1322.2" width="19.2" height="18.8" fill="#f63535"/><rect x="1724.7" y="1322.2" width="19.2" height="18.8" fill="#7b7bf8"/><rect x="1743.4" y="1322.2" width="19.2" height="18.8" fill="#1500ff"/><rect x="1762" y="1322.2" width="19.2" height="18.8" fill="#483ffb"/><rect x="1780.7" y="1322.2" width="39.8" height="18.8" fill="#7b7bf8"/><rect x="1461.5" y="1340.5" width="39.8" height="18.8" fill="#9696f9"/><rect x="1500.8" y="1340.5" width="19.2" height="18.8" fill="#ddddfd"/><rect x="1519.5" y="1340.5" width="19.2" height="18.8" fill="#ffffff"/><rect x="1538.1" y="1340.5" width="19.2" height="18.8" fill="#f0f0fe"/><rect x="1556.8" y="1340.5" width="19.2" height="18.8" fill="#b0b0fa"/><rect x="1575.5" y="1340.5" width="19.2" height="18.8" fill="#2f20fd"/><rect x="1594.1" y="1340.5" width="19.2" height="18.8" fill="#615ef9"/><rect x="1612.8" y="1340.5" width="19.2" height="18.8" fill="#f0f0fe"/><rect x="1631.4" y="1340.5" width="19.2" height="18.8" fill="#ffffff"/><rect x="1650.1" y="1340.5" width="19.2" height="18.8" fill="#ec8387"/><rect x="1668.7" y="1340.5" width="19.2" height="18.8" fill="#f24242"/><rect x="1687.4" y="1340.5" width="19.2" height="18.8" fill="#f63535"/><rect x="1706" y="1340.5" width="19.2" height="18.8" fill="#ec8387"/><rect x="1724.7" y="1340.5" width="19.2" height="18.8" fill="#c7c7fb"/><rect x="1743.4" y="1340.5" width="19.2" height="18.8" fill="#483ffb"/><rect x="1762" y="1340.5" width="19.2" height="18.8" fill="#615ef9"/><rect x="1780.7" y="1340.5" width="39.8" height="18.8" fill="#b0b0fa"/><rect x="1461.5" y="1358.8" width="39.8" height="18.8" fill="#b0b0fa"/><rect x="1500.8" y="1358.8" width="19.2" height="18.8" fill="#f0f0fe"/><rect x="1519.5" y="1358.8" width="19.2" height="18.8" fill="#f0f0fe"/><rect x="1538.1" y="1358.8" width="19.2" height="18.8" fill="#ffffff"/><rect x="1556.8" y="1358.8" width="19.2" height="18.8" fill="#ddddfd"/><rect x="1575.5" y="1358.8" width="19.2" height="18.8" fill="#615ef9"/><rect x="1594.1" y="1358.8" width="19.2" height="18.8" fill="#1500ff"/><rect x="1612.8" y="1358.8" width="19.2" height="18.8" fill="#c7c7fb"/><rect x="1631.4" y="1358.8" width="19.2" height="18.8" fill="#ffffff"/><rect x="1650.1" y="1358.8" width="19.2" height="18.8" fill="#ed6c6f"/><rect x="1668.7" y="1358.8" width="19.2" height="18.8" fill="#f63535"/><rect x="1687.4" y="1358.8" width="19.2" height="18.8" fill="#ef5556"/><rect x="1706" y="1358.8" width="19.2" height="18.8" fill="#fbe6e7"/><rect x="1724.7" y="1358.8" width="19.2" height="18.8" fill="#f0f0fe"/><rect x="1743.4" y="1358.8" width="19.2" height="18.8" fill="#b0b0fa"/><rect x="1762" y="1358.8" width="19.2" height="18.8" fill="#b0b0fa"/><rect x="1780.7" y="1358.8" width="39.8" height="18.8" fill="#c7c7fb"/><rect x="1461.5" y="1377.1" width="39.8" height="18.8" fill="#b0b0fa"/><rect x="1500.8" y="1377.1" width="19.2" height="18.8" fill="#ffffff"/><rect x="1519.5" y="1377.1" width="19.2" height="18.8" fill="#fbe6e7"/><rect x="1538.1" y="1377.1" width="19.2" height="18.8" fill="#f5c6c9"/><rect x="1556.8" y="1377.1" width="19.2" height="18.8" fill="#ffffff"/><rect x="1575.5" y="1377.1" width="19.2" height="18.8" fill="#b0b0fa"/><rect x="1594.1" y="1377.1" width="19.2" height="18.8" fill="#1500ff"/><rect x="1612.8" y="1377.1" width="19.2" height="18.8" fill="#9696f9"/><rect x="1631.4" y="1377.1" width="19.2" height="18.8" fill="#ffffff"/><rect x="1650.1" y="1377.1" width="19.2" height="18.8" fill="#ec8387"/><rect x="1668.7" y="1377.1" width="19.2" height="18.8" fill="#f24242"/><rect x="1687.4" y="1377.1" width="19.2" height="18.8" fill="#efa3a7"/><rect x="1706" y="1377.1" width="19.2" height="18.8" fill="#ffffff"/><rect x="1724.7" y="1377.1" width="19.2" height="18.8" fill="#c7c7fb"/><rect x="1743.4" y="1377.1" width="19.2" height="18.8" fill="#c7c7fb"/><rect x="1762" y="1377.1" width="19.2" height="18.8" fill="#ddddfd"/><rect x="1780.7" y="1377.1" width="39.8" height="18.8" fill="#ddddfd"/><rect x="1461.5" y="1395.4" width="39.8" height="18.8" fill="#7b7bf8"/><rect x="1500.8" y="1395.4" width="19.2" height="18.8" fill="#ddddfd"/><rect x="1519.5" y="1395.4" width="19.2" height="18.8" fill="#f5c6c9"/><rect x="1538.1" y="1395.4" width="19.2" height="18.8" fill="#efa3a7"/><rect x="1556.8" y="1395.4" width="19.2" height="18.8" fill="#f5c6c9"/><rect x="1575.5" y="1395.4" width="19.2" height="18.8" fill="#f0f0fe"/><rect x="1594.1" y="1395.4" width="19.2" height="18.8" fill="#483ffb"/><rect x="1612.8" y="1395.4" width="19.2" height="18.8" fill="#615ef9"/><rect x="1631.4" y="1395.4" width="19.2" height="18.8" fill="#f0f0fe"/><rect x="1650.1" y="1395.4" width="19.2" height="18.8" fill="#efa3a7"/><rect x="1668.7" y="1395.4" width="19.2" height="18.8" fill="#f24242"/><rect x="1687.4" y="1395.4" width="19.2" height="18.8" fill="#f5c6c9"/><rect x="1706" y="1395.4" width="19.2" height="18.8" fill="#ffffff"/><rect x="1724.7" y="1395.4" width="19.2" height="18.8" fill="#ddddfd"/><rect x="1743.4" y="1395.4" width="19.2" height="18.8" fill="#ddddfd"/><rect x="1762" y="1395.4" width="19.2" height="18.8" fill="#ddddfd"/><rect x="1780.7" y="1395.4" width="39.8" height="18.8" fill="#c7c7fb"/><rect x="1461.5" y="1413.7" width="39.8" height="18.8" fill="#483ffb"/><rect x="1500.8" y="1413.7" width="19.2" height="18.8" fill="#b0b0fa"/><rect x="1519.5" y="1413.7" width="19.2" height="18.8" fill="#ffffff"/><rect x="1538.1" y="1413.7" width="19.2" height="18.8" fill="#efa3a7"/><rect x="1556.8" y="1413.7" width="19.2" height="18.8" fill="#efa3a7"/><rect x="1575.5" y="1413.7" width="19.2" height="18.8" fill="#ffffff"/><rect x="1594.1" y="1413.7" width="19.2" height="18.8" fill="#b0b0fa"/><rect x="1612.8" y="1413.7" width="19.2" height="18.8" fill="#7b7bf8"/><rect x="1631.4" y="1413.7" width="19.2" height="18.8" fill="#ddddfd"/><rect x="1650.1" y="1413.7" width="19.2" height="18.8" fill="#f5c6c9"/><rect x="1668.7" y="1413.7" width="19.2" height="18.8" fill="#ed6c6f"/><rect x="1687.4" y="1413.7" width="19.2" height="18.8" fill="#fbe6e7"/><rect x="1706" y="1413.7" width="19.2" height="18.8" fill="#ffffff"/><rect x="1724.7" y="1413.7" width="19.2" height="18.8" fill="#ddddfd"/><rect x="1743.4" y="1413.7" width="19.2" height="18.8" fill="#ddddfd"/><rect x="1762" y="1413.7" width="19.2" height="18.8" fill="#c7c7fb"/><rect x="1780.7" y="1413.7" width="39.8" height="18.8" fill="#b0b0fa"/><rect x="1461.5" y="1432.1" width="39.8" height="18.8" fill="#1500ff"/><rect x="1500.8" y="1432.1" width="19.2" height="18.8" fill="#615ef9"/><rect x="1519.5" y="1432.1" width="19.2" height="18.8" fill="#f0f0fe"/><rect x="1538.1" y="1432.1" width="19.2" height="18.8" fill="#efa3a7"/><rect x="1556.8" y="1432.1" width="19.2" height="18.8" fill="#ec8387"/><rect x="1575.5" y="1432.1" width="19.2" height="18.8" fill="#fbe6e7"/><rect x="1594.1" y="1432.1" width="19.2" height="18.8" fill="#ddddfd"/><rect x="1612.8" y="1432.1" width="19.2" height="18.8" fill="#9696f9"/><rect x="1631.4" y="1432.1" width="19.2" height="18.8" fill="#c7c7fb"/><rect x="1650.1" y="1432.1" width="19.2" height="18.8" fill="#fbe6e7"/><rect x="1668.7" y="1432.1" width="19.2" height="18.8" fill="#fbe6e7"/><rect x="1687.4" y="1432.1" width="19.2" height="18.8" fill="#ffffff"/><rect x="1706" y="1432.1" width="19.2" height="18.8" fill="#ffffff"/><rect x="1724.7" y="1432.1" width="19.2" height="18.8" fill="#f0f0fe"/><rect x="1743.4" y="1432.1" width="19.2" height="18.8" fill="#ddddfd"/><rect x="1762" y="1432.1" width="19.2" height="18.8" fill="#c7c7fb"/><rect x="1780.7" y="1432.1" width="39.8" height="18.8" fill="#9696f9"/><rect x="1461.5" y="1450.4" width="39.8" height="28" fill="#1500ff"/><rect x="1500.8" y="1450.4" width="19.2" height="28" fill="#2f20fd"/><rect x="1519.5" y="1450.4" width="19.2" height="28" fill="#ddddfd"/><rect x="1538.1" y="1450.4" width="19.2" height="28" fill="#f2b5b8"/><rect x="1556.8" y="1450.4" width="19.2" height="28" fill="#ec9095"/><rect x="1575.5" y="1450.4" width="19.2" height="28" fill="#f2b5b8"/><rect x="1594.1" y="1450.4" width="19.2" height="28" fill="#fdf4f5"/><rect x="1612.8" y="1450.4" width="19.2" height="28" fill="#ddddfd"/><rect x="1631.4" y="1450.4" width="19.2" height="28" fill="#ddddfd"/><rect x="1650.1" y="1450.4" width="19.2" height="28" fill="#f0f0fe"/><rect x="1668.7" y="1450.4" width="19.2" height="28" fill="#f9f9ff"/><rect x="1687.4" y="1450.4" width="19.2" height="28" fill="#ffffff"/><rect x="1706" y="1450.4" width="19.2" height="28" fill="#fdf4f5"/><rect x="1724.7" y="1450.4" width="19.2" height="28" fill="#fdf4f5"/><rect x="1743.4" y="1450.4" width="19.2" height="28" fill="#ffffff"/><rect x="1762" y="1450.4" width="19.2" height="28" fill="#f0f0fe"/><rect x="1780.7" y="1450.4" width="39.8" height="28" fill="#9696f9"/><rect x="1461.5" y="1477.8" width="39.8" height="37.1" fill="#1500ff"/><rect x="1500.8" y="1477.8" width="19.2" height="37.1" fill="#483ffb"/><rect x="1519.5" y="1477.8" width="19.2" height="37.1" fill="#f0f0fe"/><rect x="1538.1" y="1477.8" width="19.2" height="37.1" fill="#fbe6e7"/><rect x="1556.8" y="1477.8" width="19.2" height="37.1" fill="#efa3a7"/><rect x="1575.5" y="1477.8" width="19.2" height="37.1" fill="#efa3a7"/><rect x="1594.1" y="1477.8" width="19.2" height="37.1" fill="#f5c6c9"/><rect x="1612.8" y="1477.8" width="19.2" height="37.1" fill="#f0f0fe"/><rect x="1631.4" y="1477.8" width="19.2" height="37.1" fill="#f0f0fe"/><rect x="1650.1" y="1477.8" width="19.2" height="37.1" fill="#b0b0fa"/><rect x="1668.7" y="1477.8" width="19.2" height="37.1" fill="#b0b0fa"/><rect x="1687.4" y="1477.8" width="19.2" height="37.1" fill="#ffffff"/><rect x="1706" y="1477.8" width="19.2" height="37.1" fill="#f5c6c9"/><rect x="1724.7" y="1477.8" width="19.2" height="37.1" fill="#f5c6c9"/><rect x="1743.4" y="1477.8" width="19.2" height="37.1" fill="#f5c6c9"/><rect x="1762" y="1477.8" width="19.2" height="37.1" fill="#ffffff"/><rect x="1780.7" y="1477.8" width="39.8" height="37.1" fill="#c7c7fb"/><rect x="1461.5" y="1514.5" width="39.8" height="37.1" fill="#483ffb"/><rect x="1500.8" y="1514.5" width="19.2" height="37.1" fill="#b0b0fa"/><rect x="1519.5" y="1514.5" width="19.2" height="37.1" fill="#f0f0fe"/><rect x="1538.1" y="1514.5" width="19.2" height="37.1" fill="#fbe6e7"/><rect x="1556.8" y="1514.5" width="19.2" height="37.1" fill="#efa3a7"/><rect x="1575.5" y="1514.5" width="19.2" height="37.1" fill="#efa3a7"/><rect x="1594.1" y="1514.5" width="19.2" height="37.1" fill="#f5c6c9"/><rect x="1612.8" y="1514.5" width="19.2" height="37.1" fill="#ffffff"/><rect x="1631.4" y="1514.5" width="19.2" height="37.1" fill="#f0f0fe"/><rect x="1650.1" y="1514.5" width="19.2" height="37.1" fill="#c7c7fb"/><rect x="1668.7" y="1514.5" width="19.2" height="37.1" fill="#f0f0fe"/><rect x="1687.4" y="1514.5" width="19.2" height="37.1" fill="#ffffff"/><rect x="1706" y="1514.5" width="19.2" height="37.1" fill="#f5c6c9"/><rect x="1724.7" y="1514.5" width="19.2" height="37.1" fill="#efa3a7"/><rect x="1743.4" y="1514.5" width="19.2" height="37.1" fill="#fbe6e7"/><rect x="1762" y="1514.5" width="19.2" height="37.1" fill="#f0f0fe"/><rect x="1780.7" y="1514.5" width="39.8" height="37.1" fill="#c7c7fb"/><rect x="1461.5" y="1551.1" width="39.8" height="28" fill="#615ef9"/><rect x="1500.8" y="1551.1" width="19.2" height="28" fill="#b0b0fa"/><rect x="1519.5" y="1551.1" width="19.2" height="28" fill="#ffffff"/><rect x="1538.1" y="1551.1" width="19.2" height="28" fill="#f5c6c9"/><rect x="1556.8" y="1551.1" width="19.2" height="28" fill="#efa3a7"/><rect x="1575.5" y="1551.1" width="19.2" height="28" fill="#f5c6c9"/><rect x="1594.1" y="1551.1" width="19.2" height="28" fill="#f5c6c9"/><rect x="1612.8" y="1551.1" width="19.2" height="28" fill="#ffffff"/><rect x="1631.4" y="1551.1" width="19.2" height="28" fill="#f0f0fe"/><rect x="1650.1" y="1551.1" width="19.2" height="28" fill="#c7c7fb"/><rect x="1668.7" y="1551.1" width="19.2" height="28" fill="#f0f0fe"/><rect x="1687.4" y="1551.1" width="19.2" height="28" fill="#fbe6e7"/><rect x="1706" y="1551.1" width="19.2" height="28" fill="#fbe6e7"/><rect x="1724.7" y="1551.1" width="19.2" height="28" fill="#ffffff"/><rect x="1743.4" y="1551.1" width="19.2" height="28" fill="#ffffff"/><rect x="1762" y="1551.1" width="19.2" height="28" fill="#ddddfd"/><rect x="1780.7" y="1551.1" width="39.8" height="28" fill="#c7c7fb"/><rect x="1461.5" y="1578.6" width="39.8" height="18.8" fill="#483ffb"/><rect x="1500.8" y="1578.6" width="19.2" height="18.8" fill="#b0b0fa"/><rect x="1519.5" y="1578.6" width="19.2" height="18.8" fill="#ffffff"/><rect x="1538.1" y="1578.6" width="19.2" height="18.8" fill="#f5c6c9"/><rect x="1556.8" y="1578.6" width="19.2" height="18.8" fill="#efa3a7"/><rect x="1575.5" y="1578.6" width="19.2" height="18.8" fill="#efa3a7"/><rect x="1594.1" y="1578.6" width="19.2" height="18.8" fill="#f5c6c9"/><rect x="1612.8" y="1578.6" width="19.2" height="18.8" fill="#fbe6e7"/><rect x="1631.4" y="1578.6" width="19.2" height="18.8" fill="#ffffff"/><rect x="1650.1" y="1578.6" width="19.2" height="18.8" fill="#c7c7fb"/><rect x="1668.7" y="1578.6" width="19.2" height="18.8" fill="#f0f0fe"/><rect x="1687.4" y="1578.6" width="19.2" height="18.8" fill="#ffffff"/><rect x="1706" y="1578.6" width="19.2" height="18.8" fill="#fbe6e7"/><rect x="1724.7" y="1578.6" width="19.2" height="18.8" fill="#ffffff"/><rect x="1743.4" y="1578.6" width="19.2" height="18.8" fill="#ffffff"/><rect x="1762" y="1578.6" width="19.2" height="18.8" fill="#ddddfd"/><rect x="1780.7" y="1578.6" width="39.8" height="18.8" fill="#c7c7fb"/><rect x="1461.5" y="1596.9" width="39.8" height="18.8" fill="#1500ff"/><rect x="1500.8" y="1596.9" width="19.2" height="18.8" fill="#7b7bf8"/><rect x="1519.5" y="1596.9" width="19.2" height="18.8" fill="#ffffff"/><rect x="1538.1" y="1596.9" width="19.2" height="18.8" fill="#f5c6c9"/><rect x="1556.8" y="1596.9" width="19.2" height="18.8" fill="#efa3a7"/><rect x="1575.5" y="1596.9" width="19.2" height="18.8" fill="#efa3a7"/><rect x="1594.1" y="1596.9" width="19.2" height="18.8" fill="#efa3a7"/><rect x="1612.8" y="1596.9" width="19.2" height="18.8" fill="#fbe6e7"/><rect x="1631.4" y="1596.9" width="19.2" height="18.8" fill="#ffffff"/><rect x="1650.1" y="1596.9" width="19.2" height="18.8" fill="#ddddfd"/><rect x="1668.7" y="1596.9" width="19.2" height="18.8" fill="#ffffff"/><rect x="1687.4" y="1596.9" width="19.2" height="18.8" fill="#ffffff"/><rect x="1706" y="1596.9" width="19.2" height="18.8" fill="#ffffff"/><rect x="1724.7" y="1596.9" width="19.2" height="18.8" fill="#ffffff"/><rect x="1743.4" y="1596.9" width="19.2" height="18.8" fill="#ffffff"/><rect x="1762" y="1596.9" width="19.2" height="18.8" fill="#f0f0fe"/><rect x="1780.7" y="1596.9" width="39.8" height="18.8" fill="#c7c7fb"/><rect x="1461.5" y="1615.2" width="39.8" height="18.8" fill="#1500ff"/><rect x="1500.8" y="1615.2" width="19.2" height="18.8" fill="#615ef9"/><rect x="1519.5" y="1615.2" width="19.2" height="18.8" fill="#f0f0fe"/><rect x="1538.1" y="1615.2" width="19.2" height="18.8" fill="#efa3a7"/><rect x="1556.8" y="1615.2" width="19.2" height="18.8" fill="#ed6c6f"/><rect x="1575.5" y="1615.2" width="19.2" height="18.8" fill="#ef5556"/><rect x="1594.1" y="1615.2" width="19.2" height="18.8" fill="#ed6c6f"/><rect x="1612.8" y="1615.2" width="19.2" height="18.8" fill="#f5c6c9"/><rect x="1631.4" y="1615.2" width="19.2" height="18.8" fill="#ffffff"/><rect x="1650.1" y="1615.2" width="19.2" height="18.8" fill="#f0f0fe"/><rect x="1668.7" y="1615.2" width="19.2" height="18.8" fill="#ffffff"/><rect x="1687.4" y="1615.2" width="19.2" height="18.8" fill="#ffffff"/><rect x="1706" y="1615.2" width="19.2" height="18.8" fill="#ffffff"/><rect x="1724.7" y="1615.2" width="19.2" height="18.8" fill="#ffffff"/><rect x="1743.4" y="1615.2" width="19.2" height="18.8" fill="#ffffff"/><rect x="1762" y="1615.2" width="19.2" height="18.8" fill="#f0f0fe"/><rect x="1780.7" y="1615.2" width="39.8" height="18.8" fill="#c7c7fb"/><rect x="1461.5" y="1633.5" width="39.8" height="39.7" fill="#1500ff"/><rect x="1500.8" y="1633.5" width="19.2" height="39.7" fill="#615ef9"/><rect x="1519.5" y="1633.5" width="19.2" height="39.7" fill="#f0f0fe"/><rect x="1538.1" y="1633.5" width="19.2" height="39.7" fill="#efa3a7"/><rect x="1556.8" y="1633.5" width="19.2" height="39.7" fill="#ed6c6f"/><rect x="1575.5" y="1633.5" width="19.2" height="39.7" fill="#ef5556"/><rect x="1594.1" y="1633.5" width="19.2" height="39.7" fill="#ed6c6f"/><rect x="1612.8" y="1633.5" width="19.2" height="39.7" fill="#f5c6c9"/><rect x="1631.4" y="1633.5" width="19.2" height="39.7" fill="#ffffff"/><rect x="1650.1" y="1633.5" width="19.2" height="39.7" fill="#ffffff"/><rect x="1668.7" y="1633.5" width="19.2" height="39.7" fill="#ffffff"/><rect x="1687.4" y="1633.5" width="19.2" height="39.7" fill="#ffffff"/><rect x="1706" y="1633.5" width="19.2" height="39.7" fill="#ffffff"/><rect x="1724.7" y="1633.5" width="19.2" height="39.7" fill="#ffffff"/><rect x="1743.4" y="1633.5" width="19.2" height="39.7" fill="#ffffff"/><rect x="1762" y="1633.5" width="19.2" height="39.7" fill="#f0f0fe"/><rect x="1780.7" y="1633.5" width="39.8" height="39.7" fill="#ddddfd"/></g></g>
<rect x="1491.5" y="1203.1" width="298.5" height="75.3" fill="url(#g23)"/>
<g clip-path="url(#frd)">
<path d="M154.3 824.4 C157.7 818 169.2 796.9 174.8 786 C180.4 775 184.7 764.3 187.9 758.5 C191 752.7 191.6 751.2 193.4 751.2 C195.3 751.2 194.1 748.7 199 758.5 C204 768.3 213 788.4 223.3 809.7 C233.5 831.1 250 863.4 260.6 886.6 C271.1 909.8 280.4 935.4 286.7 948.8 C292.9 962.2 294.1 967.1 297.9 967.1 C301.6 967.1 302.8 962.2 309 948.8 C315.3 935.4 324.6 909.8 335.1 886.6 C345.7 863.4 362.2 831.1 372.4 809.7 C382.7 788.4 391.7 768.3 396.7 758.5 C401.6 748.7 400.4 751.2 402.3 751.2 C404.1 751.2 404.7 752.7 407.8 758.5 C411 764.3 415.3 775 420.9 786 C426.5 796.9 438 818 441.4 824.4" fill="none" stroke="#eaa63a" stroke-width="2.8" stroke-dasharray="5.5 5"/>
<path d="M149.8 678 C153.4 683.2 164.4 699.6 171.1 709.1 C177.7 718.5 185.8 729.5 189.7 734.7 C193.6 739.9 192.8 740.2 194.6 740.2 C196.3 740.2 195.4 742.3 200.2 734.7 C204.9 727.1 216 707.9 223.3 694.4 C230.5 681 239.3 662.2 243.8 654.2 C248.3 646.1 248.3 647.3 250.1 646.1 C252 645 252.9 646.3 255 647.2 C257.1 648.2 258.8 650.5 262.8 652 C266.8 653.5 273.4 655.2 279.2 656.4 C285 657.5 291.6 658.9 297.9 658.9 C304.1 658.9 310.7 657.5 316.5 656.4 C322.3 655.2 328.9 653.5 332.9 652 C336.9 650.5 338.6 648.2 340.7 647.2 C342.8 646.3 343.7 645 345.6 646.1 C347.4 647.3 347.4 646.1 351.9 654.2 C356.4 662.2 365.2 681 372.4 694.4 C379.7 707.9 390.8 727.1 395.5 734.7 C400.3 742.3 399.4 740.2 401.1 740.2 C402.9 740.2 402.1 739.9 406 734.7 C409.9 729.5 418 718.5 424.6 709.1 C431.3 699.6 442.3 683.2 445.9 678" fill="none" stroke="#eaa63a" stroke-width="2.8" stroke-dasharray="5.5 5"/>
<path d="M162.9 688.6 C164.9 684.7 170.3 674.9 174.8 665.2 C179.3 655.5 187.5 636.2 190.1 630.4" fill="none" stroke="#eaa63a" stroke-width="2.8" stroke-dasharray="5.5 5"/>
<path d="M432.8 688.6 C430.8 684.7 425.4 674.9 420.9 665.2 C416.4 655.5 408.2 636.2 405.6 630.4" fill="none" stroke="#eaa63a" stroke-width="2.8" stroke-dasharray="5.5 5"/>
<path d="M148.7 712.4 C154.9 706.2 173.6 687.5 186 675.1 C198.4 662.6 216.1 644.9 223.3 637.7 C230.5 630.5 228.2 632.8 229.2 631.9" fill="none" stroke="#eaa63a" stroke-width="2.8" stroke-dasharray="5.5 5"/>
<path d="M241.2 628.6 C242 630 244.8 637.4 246.4 637.4 C248 637.4 250.1 630 250.9 628.6" fill="none" stroke="#eaa63a" stroke-width="2.8" stroke-dasharray="5.5 5"/>
<path d="M354.5 628.6 C353.7 630 350.9 637.4 349.3 637.4 C347.7 637.4 345.6 630 344.8 628.6" fill="none" stroke="#eaa63a" stroke-width="2.8" stroke-dasharray="5.5 5"/>
<path d="M154.7 992.7 C163.7 1005.5 200 1056.8 209.1 1069.6" fill="none" stroke="#eaa63a" stroke-width="2.8" stroke-dasharray="5.5 5"/>
<path d="M441 992.7 C432 1005.5 395.7 1056.8 386.6 1069.6" fill="none" stroke="#eaa63a" stroke-width="2.8" stroke-dasharray="5.5 5"/>
</g>
<g clip-path="url(#fre)">
<path d="M626.6 824.4 C630 818 641.5 796.9 647.1 786 C652.7 775 657.1 764.3 660.2 758.5 C663.3 752.7 663.9 751.2 665.8 751.2 C667.6 751.2 666.4 748.7 671.4 758.5 C676.3 768.3 685.4 788.4 695.6 809.7 C705.9 831.1 722.4 863.4 732.9 886.6 C743.5 909.8 752.8 935.4 759.1 948.8 C765.3 962.2 766.5 967.1 770.2 967.1 C774 967.1 775.2 962.2 781.4 948.8 C787.7 935.4 797 909.8 807.6 886.6 C818.1 863.4 834.6 831.1 844.9 809.7 C855.1 788.4 864.2 768.3 869.1 758.5 C874.1 748.7 872.9 751.2 874.7 751.2 C876.6 751.2 877.2 752.7 880.3 758.5 C883.4 764.3 887.8 775 893.4 786 C899 796.9 910.5 818 913.9 824.4" fill="none" stroke="#eaa63a" stroke-width="2.8" stroke-dasharray="5.5 5"/>
<path d="M622.1 678 C625.7 683.2 636.7 699.6 643.4 709.1 C650 718.5 658.1 729.5 662 734.7 C666 739.9 665.2 740.2 666.9 740.2 C668.6 740.2 667.7 742.3 672.5 734.7 C677.3 727.1 688.3 707.9 695.6 694.4 C702.9 681 711.7 662.2 716.1 654.2 C720.6 646.1 720.6 647.3 722.5 646.1 C724.4 645 725.2 646.3 727.3 647.2 C729.5 648.2 731.1 650.5 735.2 652 C739.2 653.5 745.7 655.2 751.6 656.4 C757.4 657.5 764 658.9 770.2 658.9 C776.5 658.9 783.1 657.5 788.9 656.4 C794.8 655.2 801.3 653.5 805.3 652 C809.4 650.5 811 648.2 813.2 647.2 C815.3 646.3 816.1 645 818 646.1 C819.9 647.3 819.9 646.1 824.4 654.2 C828.8 662.2 837.6 681 844.9 694.4 C852.2 707.9 863.2 727.1 868 734.7 C872.8 742.3 871.9 740.2 873.6 740.2 C875.3 740.2 874.5 739.9 878.5 734.7 C882.4 729.5 890.5 718.5 897.1 709.1 C903.8 699.6 914.8 683.2 918.4 678" fill="none" stroke="#eaa63a" stroke-width="2.8" stroke-dasharray="5.5 5"/>
<path d="M635.2 688.6 C637.2 684.7 642.6 674.9 647.1 665.2 C651.7 655.5 659.9 636.2 662.4 630.4" fill="none" stroke="#eaa63a" stroke-width="2.8" stroke-dasharray="5.5 5"/>
<path d="M905.3 688.6 C903.3 684.7 897.9 674.9 893.4 665.2 C888.8 655.5 880.6 636.2 878.1 630.4" fill="none" stroke="#eaa63a" stroke-width="2.8" stroke-dasharray="5.5 5"/>
<path d="M621 712.4 C627.2 706.2 645.9 687.5 658.3 675.1 C670.8 662.6 688.4 644.9 695.6 637.7 C702.8 630.5 700.6 632.8 701.6 631.9" fill="none" stroke="#eaa63a" stroke-width="2.8" stroke-dasharray="5.5 5"/>
<path d="M713.5 628.6 C714.4 630 717.1 637.4 718.8 637.4 C720.4 637.4 722.5 630 723.2 628.6" fill="none" stroke="#eaa63a" stroke-width="2.8" stroke-dasharray="5.5 5"/>
<path d="M827 628.6 C826.1 630 823.4 637.4 821.7 637.4 C820.1 637.4 818 630 817.3 628.6" fill="none" stroke="#eaa63a" stroke-width="2.8" stroke-dasharray="5.5 5"/>
<path d="M627 992.7 C636 1005.5 672.4 1056.8 681.4 1069.6" fill="none" stroke="#eaa63a" stroke-width="2.8" stroke-dasharray="5.5 5"/>
<path d="M913.5 992.7 C904.5 1005.5 868.1 1056.8 859.1 1069.6" fill="none" stroke="#eaa63a" stroke-width="2.8" stroke-dasharray="5.5 5"/>
</g>
<g clip-path="url(#frf)">
<path d="M1011.1 824.4 C1014.5 818 1026 796.9 1031.6 786 C1037.2 775 1041.6 764.3 1044.7 758.5 C1047.8 752.7 1048.4 751.2 1050.3 751.2 C1052.1 751.2 1050.9 748.7 1055.9 758.5 C1060.8 768.3 1069.9 788.4 1080.1 809.7 C1090.4 831.1 1106.9 863.4 1117.4 886.6 C1128 909.8 1137.3 935.4 1143.6 948.8 C1149.8 962.2 1151 967.1 1154.8 967.1 C1158.5 967.1 1159.7 962.2 1165.9 948.8 C1172.2 935.4 1181.5 909.8 1192.1 886.6 C1202.6 863.4 1219.1 831.1 1229.4 809.7 C1239.6 788.4 1248.7 768.3 1253.6 758.5 C1258.6 748.7 1257.4 751.2 1259.2 751.2 C1261.1 751.2 1261.7 752.7 1264.8 758.5 C1267.9 764.3 1272.3 775 1277.9 786 C1283.5 796.9 1295 818 1298.4 824.4" fill="none" stroke="#eaa63a" stroke-width="2.8" stroke-dasharray="5.5 5"/>
<path d="M1006.6 678 C1010.2 683.2 1021.2 699.6 1027.9 709.1 C1034.5 718.5 1042.6 729.5 1046.5 734.7 C1050.5 739.9 1049.7 740.2 1051.4 740.2 C1053.1 740.2 1052.2 742.3 1057 734.7 C1061.8 727.1 1072.8 707.9 1080.1 694.4 C1087.4 681 1096.2 662.2 1100.6 654.2 C1105.1 646.1 1105.1 647.3 1107 646.1 C1108.9 645 1109.7 646.3 1111.8 647.2 C1114 648.2 1115.6 650.5 1119.7 652 C1123.7 653.5 1130.2 655.2 1136.1 656.4 C1141.9 657.5 1148.5 658.9 1154.8 658.9 C1161 658.9 1167.6 657.5 1173.4 656.4 C1179.3 655.2 1185.8 653.5 1189.8 652 C1193.9 650.5 1195.5 648.2 1197.7 647.2 C1199.8 646.3 1200.6 645 1202.5 646.1 C1204.4 647.3 1204.4 646.1 1208.9 654.2 C1213.3 662.2 1222.1 681 1229.4 694.4 C1236.7 707.9 1247.7 727.1 1252.5 734.7 C1257.3 742.3 1256.4 740.2 1258.1 740.2 C1259.8 740.2 1259 739.9 1263 734.7 C1266.9 729.5 1275 718.5 1281.6 709.1 C1288.3 699.6 1299.3 683.2 1302.9 678" fill="none" stroke="#eaa63a" stroke-width="2.8" stroke-dasharray="5.5 5"/>
<path d="M1019.7 688.6 C1021.7 684.7 1027.1 674.9 1031.6 665.2 C1036.2 655.5 1044.4 636.2 1046.9 630.4" fill="none" stroke="#eaa63a" stroke-width="2.8" stroke-dasharray="5.5 5"/>
<path d="M1289.8 688.6 C1287.8 684.7 1282.4 674.9 1277.9 665.2 C1273.3 655.5 1265.1 636.2 1262.6 630.4" fill="none" stroke="#eaa63a" stroke-width="2.8" stroke-dasharray="5.5 5"/>
<path d="M1005.5 712.4 C1011.7 706.2 1030.4 687.5 1042.8 675.1 C1055.2 662.6 1072.9 644.9 1080.1 637.7 C1087.3 630.5 1085.1 632.8 1086.1 631.9" fill="none" stroke="#eaa63a" stroke-width="2.8" stroke-dasharray="5.5 5"/>
<path d="M1098 628.6 C1098.9 630 1101.6 637.4 1103.3 637.4 C1104.9 637.4 1107 630 1107.7 628.6" fill="none" stroke="#eaa63a" stroke-width="2.8" stroke-dasharray="5.5 5"/>
<path d="M1211.5 628.6 C1210.6 630 1207.9 637.4 1206.2 637.4 C1204.6 637.4 1202.5 630 1201.8 628.6" fill="none" stroke="#eaa63a" stroke-width="2.8" stroke-dasharray="5.5 5"/>
<path d="M1011.5 992.7 C1020.5 1005.5 1056.9 1056.8 1065.9 1069.6" fill="none" stroke="#eaa63a" stroke-width="2.8" stroke-dasharray="5.5 5"/>
<path d="M1298 992.7 C1289 1005.5 1252.6 1056.8 1243.6 1069.6" fill="none" stroke="#eaa63a" stroke-width="2.8" stroke-dasharray="5.5 5"/>
</g>
<g clip-path="url(#frg)">
<path d="M1497.1 824.4 C1500.5 818 1512 796.9 1517.6 786 C1523.2 775 1527.6 764.3 1530.7 758.5 C1533.8 752.7 1534.4 751.2 1536.3 751.2 C1538.1 751.2 1536.9 748.7 1541.9 758.5 C1546.8 768.3 1555.9 788.4 1566.1 809.7 C1576.4 831.1 1592.9 863.4 1603.4 886.6 C1614 909.8 1623.3 935.4 1629.6 948.8 C1635.8 962.2 1637 967.1 1640.8 967.1 C1644.5 967.1 1645.7 962.2 1651.9 948.8 C1658.2 935.4 1667.5 909.8 1678.1 886.6 C1688.6 863.4 1705.1 831.1 1715.4 809.7 C1725.6 788.4 1734.7 768.3 1739.6 758.5 C1744.6 748.7 1743.4 751.2 1745.2 751.2 C1747.1 751.2 1747.7 752.7 1750.8 758.5 C1753.9 764.3 1758.3 775 1763.9 786 C1769.5 796.9 1781 818 1784.4 824.4" fill="none" stroke="#000" stroke-width="2.8" stroke-dasharray="5.5 5"/>
<path d="M1492.6 678 C1496.2 683.2 1507.2 699.6 1513.9 709.1 C1520.5 718.5 1528.6 729.5 1532.5 734.7 C1536.5 739.9 1535.7 740.2 1537.4 740.2 C1539.1 740.2 1538.2 742.3 1543 734.7 C1547.8 727.1 1558.8 707.9 1566.1 694.4 C1573.4 681 1582.2 662.2 1586.6 654.2 C1591.1 646.1 1591.1 647.3 1593 646.1 C1594.9 645 1595.7 646.3 1597.8 647.2 C1600 648.2 1601.6 650.5 1605.7 652 C1609.7 653.5 1616.2 655.2 1622.1 656.4 C1627.9 657.5 1634.5 658.9 1640.8 658.9 C1647 658.9 1653.6 657.5 1659.4 656.4 C1665.3 655.2 1671.8 653.5 1675.8 652 C1679.9 650.5 1681.5 648.2 1683.7 647.2 C1685.8 646.3 1686.6 645 1688.5 646.1 C1690.4 647.3 1690.4 646.1 1694.9 654.2 C1699.3 662.2 1708.1 681 1715.4 694.4 C1722.7 707.9 1733.7 727.1 1738.5 734.7 C1743.3 742.3 1742.4 740.2 1744.1 740.2 C1745.8 740.2 1745 739.9 1749 734.7 C1752.9 729.5 1761 718.5 1767.6 709.1 C1774.3 699.6 1785.3 683.2 1788.9 678" fill="none" stroke="#000" stroke-width="2.8" stroke-dasharray="5.5 5"/>
<path d="M1505.7 688.6 C1507.7 684.7 1513.1 674.9 1517.6 665.2 C1522.2 655.5 1530.4 636.2 1532.9 630.4" fill="none" stroke="#000" stroke-width="2.8" stroke-dasharray="5.5 5"/>
<path d="M1775.8 688.6 C1773.8 684.7 1768.4 674.9 1763.9 665.2 C1759.3 655.5 1751.1 636.2 1748.6 630.4" fill="none" stroke="#000" stroke-width="2.8" stroke-dasharray="5.5 5"/>
<path d="M1491.5 712.4 C1497.7 706.2 1516.4 687.5 1528.8 675.1 C1541.2 662.6 1558.9 644.9 1566.1 637.7 C1573.3 630.5 1571.1 632.8 1572.1 631.9" fill="none" stroke="#000" stroke-width="2.8" stroke-dasharray="5.5 5"/>
<path d="M1584 628.6 C1584.9 630 1587.6 637.4 1589.3 637.4 C1590.9 637.4 1593 630 1593.7 628.6" fill="none" stroke="#000" stroke-width="2.8" stroke-dasharray="5.5 5"/>
<path d="M1697.5 628.6 C1696.6 630 1693.9 637.4 1692.2 637.4 C1690.6 637.4 1688.5 630 1687.8 628.6" fill="none" stroke="#000" stroke-width="2.8" stroke-dasharray="5.5 5"/>
<path d="M1497.5 992.7 C1506.5 1005.5 1542.9 1056.8 1551.9 1069.6" fill="none" stroke="#000" stroke-width="2.8" stroke-dasharray="5.5 5"/>
<path d="M1784 992.7 C1775 1005.5 1738.6 1056.8 1729.6 1069.6" fill="none" stroke="#000" stroke-width="2.8" stroke-dasharray="5.5 5"/>
</g>
<g clip-path="url(#frh)">
<path d="M156.5 1215.6 C160.1 1219.4 171.8 1238 177.8 1238.6 C183.8 1239.3 187.4 1224 192.3 1219.6 C197.2 1215.2 202.1 1212 207.2 1212.3 C212.4 1212.6 216.1 1217 223.3 1221.4 C230.4 1225.8 242 1234.4 250.1 1238.6 C258.2 1242.9 263.8 1245.3 271.7 1247.1 C279.7 1248.8 289.1 1249.3 297.9 1249.3 C306.6 1249.3 316 1248.8 324 1247.1 C331.9 1245.3 337.5 1242.9 345.6 1238.6 C353.7 1234.4 365.3 1225.8 372.4 1221.4 C379.6 1217 383.3 1212.6 388.5 1212.3 C393.6 1212 398.5 1215.2 403.4 1219.6 C408.3 1224 411.9 1239.3 417.9 1238.6 C423.9 1238 435.6 1219.4 439.2 1215.6" fill="none" stroke="#eaa63a" stroke-width="2.8" stroke-dasharray="5.5 5"/>
<path d="M156.5 1287 C159 1282.8 167 1267.3 171.1 1261.7 C175.2 1256.1 177.4 1253.3 181.1 1253.3 C184.9 1253.3 187.4 1254 193.4 1261.7 C199.5 1269.4 210.5 1297 217.3 1299.4 C224.1 1301.9 227.9 1285.5 234.5 1276.4 C241 1267.2 249 1254.9 256.5 1244.5 C263.9 1234.1 272.3 1221 279.2 1214.1 C286.1 1207.2 291.6 1203.1 297.9 1203.1 C304.1 1203.1 309.6 1207.2 316.5 1214.1 C323.4 1221 331.8 1234.1 339.2 1244.5 C346.7 1254.9 354.7 1267.2 361.2 1276.4 C367.8 1285.5 371.6 1301.9 378.4 1299.4 C385.2 1297 396.2 1269.4 402.3 1261.7 C408.3 1254 410.8 1253.3 414.6 1253.3 C418.3 1253.3 420.5 1256.1 424.6 1261.7 C428.7 1267.3 436.7 1282.8 439.2 1287" fill="none" stroke="#eaa63a" stroke-width="2.8" stroke-dasharray="5.5 5"/>
<path d="M156.5 1446 C161.4 1435.4 177 1401.1 186 1382.6 C194.9 1364.1 204.5 1344.1 210.2 1335 C215.9 1325.8 216.9 1327.7 220.3 1327.7 C223.7 1327.7 225.3 1327 230.7 1335 C236.2 1342.9 245 1358.2 253.1 1375.3 C261.2 1392.4 271.7 1423 279.2 1437.6 C286.7 1452.1 291.6 1462.8 297.9 1462.8 C304.1 1462.8 309 1452.1 316.5 1437.6 C324 1423 334.5 1392.4 342.6 1375.3 C350.7 1358.2 359.5 1342.9 365 1335 C370.4 1327 372 1327.7 375.4 1327.7 C378.8 1327.7 379.8 1325.8 385.5 1335 C391.2 1344.1 400.8 1364.1 409.7 1382.6 C418.7 1401.1 434.3 1435.4 439.2 1446" fill="none" stroke="#eaa63a" stroke-width="2.8" stroke-dasharray="5.5 5"/>
<path d="M156.2 1528 C160.5 1534 173.9 1553.4 182.3 1563.9 C190.6 1574.5 196.7 1582.3 206.5 1591.4 C216.3 1600.6 229.3 1612.9 240.8 1618.9 C252.3 1624.9 266 1625.6 275.5 1627.3 C285 1629 290.4 1629.1 297.9 1629.1 C305.3 1629.1 310.7 1629 320.2 1627.3 C329.7 1625.6 343.4 1624.9 354.9 1618.9 C366.4 1612.9 379.4 1600.6 389.2 1591.4 C399 1582.3 405.1 1574.5 413.4 1563.9 C421.8 1553.4 435.2 1534 439.5 1528" fill="none" stroke="#eaa63a" stroke-width="2.8" stroke-dasharray="5.5 5"/>
<path d="M277.7 1640.9 C279.2 1637.5 283.1 1625.9 286.7 1620.7 C290.2 1615.5 295.2 1610 299 1609.7 C302.7 1609.4 306.2 1614.6 309 1618.9 C311.8 1623.2 314.2 1631.7 315.7 1635.4 C317.3 1639 317.9 1640 318.4 1640.9" fill="none" stroke="#eaa63a" stroke-width="2.8" stroke-dasharray="5.5 5"/>
</g>
<g clip-path="url(#fri)">
<path d="M628.8 1215.6 C632.4 1219.4 644.1 1238 650.1 1238.6 C656.1 1239.3 659.7 1224 664.7 1219.6 C669.6 1215.2 674.4 1212 679.6 1212.3 C684.7 1212.6 688.5 1217 695.6 1221.4 C702.8 1225.8 714.4 1234.4 722.5 1238.6 C730.6 1242.9 736.2 1245.3 744.1 1247.1 C752.1 1248.8 761.5 1249.3 770.2 1249.3 C779 1249.3 788.4 1248.8 796.4 1247.1 C804.3 1245.3 809.9 1242.9 818 1238.6 C826.1 1234.4 837.7 1225.8 844.9 1221.4 C852 1217 855.8 1212.6 860.9 1212.3 C866.1 1212 870.9 1215.2 875.8 1219.6 C880.8 1224 884.4 1239.3 890.4 1238.6 C896.4 1238 908.1 1219.4 911.7 1215.6" fill="none" stroke="#eaa63a" stroke-width="2.8" stroke-dasharray="5.5 5"/>
<path d="M628.8 1287 C631.3 1282.8 639.3 1267.3 643.4 1261.7 C647.5 1256.1 649.7 1253.3 653.5 1253.3 C657.2 1253.3 659.7 1254 665.8 1261.7 C671.8 1269.4 682.8 1297 689.7 1299.4 C696.5 1301.9 700.3 1285.5 706.8 1276.4 C713.3 1267.2 721.4 1254.9 728.8 1244.5 C736.3 1234.1 744.7 1221 751.6 1214.1 C758.5 1207.2 764 1203.1 770.2 1203.1 C776.5 1203.1 782 1207.2 788.9 1214.1 C795.8 1221 804.2 1234.1 811.7 1244.5 C819.1 1254.9 827.2 1267.2 833.7 1276.4 C840.2 1285.5 844 1301.9 850.8 1299.4 C857.7 1297 868.7 1269.4 874.7 1261.7 C880.8 1254 883.3 1253.3 887 1253.3 C890.8 1253.3 893 1256.1 897.1 1261.7 C901.2 1267.3 909.2 1282.8 911.7 1287" fill="none" stroke="#eaa63a" stroke-width="2.8" stroke-dasharray="5.5 5"/>
<path d="M628.8 1446 C633.7 1435.4 649.4 1401.1 658.3 1382.6 C667.3 1364.1 676.8 1344.1 682.6 1335 C688.3 1325.8 689.2 1327.7 692.6 1327.7 C696.1 1327.7 697.6 1327 703.1 1335 C708.6 1342.9 717.4 1358.2 725.5 1375.3 C733.6 1392.4 744.1 1423 751.6 1437.6 C759.1 1452.1 764 1462.8 770.2 1462.8 C776.5 1462.8 781.4 1452.1 788.9 1437.6 C796.4 1423 806.9 1392.4 815 1375.3 C823.1 1358.2 831.9 1342.9 837.4 1335 C842.9 1327 844.4 1327.7 847.9 1327.7 C851.3 1327.7 852.2 1325.8 857.9 1335 C863.7 1344.1 873.2 1364.1 882.2 1382.6 C891.1 1401.1 906.8 1435.4 911.7 1446" fill="none" stroke="#eaa63a" stroke-width="2.8" stroke-dasharray="5.5 5"/>
<path d="M628.5 1528 C632.8 1534 646.2 1553.4 654.6 1563.9 C663 1574.5 669.1 1582.3 678.8 1591.4 C688.6 1600.6 701.7 1612.9 713.2 1618.9 C724.7 1624.9 738.3 1625.6 747.9 1627.3 C757.4 1629 762.8 1629.1 770.2 1629.1 C777.7 1629.1 783.1 1629 792.6 1627.3 C802.2 1625.6 815.8 1624.9 827.3 1618.9 C838.8 1612.9 851.9 1600.6 861.7 1591.4 C871.4 1582.3 877.5 1574.5 885.9 1563.9 C894.3 1553.4 907.7 1534 912 1528" fill="none" stroke="#eaa63a" stroke-width="2.8" stroke-dasharray="5.5 5"/>
<path d="M750.1 1640.9 C751.6 1637.5 755.5 1625.9 759.1 1620.7 C762.6 1615.5 767.6 1610 771.4 1609.7 C775.1 1609.4 778.6 1614.6 781.4 1618.9 C784.2 1623.2 786.6 1631.7 788.2 1635.4 C789.7 1639 790.3 1640 790.8 1640.9" fill="none" stroke="#eaa63a" stroke-width="2.8" stroke-dasharray="5.5 5"/>
</g>
<g clip-path="url(#frj)">
<path d="M1013.3 1215.6 C1016.9 1219.4 1028.6 1238 1034.6 1238.6 C1040.6 1239.3 1044.2 1224 1049.2 1219.6 C1054.1 1215.2 1058.9 1212 1064.1 1212.3 C1069.2 1212.6 1073 1217 1080.1 1221.4 C1087.3 1225.8 1098.9 1234.4 1107 1238.6 C1115.1 1242.9 1120.7 1245.3 1128.6 1247.1 C1136.6 1248.8 1146 1249.3 1154.8 1249.3 C1163.5 1249.3 1172.9 1248.8 1180.9 1247.1 C1188.8 1245.3 1194.4 1242.9 1202.5 1238.6 C1210.6 1234.4 1222.2 1225.8 1229.4 1221.4 C1236.5 1217 1240.3 1212.6 1245.4 1212.3 C1250.6 1212 1255.4 1215.2 1260.3 1219.6 C1265.3 1224 1268.9 1239.3 1274.9 1238.6 C1280.9 1238 1292.6 1219.4 1296.2 1215.6" fill="none" stroke="#eaa63a" stroke-width="2.8" stroke-dasharray="5.5 5"/>
<path d="M1013.3 1287 C1015.8 1282.8 1023.8 1267.3 1027.9 1261.7 C1032 1256.1 1034.2 1253.3 1038 1253.3 C1041.7 1253.3 1044.2 1254 1050.3 1261.7 C1056.3 1269.4 1067.3 1297 1074.2 1299.4 C1081 1301.9 1084.8 1285.5 1091.3 1276.4 C1097.8 1267.2 1105.9 1254.9 1113.3 1244.5 C1120.8 1234.1 1129.2 1221 1136.1 1214.1 C1143 1207.2 1148.5 1203.1 1154.8 1203.1 C1161 1203.1 1166.5 1207.2 1173.4 1214.1 C1180.3 1221 1188.7 1234.1 1196.2 1244.5 C1203.6 1254.9 1211.7 1267.2 1218.2 1276.4 C1224.7 1285.5 1228.5 1301.9 1235.3 1299.4 C1242.2 1297 1253.2 1269.4 1259.2 1261.7 C1265.3 1254 1267.8 1253.3 1271.5 1253.3 C1275.3 1253.3 1277.5 1256.1 1281.6 1261.7 C1285.7 1267.3 1293.7 1282.8 1296.2 1287" fill="none" stroke="#eaa63a" stroke-width="2.8" stroke-dasharray="5.5 5"/>
<path d="M1013.3 1446 C1018.2 1435.4 1033.9 1401.1 1042.8 1382.6 C1051.8 1364.1 1061.3 1344.1 1067.1 1335 C1072.8 1325.8 1073.7 1327.7 1077.1 1327.7 C1080.6 1327.7 1082.1 1327 1087.6 1335 C1093.1 1342.9 1101.9 1358.2 1110 1375.3 C1118.1 1392.4 1128.6 1423 1136.1 1437.6 C1143.6 1452.1 1148.5 1462.8 1154.8 1462.8 C1161 1462.8 1165.9 1452.1 1173.4 1437.6 C1180.9 1423 1191.4 1392.4 1199.5 1375.3 C1207.6 1358.2 1216.4 1342.9 1221.9 1335 C1227.4 1327 1228.9 1327.7 1232.4 1327.7 C1235.8 1327.7 1236.7 1325.8 1242.4 1335 C1248.2 1344.1 1257.7 1364.1 1266.7 1382.6 C1275.6 1401.1 1291.3 1435.4 1296.2 1446" fill="none" stroke="#eaa63a" stroke-width="2.8" stroke-dasharray="5.5 5"/>
<path d="M1013 1528 C1017.3 1534 1030.7 1553.4 1039.1 1563.9 C1047.5 1574.5 1053.6 1582.3 1063.3 1591.4 C1073.1 1600.6 1086.2 1612.9 1097.7 1618.9 C1109.2 1624.9 1122.8 1625.6 1132.4 1627.3 C1141.9 1629 1147.3 1629.1 1154.8 1629.1 C1162.2 1629.1 1167.6 1629 1177.1 1627.3 C1186.7 1625.6 1200.3 1624.9 1211.8 1618.9 C1223.3 1612.9 1236.4 1600.6 1246.2 1591.4 C1255.9 1582.3 1262 1574.5 1270.4 1563.9 C1278.8 1553.4 1292.2 1534 1296.5 1528" fill="none" stroke="#eaa63a" stroke-width="2.8" stroke-dasharray="5.5 5"/>
<path d="M1134.6 1640.9 C1136.1 1637.5 1140 1625.9 1143.6 1620.7 C1147.1 1615.5 1152.1 1610 1155.9 1609.7 C1159.6 1609.4 1163.1 1614.6 1165.9 1618.9 C1168.7 1623.2 1171.1 1631.7 1172.7 1635.4 C1174.2 1639 1174.8 1640 1175.3 1640.9" fill="none" stroke="#eaa63a" stroke-width="2.8" stroke-dasharray="5.5 5"/>
</g>
<g clip-path="url(#frk)">
<path d="M1499.3 1215.6 C1502.9 1219.4 1514.6 1238 1520.6 1238.6 C1526.6 1239.3 1530.2 1224 1535.2 1219.6 C1540.1 1215.2 1544.9 1212 1550.1 1212.3 C1555.2 1212.6 1559 1217 1566.1 1221.4 C1573.3 1225.8 1584.9 1234.4 1593 1238.6 C1601.1 1242.9 1606.7 1245.3 1614.6 1247.1 C1622.6 1248.8 1632 1249.3 1640.8 1249.3 C1649.5 1249.3 1658.9 1248.8 1666.9 1247.1 C1674.8 1245.3 1680.4 1242.9 1688.5 1238.6 C1696.6 1234.4 1708.2 1225.8 1715.4 1221.4 C1722.5 1217 1726.3 1212.6 1731.4 1212.3 C1736.6 1212 1741.4 1215.2 1746.3 1219.6 C1751.3 1224 1754.9 1239.3 1760.9 1238.6 C1766.9 1238 1778.6 1219.4 1782.2 1215.6" fill="none" stroke="#000" stroke-width="2.8" stroke-dasharray="5.5 5"/>
<path d="M1499.3 1287 C1501.8 1282.8 1509.8 1267.3 1513.9 1261.7 C1518 1256.1 1520.2 1253.3 1524 1253.3 C1527.7 1253.3 1530.2 1254 1536.3 1261.7 C1542.3 1269.4 1553.3 1297 1560.2 1299.4 C1567 1301.9 1570.8 1285.5 1577.3 1276.4 C1583.8 1267.2 1591.9 1254.9 1599.3 1244.5 C1606.8 1234.1 1615.2 1221 1622.1 1214.1 C1629 1207.2 1634.5 1203.1 1640.8 1203.1 C1647 1203.1 1652.5 1207.2 1659.4 1214.1 C1666.3 1221 1674.7 1234.1 1682.2 1244.5 C1689.6 1254.9 1697.7 1267.2 1704.2 1276.4 C1710.7 1285.5 1714.5 1301.9 1721.3 1299.4 C1728.2 1297 1739.2 1269.4 1745.2 1261.7 C1751.3 1254 1753.8 1253.3 1757.5 1253.3 C1761.3 1253.3 1763.5 1256.1 1767.6 1261.7 C1771.7 1267.3 1779.7 1282.8 1782.2 1287" fill="none" stroke="#000" stroke-width="2.8" stroke-dasharray="5.5 5"/>
<path d="M1499.3 1446 C1504.2 1435.4 1519.9 1401.1 1528.8 1382.6 C1537.8 1364.1 1547.3 1344.1 1553.1 1335 C1558.8 1325.8 1559.7 1327.7 1563.1 1327.7 C1566.6 1327.7 1568.1 1327 1573.6 1335 C1579.1 1342.9 1587.9 1358.2 1596 1375.3 C1604.1 1392.4 1614.6 1423 1622.1 1437.6 C1629.6 1452.1 1634.5 1462.8 1640.8 1462.8 C1647 1462.8 1651.9 1452.1 1659.4 1437.6 C1666.9 1423 1677.4 1392.4 1685.5 1375.3 C1693.6 1358.2 1702.4 1342.9 1707.9 1335 C1713.4 1327 1714.9 1327.7 1718.4 1327.7 C1721.8 1327.7 1722.7 1325.8 1728.4 1335 C1734.2 1344.1 1743.7 1364.1 1752.7 1382.6 C1761.6 1401.1 1777.3 1435.4 1782.2 1446" fill="none" stroke="#000" stroke-width="2.8" stroke-dasharray="5.5 5"/>
<path d="M1499 1528 C1503.3 1534 1516.7 1553.4 1525.1 1563.9 C1533.5 1574.5 1539.6 1582.3 1549.3 1591.4 C1559.1 1600.6 1572.2 1612.9 1583.7 1618.9 C1595.2 1624.9 1608.8 1625.6 1618.4 1627.3 C1627.9 1629 1633.3 1629.1 1640.8 1629.1 C1648.2 1629.1 1653.6 1629 1663.1 1627.3 C1672.7 1625.6 1686.3 1624.9 1697.8 1618.9 C1709.3 1612.9 1722.4 1600.6 1732.2 1591.4 C1741.9 1582.3 1748 1574.5 1756.4 1563.9 C1764.8 1553.4 1778.2 1534 1782.5 1528" fill="none" stroke="#000" stroke-width="2.8" stroke-dasharray="5.5 5"/>
<path d="M1620.6 1640.9 C1622.1 1637.5 1626 1625.9 1629.6 1620.7 C1633.1 1615.5 1638.1 1610 1641.9 1609.7 C1645.6 1609.4 1649.1 1614.6 1651.9 1618.9 C1654.7 1623.2 1657.1 1631.7 1658.7 1635.4 C1660.2 1639 1660.8 1640 1661.3 1640.9" fill="none" stroke="#000" stroke-width="2.8" stroke-dasharray="5.5 5"/>
</g>
<path d="M297.9 631.4V1069.6" stroke="#000" stroke-width="2.8" stroke-dasharray="10 10.5"/>
<path d="M770.2 631.4V1069.6" stroke="#000" stroke-width="2.8" stroke-dasharray="10 10.5"/>
<path d="M1154.8 631.4V1069.6" stroke="#000" stroke-width="2.8" stroke-dasharray="10 10.5"/>
<path d="M1640.8 631.4V1069.6" stroke="#000" stroke-width="2.8" stroke-dasharray="10 10.5"/>
<path d="M297.9 1204.1V1642.7" stroke="#000" stroke-width="2.8" stroke-dasharray="10 10.5"/>
<path d="M770.2 1204.1V1642.7" stroke="#000" stroke-width="2.8" stroke-dasharray="10 10.5"/>
<path d="M1154.8 1204.1V1642.7" stroke="#000" stroke-width="2.8" stroke-dasharray="10 10.5"/>
<path d="M1640.8 1204.1V1642.7" stroke="#000" stroke-width="2.8" stroke-dasharray="10 10.5"/>
<g clip-path="url(#fra)">
<rect x="170.5" y="271" width="269.7" height="12.8" fill="#f274b4"/>
<text x="296" y="261" font-size="35.6" fill="#f274b4">Mirror</text>
<text x="377" y="143" font-size="62" fill="#ee2a1c">K</text>
<text x="363" y="484" font-size="62" fill="#ee2a1c">K’</text>
<rect x="271" y="107" width="8" height="340.5" fill="#6cf0f0"/>
<rect x="398.5" y="107" width="7.8" height="340.5" fill="#6cf0f0"/>
</g>
<path d="M255.3 64.5 L334.6 109.1 L342.3 115.5 L342.3 438.7 L334.6 443.8 L255.3 489.7" fill="none" stroke="#ee2a1c" stroke-width="2.6" stroke-dasharray="8 5.5" clip-path="url(#fra)"/>
<path d="M727.5 64.5 L807 109.1 L814.7 115.5 L814.7 438.7 L807 443.8 L727.5 489.7" fill="none" stroke="#ee2a1c" stroke-width="2.6" stroke-dasharray="8 5.5" clip-path="url(#frb)"/>
<path d="M1112.5 64.5 L1191.9 109.1 L1199.5 115.5 L1199.5 438.7 L1191.9 443.8 L1112.5 489.7" fill="none" stroke="#ee2a1c" stroke-width="2.6" stroke-dasharray="8 5.5" clip-path="url(#frc)"/>
<g clip-path="url(#fra)">
<text transform="translate(320.3 162.5) rotate(-90)" font-size="47" fill="#6cf0f0" textLength="90" lengthAdjust="spacing">Cut1</text>
<text transform="translate(445.2 162.5) rotate(-90)" font-size="47" fill="#6cf0f0" textLength="97" lengthAdjust="spacing">Cut2</text>
</g>
<text x="849" y="125" font-size="62" fill="#ee2a1c">K</text>
<text x="829" y="470" font-size="62" fill="#ee2a1c">K’</text>
<text x="1232" y="129" font-size="62" fill="#ee2a1c">K</text>
<text x="1217" y="469" font-size="62" fill="#ee2a1c">K’</text>
<text x="222" y="341" font-size="46" fill="#ee8a2c">α</text>
<text transform="translate(295 405) scale(1 1.15)" font-size="46" fill="#ee8a2c">β</text>
<polygon points="167.8,239.7 200.7,217.3 200.7,231.5 219.5,200.5 183.8,206.7 197,211.9 164.2,234.3" fill="#eeee35"/>
<polygon points="165.1,340.7 197.1,362.9 183.8,368 219.5,374.5 201,343.3 200.8,357.6 168.9,335.3" fill="#eeee35"/>
<polygon points="638.3,226.2 670.3,204.2 670.3,218.4 689,187.3 653.3,193.7 666.6,198.8 634.7,220.8" fill="#eeee35"/>
<polygon points="1018.7,335.2 1051.4,357.2 1038.2,362.5 1074,368.5 1055,337.6 1055.1,351.8 1022.3,329.8" fill="#eeee35"/>
<text x="317" y="858" font-size="46" fill="#ee8a2c">α</text>
<text transform="translate(401 832) scale(1 1.15)" font-size="46" fill="#ee8a2c">β</text>
<text x="308" y="1388" font-size="46" fill="#ee8a2c">α</text>
<text transform="translate(389 1441) scale(1 1.15)" font-size="46" fill="#ee8a2c">β</text>
<text x="339.5" y="1056" font-size="47" fill="#6cf0f0" textLength="90" lengthAdjust="spacing">Cut1</text>
<text x="334.5" y="1624" font-size="47" fill="#6cf0f0" textLength="98.5" lengthAdjust="spacing">Cut2</text>
<text x="1682.5" y="1056" font-size="47" fill="#000" textLength="90" lengthAdjust="spacing">Cut1</text>
<text x="1679.2" y="1624" font-size="47" fill="#000" textLength="98.5" lengthAdjust="spacing">Cut2</text>
<rect x="1347.5" y="237.5" width="23" height="207" fill="url(#cbg)" stroke="#000" stroke-width="2.4"/>
<text x="1320" y="214" font-size="41">High</text>
<text x="1324" y="490" font-size="41">Low</text>
<rect x="1526.5" y="528.5" width="212" height="22" fill="url(#cbrb)" stroke="#000" stroke-width="2.4"/>
<path d="M1528.5 509.5H1550M1539.25 498.5V520.5" stroke="#000" stroke-width="3.2"/>
<text transform="translate(1634.3 521) scale(1 1.06)" font-size="35" text-anchor="middle">0</text>
<rect x="1723.6" y="508.5" width="14.3" height="4" fill="#000"/>
<text x="1463" y="610" font-size="36" font-style="italic">A(-1.6 mT) - A(1.6 mT)</text>
<path d="M147.9 489.7V500.7M232.8 489.7V500.7M317.7 489.7V500.7M402.6 489.7V500.7M190.3 489.7V496.2M275.2 489.7V496.2M360.1 489.7V496.2M445 489.7V496.2M147.9 107H136.9M147.9 192.1H136.9M147.9 277.1H136.9M147.9 362.1H136.9M147.9 447.2H136.9M147.9 64.5H141.4M147.9 85.8H141.4M147.9 128.3H141.4M147.9 149.5H141.4M147.9 170.8H141.4M147.9 213.3H141.4M147.9 234.6H141.4M147.9 255.8H141.4M147.9 298.4H141.4M147.9 319.6H141.4M147.9 340.9H141.4M147.9 383.4H141.4M147.9 404.7H141.4M147.9 425.9H141.4M147.9 468.4H141.4M147.9 489.7H141.4" stroke="#000" stroke-width="2.6" fill="none"/>
<rect x="147.9" y="64.5" width="297.1" height="425.2" fill="none" stroke="#000" stroke-width="2.6"/>
<g font-size="30" text-anchor="middle"><text transform="translate(147.9 533.7) scale(1 1.12)">0.2</text><text transform="translate(232.8 533.7) scale(1 1.12)">0.4</text><text transform="translate(317.7 533.7) scale(1 1.12)">0.6</text><text transform="translate(402.6 533.7) scale(1 1.12)">0.8</text><text transform="translate(130.9 118.8) scale(1 1.12)" text-anchor="end">0.4</text><text transform="translate(130.9 203.9) scale(1 1.12)" text-anchor="end">0.2</text><text transform="translate(130.9 288.9) scale(1 1.12)" text-anchor="end">0.0</text><text transform="translate(130.9 373.9) scale(1 1.12)" text-anchor="end">-0.2</text><text transform="translate(130.9 459) scale(1 1.12)" text-anchor="end">-0.4</text></g>
<path d="M620 489.7V500.7M705 489.7V500.7M790 489.7V500.7M875 489.7V500.7M662.5 489.7V496.2M747.5 489.7V496.2M832.5 489.7V496.2M917.5 489.7V496.2M620 107H609M620 192.1H609M620 277.1H609M620 362.1H609M620 447.2H609M620 64.5H613.5M620 85.8H613.5M620 128.3H613.5M620 149.5H613.5M620 170.8H613.5M620 213.3H613.5M620 234.6H613.5M620 255.8H613.5M620 298.4H613.5M620 319.6H613.5M620 340.9H613.5M620 383.4H613.5M620 404.7H613.5M620 425.9H613.5M620 468.4H613.5M620 489.7H613.5" stroke="#000" stroke-width="2.6" fill="none"/>
<rect x="620" y="64.5" width="297.5" height="425.2" fill="none" stroke="#000" stroke-width="2.6"/>
<g font-size="30" text-anchor="middle"><text transform="translate(620 533.7) scale(1 1.12)">0.2</text><text transform="translate(705 533.7) scale(1 1.12)">0.4</text><text transform="translate(790 533.7) scale(1 1.12)">0.6</text><text transform="translate(875 533.7) scale(1 1.12)">0.8</text><text transform="translate(603 118.8) scale(1 1.12)" text-anchor="end">0.4</text><text transform="translate(603 203.9) scale(1 1.12)" text-anchor="end">0.2</text><text transform="translate(603 288.9) scale(1 1.12)" text-anchor="end">0.0</text><text transform="translate(603 373.9) scale(1 1.12)" text-anchor="end">-0.2</text><text transform="translate(603 459) scale(1 1.12)" text-anchor="end">-0.4</text></g>
<path d="M1005 489.7V500.7M1089.9 489.7V500.7M1174.9 489.7V500.7M1259.8 489.7V500.7M1047.5 489.7V496.2M1132.4 489.7V496.2M1217.4 489.7V496.2M1302.3 489.7V496.2M1005 107H994M1005 192.1H994M1005 277.1H994M1005 362.1H994M1005 447.2H994M1005 64.5H998.5M1005 85.8H998.5M1005 128.3H998.5M1005 149.5H998.5M1005 170.8H998.5M1005 213.3H998.5M1005 234.6H998.5M1005 255.8H998.5M1005 298.4H998.5M1005 319.6H998.5M1005 340.9H998.5M1005 383.4H998.5M1005 404.7H998.5M1005 425.9H998.5M1005 468.4H998.5M1005 489.7H998.5" stroke="#000" stroke-width="2.6" fill="none"/>
<rect x="1005" y="64.5" width="297.3" height="425.2" fill="none" stroke="#000" stroke-width="2.6"/>
<g font-size="30" text-anchor="middle"><text transform="translate(1005 533.7) scale(1 1.12)">0.2</text><text transform="translate(1089.9 533.7) scale(1 1.12)">0.4</text><text transform="translate(1174.9 533.7) scale(1 1.12)">0.6</text><text transform="translate(1259.8 533.7) scale(1 1.12)">0.8</text><text transform="translate(988 118.8) scale(1 1.12)" text-anchor="end">0.4</text><text transform="translate(988 203.9) scale(1 1.12)" text-anchor="end">0.2</text><text transform="translate(988 288.9) scale(1 1.12)" text-anchor="end">0.0</text><text transform="translate(988 373.9) scale(1 1.12)" text-anchor="end">-0.2</text><text transform="translate(988 459) scale(1 1.12)" text-anchor="end">-0.4</text></g>
<path d="M148.7 1069.6V1080.6M223.3 1069.6V1080.6M297.9 1069.6V1080.6M372.4 1069.6V1080.6M447 1069.6V1080.6M167.3 1069.6V1076.1M186 1069.6V1076.1M204.6 1069.6V1076.1M241.9 1069.6V1076.1M260.6 1069.6V1076.1M279.2 1069.6V1076.1M316.5 1069.6V1076.1M335.1 1069.6V1076.1M353.8 1069.6V1076.1M391.1 1069.6V1076.1M409.7 1069.6V1076.1M428.4 1069.6V1076.1M148.7 630.4H137.7M148.7 703.6H137.7M148.7 776.8H137.7M148.7 850H137.7M148.7 923.2H137.7M148.7 996.4H137.7M148.7 1069.6H137.7M148.7 648.7H142.2M148.7 667H142.2M148.7 685.3H142.2M148.7 721.9H142.2M148.7 740.2H142.2M148.7 758.5H142.2M148.7 795.1H142.2M148.7 813.4H142.2M148.7 831.7H142.2M148.7 868.3H142.2M148.7 886.6H142.2M148.7 904.9H142.2M148.7 941.5H142.2M148.7 959.8H142.2M148.7 978.1H142.2M148.7 1014.7H142.2M148.7 1033H142.2M148.7 1051.3H142.2" stroke="#000" stroke-width="2.6" fill="none"/>
<rect x="148.7" y="630.4" width="298.3" height="439.2" fill="none" stroke="#000" stroke-width="2.6"/>
<g font-size="30" text-anchor="middle"><text transform="translate(148.7 1113.6) scale(1 1.12)">-0.4</text><text transform="translate(223.3 1113.6) scale(1 1.12)">-0.2</text><text transform="translate(297.9 1113.6) scale(1 1.12)">0.0</text><text transform="translate(372.4 1113.6) scale(1 1.12)">0.2</text><text transform="translate(447 1113.6) scale(1 1.12)">0.4</text><text transform="translate(131.7 642.2) scale(1 1.12)" text-anchor="end">0.2</text><text transform="translate(131.7 715.4) scale(1 1.12)" text-anchor="end">0.0</text><text transform="translate(131.7 788.6) scale(1 1.12)" text-anchor="end">-0.2</text><text transform="translate(131.7 861.8) scale(1 1.12)" text-anchor="end">-0.4</text><text transform="translate(131.7 935) scale(1 1.12)" text-anchor="end">-0.6</text><text transform="translate(131.7 1008.2) scale(1 1.12)" text-anchor="end">-0.8</text><text transform="translate(131.7 1081.4) scale(1 1.12)" text-anchor="end">-1.0</text></g>
<path d="M621 1069.6V1080.6M695.6 1069.6V1080.6M770.2 1069.6V1080.6M844.9 1069.6V1080.6M919.5 1069.6V1080.6M639.7 1069.6V1076.1M658.3 1069.6V1076.1M677 1069.6V1076.1M714.3 1069.6V1076.1M732.9 1069.6V1076.1M751.6 1069.6V1076.1M788.9 1069.6V1076.1M807.6 1069.6V1076.1M826.2 1069.6V1076.1M863.5 1069.6V1076.1M882.2 1069.6V1076.1M900.8 1069.6V1076.1M621 630.4H610M621 703.6H610M621 776.8H610M621 850H610M621 923.2H610M621 996.4H610M621 1069.6H610M621 648.7H614.5M621 667H614.5M621 685.3H614.5M621 721.9H614.5M621 740.2H614.5M621 758.5H614.5M621 795.1H614.5M621 813.4H614.5M621 831.7H614.5M621 868.3H614.5M621 886.6H614.5M621 904.9H614.5M621 941.5H614.5M621 959.8H614.5M621 978.1H614.5M621 1014.7H614.5M621 1033H614.5M621 1051.3H614.5" stroke="#000" stroke-width="2.6" fill="none"/>
<rect x="621" y="630.4" width="298.5" height="439.2" fill="none" stroke="#000" stroke-width="2.6"/>
<g font-size="30" text-anchor="middle"><text transform="translate(621 1113.6) scale(1 1.12)">-0.4</text><text transform="translate(695.6 1113.6) scale(1 1.12)">-0.2</text><text transform="translate(770.2 1113.6) scale(1 1.12)">0.0</text><text transform="translate(844.9 1113.6) scale(1 1.12)">0.2</text><text transform="translate(919.5 1113.6) scale(1 1.12)">0.4</text><text transform="translate(604 642.2) scale(1 1.12)" text-anchor="end">0.2</text><text transform="translate(604 715.4) scale(1 1.12)" text-anchor="end">0.0</text><text transform="translate(604 788.6) scale(1 1.12)" text-anchor="end">-0.2</text><text transform="translate(604 861.8) scale(1 1.12)" text-anchor="end">-0.4</text><text transform="translate(604 935) scale(1 1.12)" text-anchor="end">-0.6</text><text transform="translate(604 1008.2) scale(1 1.12)" text-anchor="end">-0.8</text><text transform="translate(604 1081.4) scale(1 1.12)" text-anchor="end">-1.0</text></g>
<path d="M1005.5 1069.6V1080.6M1080.1 1069.6V1080.6M1154.8 1069.6V1080.6M1229.4 1069.6V1080.6M1304 1069.6V1080.6M1024.2 1069.6V1076.1M1042.8 1069.6V1076.1M1061.5 1069.6V1076.1M1098.8 1069.6V1076.1M1117.4 1069.6V1076.1M1136.1 1069.6V1076.1M1173.4 1069.6V1076.1M1192.1 1069.6V1076.1M1210.7 1069.6V1076.1M1248 1069.6V1076.1M1266.7 1069.6V1076.1M1285.3 1069.6V1076.1M1005.5 630.4H994.5M1005.5 703.6H994.5M1005.5 776.8H994.5M1005.5 850H994.5M1005.5 923.2H994.5M1005.5 996.4H994.5M1005.5 1069.6H994.5M1005.5 648.7H999M1005.5 667H999M1005.5 685.3H999M1005.5 721.9H999M1005.5 740.2H999M1005.5 758.5H999M1005.5 795.1H999M1005.5 813.4H999M1005.5 831.7H999M1005.5 868.3H999M1005.5 886.6H999M1005.5 904.9H999M1005.5 941.5H999M1005.5 959.8H999M1005.5 978.1H999M1005.5 1014.7H999M1005.5 1033H999M1005.5 1051.3H999" stroke="#000" stroke-width="2.6" fill="none"/>
<rect x="1005.5" y="630.4" width="298.5" height="439.2" fill="none" stroke="#000" stroke-width="2.6"/>
<g font-size="30" text-anchor="middle"><text transform="translate(1005.5 1113.6) scale(1 1.12)">-0.4</text><text transform="translate(1080.1 1113.6) scale(1 1.12)">-0.2</text><text transform="translate(1154.8 1113.6) scale(1 1.12)">0.0</text><text transform="translate(1229.4 1113.6) scale(1 1.12)">0.2</text><text transform="translate(1304 1113.6) scale(1 1.12)">0.4</text><text transform="translate(988.5 715.4) scale(1 1.12)" text-anchor="end">0.0</text><text transform="translate(988.5 788.6) scale(1 1.12)" text-anchor="end">-0.2</text><text transform="translate(988.5 861.8) scale(1 1.12)" text-anchor="end">-0.4</text><text transform="translate(988.5 935) scale(1 1.12)" text-anchor="end">-0.6</text><text transform="translate(988.5 1008.2) scale(1 1.12)" text-anchor="end">-0.8</text><text transform="translate(988.5 1081.4) scale(1 1.12)" text-anchor="end">-1.0</text></g>
<path d="M1491.5 1069.6V1080.6M1566.1 1069.6V1080.6M1640.8 1069.6V1080.6M1715.4 1069.6V1080.6M1790 1069.6V1080.6M1510.2 1069.6V1076.1M1528.8 1069.6V1076.1M1547.5 1069.6V1076.1M1584.8 1069.6V1076.1M1603.4 1069.6V1076.1M1622.1 1069.6V1076.1M1659.4 1069.6V1076.1M1678.1 1069.6V1076.1M1696.7 1069.6V1076.1M1734 1069.6V1076.1M1752.7 1069.6V1076.1M1771.3 1069.6V1076.1M1491.5 630.4H1480.5M1491.5 703.6H1480.5M1491.5 776.8H1480.5M1491.5 850H1480.5M1491.5 923.2H1480.5M1491.5 996.4H1480.5M1491.5 1069.6H1480.5M1491.5 648.7H1485M1491.5 667H1485M1491.5 685.3H1485M1491.5 721.9H1485M1491.5 740.2H1485M1491.5 758.5H1485M1491.5 795.1H1485M1491.5 813.4H1485M1491.5 831.7H1485M1491.5 868.3H1485M1491.5 886.6H1485M1491.5 904.9H1485M1491.5 941.5H1485M1491.5 959.8H1485M1491.5 978.1H1485M1491.5 1014.7H1485M1491.5 1033H1485M1491.5 1051.3H1485" stroke="#000" stroke-width="2.6" fill="none"/>
<rect x="1491.5" y="630.4" width="298.5" height="439.2" fill="none" stroke="#000" stroke-width="2.6"/>
<g font-size="30" text-anchor="middle"><text transform="translate(1491.5 1113.6) scale(1 1.12)">-0.4</text><text transform="translate(1566.1 1113.6) scale(1 1.12)">-0.2</text><text transform="translate(1640.8 1113.6) scale(1 1.12)">0.0</text><text transform="translate(1715.4 1113.6) scale(1 1.12)">0.2</text><text transform="translate(1790 1113.6) scale(1 1.12)">0.4</text><text transform="translate(1474.5 642.2) scale(1 1.12)" text-anchor="end">0.2</text><text transform="translate(1474.5 715.4) scale(1 1.12)" text-anchor="end">0.0</text><text transform="translate(1474.5 788.6) scale(1 1.12)" text-anchor="end">-0.2</text><text transform="translate(1474.5 861.8) scale(1 1.12)" text-anchor="end">-0.4</text><text transform="translate(1474.5 935) scale(1 1.12)" text-anchor="end">-0.6</text><text transform="translate(1474.5 1008.2) scale(1 1.12)" text-anchor="end">-0.8</text><text transform="translate(1474.5 1081.4) scale(1 1.12)" text-anchor="end">-1.0</text></g>
<path d="M148.7 1642.7V1653.7M223.3 1642.7V1653.7M297.9 1642.7V1653.7M372.4 1642.7V1653.7M447 1642.7V1653.7M167.3 1642.7V1649.2M186 1642.7V1649.2M204.6 1642.7V1649.2M241.9 1642.7V1649.2M260.6 1642.7V1649.2M279.2 1642.7V1649.2M316.5 1642.7V1649.2M335.1 1642.7V1649.2M353.8 1642.7V1649.2M391.1 1642.7V1649.2M409.7 1642.7V1649.2M428.4 1642.7V1649.2M148.7 1203.1H137.7M148.7 1276.4H137.7M148.7 1349.6H137.7M148.7 1422.9H137.7M148.7 1496.2H137.7M148.7 1569.4H137.7M148.7 1642.7H137.7M148.7 1221.4H142.2M148.7 1239.7H142.2M148.7 1258H142.2M148.7 1294.7H142.2M148.7 1313H142.2M148.7 1331.3H142.2M148.7 1368H142.2M148.7 1386.3H142.2M148.7 1404.6H142.2M148.7 1441.2H142.2M148.7 1459.5H142.2M148.7 1477.8H142.2M148.7 1514.5H142.2M148.7 1532.8H142.2M148.7 1551.1H142.2M148.7 1587.8H142.2M148.7 1606.1H142.2M148.7 1624.4H142.2" stroke="#000" stroke-width="2.6" fill="none"/>
<rect x="148.7" y="1203.1" width="298.3" height="439.6" fill="none" stroke="#000" stroke-width="2.6"/>
<g font-size="30" text-anchor="middle"><text transform="translate(148.7 1686.7) scale(1 1.12)">-0.4</text><text transform="translate(223.3 1686.7) scale(1 1.12)">-0.2</text><text transform="translate(297.9 1686.7) scale(1 1.12)">0.0</text><text transform="translate(372.4 1686.7) scale(1 1.12)">0.2</text><text transform="translate(447 1686.7) scale(1 1.12)">0.4</text><text transform="translate(131.7 1214.9) scale(1 1.12)" text-anchor="end">0.2</text><text transform="translate(131.7 1288.2) scale(1 1.12)" text-anchor="end">0.0</text><text transform="translate(131.7 1361.4) scale(1 1.12)" text-anchor="end">-0.2</text><text transform="translate(131.7 1434.7) scale(1 1.12)" text-anchor="end">-0.4</text><text transform="translate(131.7 1508) scale(1 1.12)" text-anchor="end">-0.6</text><text transform="translate(131.7 1581.2) scale(1 1.12)" text-anchor="end">-0.8</text><text transform="translate(131.7 1654.5) scale(1 1.12)" text-anchor="end">-1.0</text></g>
<path d="M621 1642.7V1653.7M695.6 1642.7V1653.7M770.2 1642.7V1653.7M844.9 1642.7V1653.7M919.5 1642.7V1653.7M639.7 1642.7V1649.2M658.3 1642.7V1649.2M677 1642.7V1649.2M714.3 1642.7V1649.2M732.9 1642.7V1649.2M751.6 1642.7V1649.2M788.9 1642.7V1649.2M807.6 1642.7V1649.2M826.2 1642.7V1649.2M863.5 1642.7V1649.2M882.2 1642.7V1649.2M900.8 1642.7V1649.2M621 1203.1H610M621 1276.4H610M621 1349.6H610M621 1422.9H610M621 1496.2H610M621 1569.4H610M621 1642.7H610M621 1221.4H614.5M621 1239.7H614.5M621 1258H614.5M621 1294.7H614.5M621 1313H614.5M621 1331.3H614.5M621 1368H614.5M621 1386.3H614.5M621 1404.6H614.5M621 1441.2H614.5M621 1459.5H614.5M621 1477.8H614.5M621 1514.5H614.5M621 1532.8H614.5M621 1551.1H614.5M621 1587.8H614.5M621 1606.1H614.5M621 1624.4H614.5" stroke="#000" stroke-width="2.6" fill="none"/>
<rect x="621" y="1203.1" width="298.5" height="439.6" fill="none" stroke="#000" stroke-width="2.6"/>
<g font-size="30" text-anchor="middle"><text transform="translate(621 1686.7) scale(1 1.12)">-0.4</text><text transform="translate(695.6 1686.7) scale(1 1.12)">-0.2</text><text transform="translate(770.2 1686.7) scale(1 1.12)">0.0</text><text transform="translate(844.9 1686.7) scale(1 1.12)">0.2</text><text transform="translate(919.5 1686.7) scale(1 1.12)">0.4</text><text transform="translate(604 1214.9) scale(1 1.12)" text-anchor="end">0.2</text><text transform="translate(604 1288.2) scale(1 1.12)" text-anchor="end">0.0</text><text transform="translate(604 1361.4) scale(1 1.12)" text-anchor="end">-0.2</text><text transform="translate(604 1434.7) scale(1 1.12)" text-anchor="end">-0.4</text><text transform="translate(604 1508) scale(1 1.12)" text-anchor="end">-0.6</text><text transform="translate(604 1581.2) scale(1 1.12)" text-anchor="end">-0.8</text><text transform="translate(604 1654.5) scale(1 1.12)" text-anchor="end">-1.0</text></g>
<path d="M1005.5 1642.7V1653.7M1080.1 1642.7V1653.7M1154.8 1642.7V1653.7M1229.4 1642.7V1653.7M1304 1642.7V1653.7M1024.2 1642.7V1649.2M1042.8 1642.7V1649.2M1061.5 1642.7V1649.2M1098.8 1642.7V1649.2M1117.4 1642.7V1649.2M1136.1 1642.7V1649.2M1173.4 1642.7V1649.2M1192.1 1642.7V1649.2M1210.7 1642.7V1649.2M1248 1642.7V1649.2M1266.7 1642.7V1649.2M1285.3 1642.7V1649.2M1005.5 1203.1H994.5M1005.5 1276.4H994.5M1005.5 1349.6H994.5M1005.5 1422.9H994.5M1005.5 1496.2H994.5M1005.5 1569.4H994.5M1005.5 1642.7H994.5M1005.5 1221.4H999M1005.5 1239.7H999M1005.5 1258H999M1005.5 1294.7H999M1005.5 1313H999M1005.5 1331.3H999M1005.5 1368H999M1005.5 1386.3H999M1005.5 1404.6H999M1005.5 1441.2H999M1005.5 1459.5H999M1005.5 1477.8H999M1005.5 1514.5H999M1005.5 1532.8H999M1005.5 1551.1H999M1005.5 1587.8H999M1005.5 1606.1H999M1005.5 1624.4H999" stroke="#000" stroke-width="2.6" fill="none"/>
<rect x="1005.5" y="1203.1" width="298.5" height="439.6" fill="none" stroke="#000" stroke-width="2.6"/>
<g font-size="30" text-anchor="middle"><text transform="translate(1005.5 1686.7) scale(1 1.12)">-0.4</text><text transform="translate(1080.1 1686.7) scale(1 1.12)">-0.2</text><text transform="translate(1154.8 1686.7) scale(1 1.12)">0.0</text><text transform="translate(1229.4 1686.7) scale(1 1.12)">0.2</text><text transform="translate(1304 1686.7) scale(1 1.12)">0.4</text><text transform="translate(988.5 1288.2) scale(1 1.12)" text-anchor="end">0.0</text><text transform="translate(988.5 1361.4) scale(1 1.12)" text-anchor="end">-0.2</text><text transform="translate(988.5 1434.7) scale(1 1.12)" text-anchor="end">-0.4</text><text transform="translate(988.5 1508) scale(1 1.12)" text-anchor="end">-0.6</text><text transform="translate(988.5 1581.2) scale(1 1.12)" text-anchor="end">-0.8</text><text transform="translate(988.5 1654.5) scale(1 1.12)" text-anchor="end">-1.0</text></g>
<path d="M1491.5 1642.7V1653.7M1566.1 1642.7V1653.7M1640.8 1642.7V1653.7M1715.4 1642.7V1653.7M1790 1642.7V1653.7M1510.2 1642.7V1649.2M1528.8 1642.7V1649.2M1547.5 1642.7V1649.2M1584.8 1642.7V1649.2M1603.4 1642.7V1649.2M1622.1 1642.7V1649.2M1659.4 1642.7V1649.2M1678.1 1642.7V1649.2M1696.7 1642.7V1649.2M1734 1642.7V1649.2M1752.7 1642.7V1649.2M1771.3 1642.7V1649.2M1491.5 1203.1H1480.5M1491.5 1276.4H1480.5M1491.5 1349.6H1480.5M1491.5 1422.9H1480.5M1491.5 1496.2H1480.5M1491.5 1569.4H1480.5M1491.5 1642.7H1480.5M1491.5 1221.4H1485M1491.5 1239.7H1485M1491.5 1258H1485M1491.5 1294.7H1485M1491.5 1313H1485M1491.5 1331.3H1485M1491.5 1368H1485M1491.5 1386.3H1485M1491.5 1404.6H1485M1491.5 1441.2H1485M1491.5 1459.5H1485M1491.5 1477.8H1485M1491.5 1514.5H1485M1491.5 1532.8H1485M1491.5 1551.1H1485M1491.5 1587.8H1485M1491.5 1606.1H1485M1491.5 1624.4H1485" stroke="#000" stroke-width="2.6" fill="none"/>
<rect x="1491.5" y="1203.1" width="298.5" height="439.6" fill="none" stroke="#000" stroke-width="2.6"/>
<g font-size="30" text-anchor="middle"><text transform="translate(1491.5 1686.7) scale(1 1.12)">-0.4</text><text transform="translate(1566.1 1686.7) scale(1 1.12)">-0.2</text><text transform="translate(1640.8 1686.7) scale(1 1.12)">0.0</text><text transform="translate(1715.4 1686.7) scale(1 1.12)">0.2</text><text transform="translate(1790 1686.7) scale(1 1.12)">0.4</text><text transform="translate(1474.5 1214.9) scale(1 1.12)" text-anchor="end">0.2</text><text transform="translate(1474.5 1288.2) scale(1 1.12)" text-anchor="end">0.0</text><text transform="translate(1474.5 1361.4) scale(1 1.12)" text-anchor="end">-0.2</text><text transform="translate(1474.5 1434.7) scale(1 1.12)" text-anchor="end">-0.4</text><text transform="translate(1474.5 1508) scale(1 1.12)" text-anchor="end">-0.6</text><text transform="translate(1474.5 1581.2) scale(1 1.12)" text-anchor="end">-0.8</text><text transform="translate(1474.5 1654.5) scale(1 1.12)" text-anchor="end">-1.0</text></g>
<text x="19.5" y="72.3" font-size="65" font-weight="bold">a</text>
<text x="499.5" y="72.7" font-size="65" font-weight="bold">b</text>
<text x="941.4" y="72.7" font-size="65" font-weight="bold">c</text>
<text x="21.5" y="660.4" font-size="65" font-weight="bold">d</text>
<text x="505.3" y="661" font-size="65" font-weight="bold">e</text>
<text x="942.2" y="659.2" font-size="65" font-weight="bold">f</text>
<text x="1347.7" y="660.3" font-size="65" font-weight="bold">g</text>
<text x="18.8" y="1237" font-size="65" font-weight="bold">h</text>
<text x="505.2" y="1237" font-size="65" font-weight="bold">i</text>
<text x="954" y="1237" font-size="65" font-weight="bold">j</text>
<text x="1353.5" y="1237" font-size="65" font-weight="bold">k</text>
<text transform="translate(300.8 40) scale(1 1.03)" font-size="52.5" text-anchor="middle">0 mT</text>
<text transform="translate(784 40) scale(1 1.03)" font-size="52.5" text-anchor="middle">1.6 mT</text>
<text transform="translate(1148.9 40) scale(1 1.03)" font-size="52.5" text-anchor="middle">-1.6 mT</text>
<text x="228.5" y="588" font-size="46">k<tspan font-size="28" dy="15">x</tspan><tspan dy="-15"> (1/Å)</tspan></text>
<text x="700.6" y="586.5" font-size="46">k<tspan font-size="28" dy="15">x</tspan><tspan dy="-15"> (1/Å)</tspan></text>
<text x="1084.3" y="589.5" font-size="46">k<tspan font-size="28" dy="15">x</tspan><tspan dy="-15"> (1/Å)</tspan></text>
<text x="234.5" y="1168" font-size="46">k<tspan font-size="28" dy="15">y</tspan><tspan dy="-15"> (1/Å)</tspan></text>
<text x="706.6" y="1165" font-size="46">k<tspan font-size="28" dy="15">y</tspan><tspan dy="-15"> (1/Å)</tspan></text>
<text x="1089.6" y="1169" font-size="46">k<tspan font-size="28" dy="15">y</tspan><tspan dy="-15"> (1/Å)</tspan></text>
<text x="1570.3" y="1167.5" font-size="46">k<tspan font-size="28" dy="15">x</tspan><tspan dy="-15"> (1/Å)</tspan></text>
<text x="233.2" y="1738.5" font-size="46">k<tspan font-size="28" dy="15">y</tspan><tspan dy="-15"> (1/Å)</tspan></text>
<text x="706.6" y="1736.5" font-size="46">k<tspan font-size="28" dy="15">y</tspan><tspan dy="-15"> (1/Å)</tspan></text>
<text x="1089.4" y="1741" font-size="46">k<tspan font-size="28" dy="15">y</tspan><tspan dy="-15"> (1/Å)</tspan></text>
<text x="1570.5" y="1737.5" font-size="46">k<tspan font-size="28" dy="15">x</tspan><tspan dy="-15"> (1/Å)</tspan></text>
<text transform="translate(45 272) rotate(-90)" font-size="46" text-anchor="middle">k<tspan font-size="30" dy="14">y</tspan><tspan dy="-14"> (1/Å)</tspan></text>
<text transform="translate(517 272) rotate(-90)" font-size="46" text-anchor="middle">k<tspan font-size="30" dy="14">y</tspan><tspan dy="-14"> (1/Å)</tspan></text>
<text transform="translate(45 868) rotate(-90)" font-size="46" text-anchor="middle">E - E<tspan font-size="30" dy="14">F</tspan><tspan dy="-14"> (eV)</tspan></text>
<text transform="translate(515 865) rotate(-90)" font-size="46" text-anchor="middle">E - E<tspan font-size="30" dy="14">F</tspan><tspan dy="-14"> (eV)</tspan></text>
<text transform="translate(1389 877) rotate(-90)" font-size="46" text-anchor="middle">E - E<tspan font-size="30" dy="14">F</tspan><tspan dy="-14"> (eV)</tspan></text>
<text transform="translate(45 1423) rotate(-90)" font-size="46" text-anchor="middle">E - E<tspan font-size="30" dy="14">F</tspan><tspan dy="-14"> (eV)</tspan></text>
<text transform="translate(514 1419) rotate(-90)" font-size="46" text-anchor="middle">E - E<tspan font-size="30" dy="14">F</tspan><tspan dy="-14"> (eV)</tspan></text>
<text transform="translate(1386 1423) rotate(-90)" font-size="46" text-anchor="middle">E - E<tspan font-size="30" dy="14">F</tspan><tspan dy="-14"> (eV)</tspan></text>
</svg>
</body></html>
